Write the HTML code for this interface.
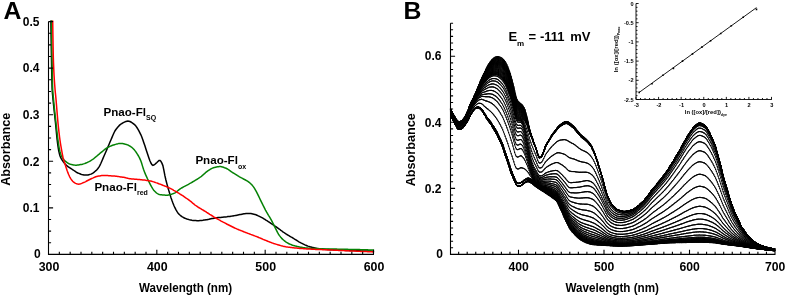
<!DOCTYPE html>
<html><head><meta charset="utf-8"><title>Figure</title>
<style>html,body{margin:0;padding:0;background:#fff}svg{display:block}</style>
</head><body>
<svg width="785" height="296" viewBox="0 0 785 296">
<rect width="785" height="296" fill="#fff"/>
<g fill="none" stroke-linejoin="round" stroke-linecap="round" stroke-width="1.5">
<path d="M50.9 21.0L51.1 35.5L51.3 48.6L51.5 60.0L51.7 70.5L51.9 80.2L52.1 87.6L52.3 91.6L52.5 94.0L52.7 96.0L52.9 98.1L53.1 100.2L53.3 102.2L53.5 104.2L53.7 106.1L53.9 108.0L54.1 109.9L54.3 111.8L54.5 113.6L54.7 115.5L54.9 117.3L55.1 119.2L55.3 121.1L55.5 123.0L55.7 125.0L55.9 127.0L56.1 129.2L56.3 131.3L56.5 133.4L56.7 135.5L56.9 137.5L57.1 139.3L57.3 141.0L57.5 142.6L57.7 144.2L57.9 145.6L58.1 147.0L58.3 148.3L58.5 149.5L58.7 150.5L58.9 151.5L59.1 152.4L59.3 153.3L59.5 154.1L59.7 154.9L59.9 155.5L60.1 156.1L60.3 156.6L60.5 157.1L60.7 157.5L60.9 157.9L61.1 158.3L61.3 158.7L61.5 159.1L61.7 159.4L61.9 159.7L62.1 160.0L62.3 160.3L62.5 160.6L62.7 160.9L62.9 161.2L63.1 161.5L63.3 161.7L63.5 162.0L63.7 162.3L63.9 162.5L64.1 162.8L64.3 163.0L64.5 163.3L64.7 163.5L64.9 163.7L65.1 164.0L65.3 164.2L65.5 164.4L65.7 164.6L65.9 164.8L66.1 165.0L66.3 165.2L66.5 165.4L66.7 165.6L66.9 165.7L67.1 165.9L67.3 166.1L67.5 166.2L67.7 166.4L67.9 166.6L68.1 166.7L68.3 166.9L68.5 167.0L68.7 167.1L68.9 167.3L69.1 167.4L69.3 167.5L69.5 167.7L69.7 167.8L69.9 167.9L70.9 168.5L71.9 169.2L72.9 169.8L73.9 170.5L74.9 171.2L75.9 171.9L76.9 172.5L77.9 173.0L78.9 173.4L79.9 173.8L80.9 174.2L81.9 174.5L82.9 174.7L83.9 174.9L84.9 175.0L85.9 175.1L86.9 175.1L87.9 175.0L88.9 174.7L89.9 174.4L90.9 174.1L91.9 173.7L92.9 173.1L93.9 172.4L94.9 171.5L95.9 170.7L96.9 169.7L97.9 168.5L98.9 167.1L99.9 165.4L100.9 163.3L101.9 161.0L102.9 158.6L103.9 156.3L104.9 154.0L105.9 151.7L106.9 149.4L107.9 147.0L108.9 144.7L109.9 142.3L110.9 140.0L111.9 137.6L112.9 135.2L113.9 133.0L114.9 131.0L115.9 129.5L116.9 128.2L117.9 127.0L118.9 125.9L119.9 124.9L120.9 124.2L121.9 123.5L122.9 122.9L123.9 122.4L124.9 121.9L125.9 121.5L126.9 121.2L127.9 121.1L128.9 121.2L129.9 121.5L130.9 122.0L131.9 122.6L132.9 123.3L133.9 124.1L134.9 124.9L135.9 126.1L136.9 127.5L137.9 129.1L138.9 130.9L139.9 132.8L140.9 134.8L141.9 137.3L142.9 140.1L143.9 143.0L144.9 145.8L145.9 148.9L146.9 151.9L147.9 154.9L148.9 157.9L149.9 160.8L150.9 163.0L151.9 164.7L152.9 165.4L153.9 165.0L154.9 164.3L155.9 163.4L156.9 162.5L157.9 161.5L158.9 160.6L159.9 160.4L160.9 161.3L161.9 163.1L162.9 165.6L163.9 170.3L164.9 175.7L165.9 180.0L166.9 183.9L167.9 187.5L168.9 190.9L169.9 194.2L170.9 197.4L171.9 200.3L172.9 203.0L173.9 205.5L174.9 207.7L175.9 209.6L176.9 211.4L177.9 212.9L178.9 214.1L179.9 215.0L180.9 215.8L181.9 216.6L182.9 217.2L183.9 217.8L184.9 218.2L185.9 218.6L186.9 219.0L187.9 219.3L188.9 219.6L189.9 219.9L190.9 220.1L191.9 220.3L192.9 220.4L193.9 220.5L194.9 220.6L195.9 220.6L196.9 220.7L197.9 220.7L198.9 220.7L199.9 220.6L200.9 220.5L201.9 220.4L202.9 220.3L203.9 220.1L204.9 220.0L205.9 219.8L206.9 219.7L207.9 219.5L208.9 219.3L209.9 219.0L210.9 218.8L211.9 218.6L212.9 218.4L213.9 218.2L214.9 218.0L215.9 217.9L216.9 217.7L217.9 217.6L218.9 217.5L219.9 217.5L220.9 217.4L221.9 217.3L222.9 217.2L223.9 217.1L224.9 217.0L225.9 216.9L226.9 216.8L227.9 216.6L228.9 216.5L229.9 216.4L230.9 216.2L231.9 216.1L232.9 215.9L233.9 215.7L234.9 215.6L235.9 215.4L236.9 215.2L237.9 215.0L238.9 214.8L239.9 214.6L240.9 214.4L241.9 214.2L242.9 214.0L243.9 213.8L244.9 213.7L245.9 213.6L246.9 213.5L247.9 213.4L248.9 213.4L249.9 213.5L250.9 213.6L251.9 213.8L252.9 214.0L253.9 214.2L254.9 214.4L255.9 214.8L256.9 215.2L257.9 215.7L258.9 216.1L259.9 216.6L260.9 217.1L261.9 217.6L262.9 218.2L263.9 218.8L264.9 219.4L265.9 220.1L266.9 220.7L267.9 221.3L268.9 222.0L269.9 222.6L270.9 223.3L271.9 224.0L272.9 224.6L273.9 225.3L274.9 226.0L275.9 226.7L276.9 227.4L277.9 228.1L278.9 228.8L279.9 229.5L280.9 230.3L281.9 231.0L282.9 231.8L283.9 232.5L284.9 233.2L285.9 233.8L286.9 234.5L287.9 235.1L288.9 235.7L289.9 236.3L290.9 236.9L291.9 237.4L292.9 238.0L293.9 238.7L294.9 239.3L295.9 239.9L296.9 240.5L297.9 241.2L298.9 241.8L299.9 242.3L300.9 242.9L301.9 243.4L302.9 243.9L303.9 244.4L304.9 244.9L305.9 245.3L306.9 245.7L307.9 246.1L308.9 246.4L309.9 246.7L310.9 247.1L311.9 247.3L312.9 247.6L313.9 247.8L314.9 248.0L315.9 248.2L316.9 248.4L317.9 248.5L318.9 248.7L319.9 248.8L320.9 248.9L321.9 249.0L322.9 249.1L323.9 249.2L324.9 249.3L325.9 249.4L326.9 249.5L327.9 249.5L328.9 249.6L329.9 249.7L330.9 249.7L331.9 249.8L332.9 249.8L333.9 249.9L334.9 249.9L335.9 250.0L336.9 250.0L337.9 250.1L338.9 250.1L339.9 250.1L340.9 250.2L341.9 250.2L342.9 250.2L343.9 250.3L344.9 250.3L345.9 250.4L346.9 250.4L347.9 250.4L348.9 250.5L349.9 250.5L350.9 250.5L351.9 250.6L352.9 250.6L353.9 250.6L354.9 250.7L355.9 250.7L356.9 250.7L357.9 250.8L358.9 250.8L359.9 250.8L360.9 250.9L361.9 250.9L362.9 250.9L363.9 251.0L364.9 251.0L365.9 251.0L366.9 251.0L367.9 251.1L368.9 251.1L369.9 251.1L370.9 251.1L371.9 251.2L372.9 251.2L373.5 251.2" stroke="#000"/>
<path d="M51.5 21.0L51.7 38.7L51.9 53.8L52.1 65.6L52.3 76.0L52.5 84.5L52.7 90.0L52.9 92.9L53.1 95.0L53.3 97.0L53.5 99.1L53.7 101.2L53.9 103.3L54.1 105.3L54.3 107.3L54.5 109.3L54.7 111.2L54.9 113.1L55.1 115.0L55.3 116.8L55.5 118.7L55.7 120.5L55.9 122.3L56.1 124.1L56.3 125.9L56.5 127.7L56.7 129.5L56.9 131.3L57.1 133.0L57.3 134.7L57.5 136.4L57.7 138.0L57.9 139.5L58.1 140.9L58.3 142.3L58.5 143.7L58.7 145.0L58.9 146.3L59.1 147.5L59.3 148.6L59.5 149.6L59.7 150.4L59.9 151.2L60.1 151.9L60.3 152.6L60.5 153.3L60.7 153.9L60.9 154.5L61.1 155.0L61.3 155.5L61.5 155.9L61.7 156.3L61.9 156.7L62.1 157.0L62.3 157.4L62.5 157.7L62.7 158.1L62.9 158.4L63.1 158.7L63.3 159.0L63.5 159.2L63.7 159.5L63.9 159.7L64.1 160.0L64.3 160.2L64.5 160.4L64.7 160.6L64.9 160.8L65.1 161.0L65.3 161.2L65.5 161.4L65.7 161.5L65.9 161.7L66.1 161.8L66.3 162.0L66.5 162.2L66.7 162.3L66.9 162.5L67.1 162.6L67.3 162.7L67.5 162.9L67.7 163.0L67.9 163.1L68.1 163.2L68.3 163.4L68.5 163.5L68.7 163.6L68.9 163.7L69.1 163.8L69.3 163.9L69.5 163.9L69.7 164.0L69.9 164.1L70.5 164.3L71.5 164.5L72.5 164.7L73.5 164.9L74.5 165.1L75.5 165.2L76.5 165.2L77.5 165.1L78.5 165.0L79.5 164.8L80.5 164.6L81.5 164.4L82.5 164.2L83.5 163.9L84.5 163.6L85.5 163.2L86.5 162.8L87.5 162.3L88.5 161.9L89.5 161.4L90.5 160.8L91.5 160.2L92.5 159.5L93.5 158.8L94.5 158.0L95.5 157.2L96.5 156.3L97.5 155.5L98.5 154.6L99.5 153.8L100.5 152.9L101.5 152.1L102.5 151.3L103.5 150.5L104.5 149.7L105.5 148.9L106.5 148.2L107.5 147.6L108.5 147.1L109.5 146.6L110.5 146.1L111.5 145.7L112.5 145.3L113.5 145.0L114.5 144.7L115.5 144.4L116.5 144.1L117.5 143.9L118.5 143.6L119.5 143.5L120.5 143.4L121.5 143.5L122.5 143.6L123.5 143.8L124.5 144.0L125.5 144.3L126.5 144.5L127.5 144.9L128.5 145.3L129.5 145.9L130.5 146.5L131.5 147.2L132.5 148.0L133.5 149.0L134.5 150.1L135.5 151.4L136.5 152.8L137.5 154.3L138.5 156.0L139.5 157.9L140.5 160.1L141.5 162.8L142.5 166.1L143.5 169.3L144.5 171.9L145.5 174.4L146.5 176.6L147.5 178.8L148.5 180.8L149.5 182.8L150.5 184.8L151.5 186.7L152.5 188.4L153.5 189.9L154.5 191.0L155.5 192.0L156.5 193.0L157.5 193.7L158.5 194.2L159.5 194.5L160.5 194.7L161.5 194.8L162.5 194.9L163.5 195.0L164.5 195.1L165.5 195.2L166.5 195.2L167.5 195.2L168.5 195.0L169.5 194.8L170.5 194.6L171.5 194.3L172.5 193.9L173.5 193.5L174.5 193.1L175.5 192.6L176.5 191.9L177.5 191.0L178.5 190.2L179.5 189.4L180.5 188.7L181.5 188.0L182.5 187.5L183.5 186.9L184.5 186.4L185.5 185.8L186.5 185.3L187.5 184.8L188.5 184.3L189.5 183.7L190.5 183.2L191.5 182.6L192.5 182.0L193.5 181.4L194.5 180.8L195.5 180.2L196.5 179.6L197.5 179.0L198.5 178.3L199.5 177.7L200.5 177.0L201.5 176.3L202.5 175.4L203.5 174.5L204.5 173.6L205.5 172.7L206.5 171.9L207.5 171.1L208.5 170.4L209.5 169.8L210.5 169.2L211.5 168.6L212.5 168.1L213.5 167.7L214.5 167.4L215.5 167.2L216.5 167.0L217.5 166.8L218.5 166.7L219.5 166.6L220.5 166.6L221.5 166.7L222.5 167.0L223.5 167.3L224.5 167.7L225.5 168.0L226.5 168.5L227.5 169.0L228.5 169.7L229.5 170.4L230.5 171.1L231.5 171.8L232.5 172.5L233.5 173.1L234.5 173.7L235.5 174.3L236.5 174.9L237.5 175.6L238.5 176.2L239.5 176.8L240.5 177.3L241.5 177.9L242.5 178.4L243.5 179.0L244.5 179.5L245.5 180.0L246.5 180.6L247.5 181.2L248.5 181.9L249.5 182.7L250.5 183.5L251.5 184.5L252.5 185.6L253.5 186.9L254.5 188.4L255.5 190.1L256.5 191.8L257.5 193.8L258.5 195.9L259.5 198.0L260.5 200.1L261.5 202.1L262.5 204.1L263.5 206.2L264.5 208.1L265.5 210.1L266.5 211.9L267.5 213.6L268.5 215.3L269.5 216.9L270.5 218.6L271.5 220.4L272.5 222.3L273.5 224.4L274.5 226.4L275.5 228.4L276.5 230.4L277.5 232.4L278.5 234.2L279.5 235.6L280.5 236.9L281.5 238.1L282.5 239.1L283.5 240.0L284.5 240.8L285.5 241.6L286.5 242.3L287.5 242.9L288.5 243.5L289.5 244.0L290.5 244.4L291.5 244.8L292.5 245.2L293.5 245.5L294.5 245.8L295.5 246.1L296.5 246.3L297.5 246.6L298.5 246.8L299.5 247.0L300.5 247.2L301.5 247.3L302.5 247.5L303.5 247.7L304.5 247.8L305.5 247.9L306.5 248.0L307.5 248.1L308.5 248.2L309.5 248.3L310.5 248.4L311.5 248.4L312.5 248.5L313.5 248.5L314.5 248.6L315.5 248.6L316.5 248.6L317.5 248.7L318.5 248.7L319.5 248.8L320.5 248.8L321.5 248.8L322.5 248.8L323.5 248.9L324.5 248.9L325.5 248.9L326.5 248.9L327.5 249.0L328.5 249.0L329.5 249.0L330.5 249.0L331.5 249.1L332.5 249.1L333.5 249.1L334.5 249.1L335.5 249.1L336.5 249.1L337.5 249.2L338.5 249.2L339.5 249.2L340.5 249.2L341.5 249.2L342.5 249.2L343.5 249.3L344.5 249.3L345.5 249.3L346.5 249.3L347.5 249.3L348.5 249.4L349.5 249.4L350.5 249.4L351.5 249.4L352.5 249.5L353.5 249.5L354.5 249.5L355.5 249.5L356.5 249.6L357.5 249.6L358.5 249.6L359.5 249.6L360.5 249.7L361.5 249.7L362.5 249.7L363.5 249.7L364.5 249.8L365.5 249.8L366.5 249.8L367.5 249.8L368.5 249.9L369.5 249.9L370.5 249.9L371.5 249.9L372.5 250.0L373.5 250.0" stroke="#058205"/>
<path d="M52.7 21.0L52.9 34.4L53.1 46.7L53.3 56.5L53.5 62.8L53.7 67.8L53.9 72.2L54.1 76.0L54.3 79.3L54.5 82.3L54.7 85.0L54.9 87.5L55.1 90.0L55.3 92.2L55.5 94.1L55.7 96.0L55.9 98.1L56.1 100.3L56.3 102.7L56.5 105.1L56.7 107.5L56.9 110.0L57.1 112.5L57.3 115.0L57.5 117.4L57.7 119.7L57.9 121.9L58.1 124.0L58.3 126.0L58.5 127.9L58.7 129.7L58.9 131.5L59.1 133.2L59.3 134.9L59.5 136.5L59.7 138.0L59.9 139.5L60.1 140.9L60.3 142.3L60.5 143.6L60.7 144.8L60.9 146.0L61.1 147.2L61.3 148.3L61.5 149.4L61.7 150.6L61.9 151.7L62.1 152.8L62.3 153.8L62.5 154.9L62.7 155.9L62.9 156.8L63.1 157.7L63.3 158.5L63.5 159.3L63.7 160.0L63.9 160.7L64.1 161.3L64.3 162.0L64.5 162.6L64.7 163.2L64.9 163.8L65.1 164.4L65.3 165.0L65.5 165.6L65.7 166.2L65.9 166.9L66.1 167.5L66.3 168.1L66.5 168.7L66.7 169.3L66.9 169.9L67.1 170.5L67.3 171.0L67.5 171.6L67.7 172.1L67.9 172.6L68.1 173.1L68.3 173.6L68.5 174.1L68.7 174.5L68.9 175.0L69.1 175.4L69.3 175.9L69.5 176.3L69.7 176.8L69.9 177.2L70.7 178.6L71.7 180.0L72.7 181.2L73.7 182.2L74.7 182.9L75.7 183.4L76.7 183.8L77.7 184.1L78.7 184.2L79.7 184.1L80.7 183.8L81.7 183.4L82.7 182.9L83.7 182.5L84.7 182.1L85.7 181.6L86.7 181.0L87.7 180.5L88.7 180.0L89.7 179.5L90.7 179.0L91.7 178.5L92.7 178.1L93.7 177.6L94.7 177.2L95.7 176.8L96.7 176.5L97.7 176.2L98.7 176.0L99.7 175.9L100.7 175.7L101.7 175.6L102.7 175.5L103.7 175.5L104.7 175.5L105.7 175.5L106.7 175.6L107.7 175.6L108.7 175.7L109.7 175.7L110.7 175.8L111.7 175.9L112.7 175.9L113.7 176.0L114.7 176.1L115.7 176.2L116.7 176.3L117.7 176.4L118.7 176.6L119.7 176.7L120.7 176.9L121.7 177.0L122.7 177.2L123.7 177.3L124.7 177.5L125.7 177.8L126.7 178.0L127.7 178.3L128.7 178.5L129.7 178.7L130.7 178.8L131.7 178.9L132.7 179.0L133.7 179.1L134.7 179.2L135.7 179.2L136.7 179.3L137.7 179.4L138.7 179.5L139.7 179.6L140.7 179.7L141.7 179.8L142.7 179.9L143.7 180.0L144.7 180.1L145.7 180.3L146.7 180.4L147.7 180.5L148.7 180.7L149.7 180.9L150.7 181.1L151.7 181.3L152.7 181.6L153.7 181.9L154.7 182.2L155.7 182.6L156.7 182.9L157.7 183.3L158.7 183.7L159.7 184.0L160.7 184.4L161.7 184.8L162.7 185.2L163.7 185.6L164.7 186.0L165.7 186.4L166.7 186.8L167.7 187.3L168.7 187.7L169.7 188.2L170.7 188.7L171.7 189.2L172.7 189.7L173.7 190.3L174.7 190.8L175.7 191.4L176.7 192.0L177.7 192.6L178.7 193.2L179.7 193.8L180.7 194.5L181.7 195.1L182.7 195.7L183.7 196.4L184.7 197.1L185.7 197.8L186.7 198.5L187.7 199.2L188.7 199.9L189.7 200.7L190.7 201.4L191.7 202.2L192.7 203.1L193.7 203.9L194.7 204.8L195.7 205.5L196.7 206.2L197.7 206.9L198.7 207.5L199.7 208.1L200.7 208.7L201.7 209.3L202.7 209.9L203.7 210.5L204.7 211.1L205.7 211.7L206.7 212.4L207.7 213.0L208.7 213.6L209.7 214.3L210.7 214.9L211.7 215.5L212.7 216.1L213.7 216.8L214.7 217.4L215.7 218.0L216.7 218.5L217.7 219.1L218.7 219.7L219.7 220.2L220.7 220.8L221.7 221.3L222.7 221.9L223.7 222.4L224.7 222.9L225.7 223.4L226.7 224.0L227.7 224.5L228.7 225.0L229.7 225.5L230.7 226.0L231.7 226.5L232.7 227.0L233.7 227.5L234.7 228.0L235.7 228.4L236.7 228.9L237.7 229.3L238.7 229.7L239.7 230.1L240.7 230.5L241.7 230.9L242.7 231.3L243.7 231.7L244.7 232.1L245.7 232.5L246.7 232.9L247.7 233.3L248.7 233.6L249.7 234.0L250.7 234.4L251.7 234.7L252.7 235.1L253.7 235.5L254.7 235.9L255.7 236.2L256.7 236.6L257.7 237.0L258.7 237.5L259.7 237.9L260.7 238.3L261.7 238.7L262.7 239.2L263.7 239.6L264.7 240.0L265.7 240.4L266.7 240.8L267.7 241.2L268.7 241.6L269.7 242.0L270.7 242.4L271.7 242.8L272.7 243.1L273.7 243.5L274.7 243.8L275.7 244.1L276.7 244.4L277.7 244.7L278.7 245.0L279.7 245.3L280.7 245.6L281.7 245.9L282.7 246.1L283.7 246.4L284.7 246.6L285.7 246.8L286.7 246.9L287.7 247.1L288.7 247.2L289.7 247.3L290.7 247.5L291.7 247.6L292.7 247.7L293.7 247.8L294.7 247.9L295.7 248.0L296.7 248.1L297.7 248.2L298.7 248.3L299.7 248.4L300.7 248.5L301.7 248.5L302.7 248.6L303.7 248.7L304.7 248.8L305.7 248.8L306.7 248.9L307.7 249.0L308.7 249.0L309.7 249.1L310.7 249.1L311.7 249.2L312.7 249.2L313.7 249.3L314.7 249.3L315.7 249.4L316.7 249.4L317.7 249.5L318.7 249.5L319.7 249.5L320.7 249.6L321.7 249.6L322.7 249.7L323.7 249.7L324.7 249.7L325.7 249.8L326.7 249.8L327.7 249.9L328.7 249.9L329.7 250.0L330.7 250.0L331.7 250.1L332.7 250.1L333.7 250.2L334.7 250.2L335.7 250.3L336.7 250.3L337.7 250.3L338.7 250.4L339.7 250.4L340.7 250.5L341.7 250.5L342.7 250.6L343.7 250.6L344.7 250.7L345.7 250.7L346.7 250.8L347.7 250.8L348.7 250.8L349.7 250.9L350.7 250.9L351.7 251.0L352.7 251.0L353.7 251.1L354.7 251.1L355.7 251.1L356.7 251.2L357.7 251.2L358.7 251.3L359.7 251.3L360.7 251.4L361.7 251.4L362.7 251.4L363.7 251.5L364.7 251.5L365.7 251.6L366.7 251.6L367.7 251.7L368.7 251.7L369.7 251.7L370.7 251.8L371.7 251.8L372.7 251.9L373.5 251.9" stroke="#f00"/>
</g>
<path d="M48.5 21.6V254.4H374.0M48.5 254.40h4.6M48.5 242.76h2.6M48.5 231.12h2.6M48.5 219.48h2.6M48.5 207.84h4.6M48.5 196.20h2.6M48.5 184.56h2.6M48.5 172.92h2.6M48.5 161.28h4.6M48.5 149.64h2.6M48.5 138.00h2.6M48.5 126.36h2.6M48.5 114.72h4.6M48.5 103.08h2.6M48.5 91.44h2.6M48.5 79.80h2.6M48.5 68.16h4.6M48.5 56.52h2.6M48.5 44.88h2.6M48.5 33.24h2.6M48.5 21.60h4.6M48.50 254.4v-4.6M59.33 254.4v-2.6M70.17 254.4v-2.6M81.00 254.4v-2.6M91.83 254.4v-2.6M102.67 254.4v-2.6M113.50 254.4v-2.6M124.33 254.4v-2.6M135.17 254.4v-2.6M146.00 254.4v-2.6M156.83 254.4v-4.6M167.67 254.4v-2.6M178.50 254.4v-2.6M189.33 254.4v-2.6M200.17 254.4v-2.6M211.00 254.4v-2.6M221.83 254.4v-2.6M232.67 254.4v-2.6M243.50 254.4v-2.6M254.33 254.4v-2.6M265.17 254.4v-4.6M276.00 254.4v-2.6M286.83 254.4v-2.6M297.67 254.4v-2.6M308.50 254.4v-2.6M319.33 254.4v-2.6M330.17 254.4v-2.6M341.00 254.4v-2.6M351.83 254.4v-2.6M362.67 254.4v-2.6M373.50 254.4v-4.6" fill="none" stroke="#000" stroke-width="1.1"/>
<g font-family='"Liberation Sans", sans-serif' font-weight="bold" fill="#000">
<text x="3.5" y="19.0" font-size="24.8">A</text>
<text x="39.5" y="25.8" font-size="12.0" text-anchor="end">0.5</text>
<text x="39.5" y="72.4" font-size="12.0" text-anchor="end">0.4</text>
<text x="39.5" y="118.9" font-size="12.0" text-anchor="end">0.3</text>
<text x="39.5" y="165.5" font-size="12.0" text-anchor="end">0.2</text>
<text x="39.5" y="212.0" font-size="12.0" text-anchor="end">0.1</text>
<text x="40.7" y="258.1" font-size="12.0" text-anchor="end">0</text>
<text x="49.0" y="271" font-size="12.4" text-anchor="middle">300</text>
<text x="157.3" y="271" font-size="12.4" text-anchor="middle">400</text>
<text x="265.7" y="271" font-size="12.4" text-anchor="middle">500</text>
<text x="374.0" y="271" font-size="12.4" text-anchor="middle">600</text>
<text x="139.1" y="292.3" font-size="12" textLength="93" lengthAdjust="spacingAndGlyphs">Wavelength (nm)</text>
<text transform="translate(10.1 185.8) rotate(-90)" font-size="12.4" textLength="73.1" lengthAdjust="spacingAndGlyphs">Absorbance</text>
<text x="103.5" y="116.2" font-size="11.6">Pnao-Fl<tspan font-size="7.0" dy="3.4">SQ</tspan></text>
<text x="195.4" y="164.0" font-size="11.6">Pnao-Fl<tspan font-size="7.0" dy="4.5">ox</tspan></text>
<text x="94.4" y="190.6" font-size="11.6">Pnao-Fl<tspan font-size="7.0" dy="4.0">red</tspan></text>
</g>
<defs><marker id="dot" markerWidth="2" markerHeight="2" refX="1" refY="1" markerUnits="userSpaceOnUse"><circle cx="1" cy="1" r="0.68" fill="#000"/></marker></defs>
<g fill="none" stroke="#000" stroke-width="0.85" stroke-linejoin="round" marker-start="url(#dot)" marker-mid="url(#dot)" marker-end="url(#dot)">
<path d="M450.5 108.8L451.4 110.5L452.2 112.1L453.1 113.7L453.9 115.3L454.8 116.8L455.6 118.4L456.5 119.6L457.3 120.6L458.2 121.3L459.1 121.6L459.9 121.5L460.8 121.2L461.6 120.8L462.5 120.1L463.3 119.2L464.2 117.9L465.0 116.4L465.9 114.6L466.7 112.7L467.6 110.7L468.5 108.8L469.3 106.5L470.2 104.3L471.0 102.3L471.9 100.5L472.7 98.8L473.6 97.2L474.4 95.5L475.3 93.6L476.2 91.6L477.0 89.3L477.9 87.1L478.7 85.0L479.6 83.0L480.4 81.0L481.3 79.1L482.1 77.2L483.0 75.3L483.8 73.5L484.7 71.7L485.6 69.8L486.4 68.1L487.3 66.4L488.1 64.9L489.0 63.5L489.8 62.3L490.7 61.1L491.5 60.0L492.4 59.1L493.3 58.4L494.1 57.8L495.0 57.3L495.8 56.9L496.7 56.7L497.5 56.6L498.4 56.7L499.2 56.9L500.1 57.2L500.9 57.6L501.8 58.0L502.7 58.7L503.5 59.5L504.4 60.4L505.2 61.6L506.1 63.1L506.9 64.8L507.8 66.8L508.6 68.9L509.5 71.2L510.4 73.7L511.2 76.7L512.1 79.9L512.9 83.3L513.8 86.7L514.6 90.5L515.5 94.3L516.3 97.4L517.2 99.8L518.0 101.1L518.9 102.0L519.8 102.8L520.6 103.6L521.5 104.2L522.3 105.0L523.2 106.1L524.0 107.6L524.9 109.5L525.7 112.5L526.6 115.8L527.5 119.4L528.3 123.2L529.2 126.9L530.0 130.4L530.9 133.4L531.7 136.2L532.6 138.7L533.4 141.1L534.3 143.4L535.1 145.7L536.0 148.2L536.9 151.1L537.7 154.0L538.6 156.2L539.4 157.1L540.3 156.9L541.1 156.4L542.0 155.2L542.8 153.3L543.7 150.9L544.6 148.5L545.4 146.3L546.3 144.6L547.1 143.0L548.0 141.4L548.8 139.9L549.7 138.5L550.5 137.1L551.4 135.8L552.2 134.5L553.1 133.3L554.0 132.1L554.8 130.9L555.7 129.8L556.5 128.7L557.4 127.6L558.2 126.6L559.1 125.7L559.9 124.9L560.8 124.3L561.7 123.7L562.5 123.1L563.4 122.5L564.2 122.1L565.1 121.7L565.9 121.5L566.8 121.5L567.6 121.8L568.5 122.2L569.3 122.7L570.2 123.3L571.1 124.0L571.9 124.8L572.8 125.5L573.6 126.2L574.5 127.1L575.3 128.1L576.2 129.1L577.0 130.2L577.9 131.3L578.8 132.4L579.6 133.4L580.5 134.4L581.3 135.2L582.2 135.9L583.0 136.6L583.9 137.3L584.7 138.0L585.6 138.7L586.4 139.5L587.3 140.3L588.2 141.3L589.0 142.3L589.9 143.5L590.7 144.8L591.6 146.2L592.4 147.8L593.3 149.5L594.1 151.5L595.0 153.9L595.9 156.5L596.7 159.1L597.6 161.7L598.4 164.3L599.3 167.0L600.1 169.8L601.0 172.6L601.8 175.6L602.7 178.8L603.5 182.0L604.4 185.1L605.3 188.2L606.1 191.4L607.0 194.4L607.8 196.7L608.7 198.7L609.5 200.4L610.4 202.0L611.2 203.3L612.1 204.5L613.0 205.5L613.8 206.5L614.7 207.3L615.5 208.2L616.4 208.9L617.2 209.4L618.1 209.9L618.9 210.2L619.8 210.5L620.6 210.8L621.5 211.0L622.4 211.2L623.2 211.3L624.1 211.4L624.9 211.4L625.8 211.3L626.6 211.2L627.5 211.1L628.3 210.9L629.2 210.7L630.1 210.4L630.9 210.2L631.8 209.9L632.6 209.6L633.5 209.2L634.3 208.7L635.2 208.1L636.0 207.5L636.9 206.8L637.7 206.1L638.6 205.4L639.5 204.6L640.3 203.9L641.2 203.1L642.0 202.3L642.9 201.5L643.7 200.6L644.6 199.6L645.4 198.7L646.3 197.7L647.2 196.5L648.0 195.4L648.9 194.1L649.7 192.9L650.6 191.7L651.4 190.6L652.3 189.5L653.1 188.4L654.0 187.4L654.8 186.4L655.7 185.4L656.6 184.3L657.4 183.3L658.3 182.2L659.1 181.2L660.0 180.1L660.8 179.1L661.7 178.0L662.5 176.9L663.4 175.8L664.3 174.6L665.1 173.5L666.0 172.3L666.8 171.0L667.7 169.7L668.5 168.4L669.4 167.1L670.2 165.8L671.1 164.4L671.9 163.0L672.8 161.6L673.7 160.2L674.5 158.8L675.4 157.3L676.2 155.9L677.1 154.5L677.9 153.0L678.8 151.6L679.6 150.0L680.5 148.5L681.4 146.9L682.2 145.3L683.1 143.8L683.9 142.2L684.8 140.6L685.6 139.1L686.5 137.7L687.3 136.2L688.2 134.9L689.0 133.6L689.9 132.2L690.8 130.9L691.6 129.6L692.5 128.4L693.3 127.4L694.2 126.5L695.0 125.7L695.9 125.0L696.7 124.3L697.6 123.6L698.5 123.2L699.3 123.0L700.2 123.0L701.0 123.2L701.9 123.5L702.7 123.9L703.6 124.4L704.4 124.9L705.3 125.6L706.1 126.6L707.0 127.9L707.9 129.4L708.7 131.0L709.6 132.6L710.4 134.3L711.3 136.1L712.1 138.0L713.0 140.0L713.8 142.2L714.7 144.5L715.6 146.9L716.4 149.7L717.3 152.6L718.1 155.7L719.0 158.9L719.8 162.1L720.7 165.5L721.5 169.1L722.4 172.6L723.2 175.9L724.1 179.0L725.0 182.0L725.8 185.0L726.7 187.9L727.5 190.8L728.4 193.6L729.2 196.4L730.1 199.2L730.9 202.0L731.8 204.6L732.7 207.1L733.5 209.3L734.4 211.3L735.2 213.3L736.1 215.1L736.9 216.9L737.8 218.7L738.6 220.6L739.5 222.5L740.3 224.3L741.2 226.0L742.1 227.5L742.9 228.8L743.8 230.2L744.6 231.4L745.5 232.6L746.3 233.7L747.2 234.8L748.0 235.8L748.9 236.7L749.8 237.7L750.6 238.6L751.5 239.5L752.3 240.3L753.2 241.0L754.0 241.7L754.9 242.3L755.7 242.9L756.6 243.4L757.4 243.8L758.3 244.3L759.2 244.7L760.0 245.1L760.9 245.4L761.7 245.8L762.6 246.1L763.4 246.3L764.3 246.6L765.1 246.9L766.0 247.1L766.9 247.3L767.7 247.6L768.6 247.8L769.4 248.0L770.3 248.2L771.1 248.4L772.0 248.5L772.8 248.7L773.7 248.8L774.5 248.9"/>
<path d="M450.5 108.9L451.4 110.6L452.2 112.2L453.1 113.8L453.9 115.4L454.8 116.9L455.6 118.4L456.5 119.7L457.3 120.6L458.2 121.4L459.1 121.7L459.9 121.5L460.8 121.3L461.6 120.9L462.5 120.2L463.3 119.2L464.2 118.0L465.0 116.5L465.9 114.7L466.7 112.8L467.6 110.9L468.5 108.9L469.3 106.7L470.2 104.5L471.0 102.4L471.9 100.6L472.7 99.0L473.6 97.3L474.4 95.6L475.3 93.8L476.2 91.7L477.0 89.5L477.9 87.3L478.7 85.3L479.6 83.3L480.4 81.3L481.3 79.4L482.1 77.5L483.0 75.7L483.8 73.9L484.7 72.1L485.6 70.4L486.4 68.6L487.3 67.0L488.1 65.5L489.0 64.1L489.8 62.9L490.7 61.8L491.5 60.7L492.4 59.8L493.3 59.1L494.1 58.6L495.0 58.1L495.8 57.8L496.7 57.5L497.5 57.5L498.4 57.6L499.2 57.8L500.1 58.2L500.9 58.5L501.8 59.0L502.7 59.7L503.5 60.5L504.4 61.5L505.2 62.6L506.1 64.1L506.9 65.9L507.8 67.8L508.6 70.0L509.5 72.3L510.4 74.8L511.2 77.7L512.1 80.9L512.9 84.3L513.8 87.8L514.6 91.6L515.5 95.4L516.3 98.4L517.2 100.8L518.0 102.0L518.9 102.9L519.8 103.7L520.6 104.4L521.5 105.0L522.3 105.8L523.2 106.9L524.0 108.3L524.9 110.2L525.7 113.1L526.6 116.3L527.5 119.9L528.3 123.6L529.2 127.2L530.0 130.7L530.9 133.6L531.7 136.3L532.6 138.8L533.4 141.2L534.3 143.5L535.1 145.8L536.0 148.3L536.9 151.2L537.7 154.1L538.6 156.3L539.4 157.1L540.3 156.9L541.1 156.5L542.0 155.3L542.8 153.3L543.7 151.0L544.6 148.5L545.4 146.4L546.3 144.7L547.1 143.1L548.0 141.5L548.8 140.0L549.7 138.6L550.5 137.2L551.4 135.8L552.2 134.6L553.1 133.4L554.0 132.2L554.8 131.0L555.7 129.9L556.5 128.8L557.4 127.7L558.2 126.7L559.1 125.8L559.9 125.1L560.8 124.4L561.7 123.8L562.5 123.2L563.4 122.7L564.2 122.2L565.1 121.8L565.9 121.7L566.8 121.7L567.6 121.9L568.5 122.3L569.3 122.8L570.2 123.5L571.1 124.2L571.9 124.9L572.8 125.6L573.6 126.4L574.5 127.2L575.3 128.2L576.2 129.3L577.0 130.4L577.9 131.5L578.8 132.5L579.6 133.6L580.5 134.5L581.3 135.3L582.2 136.1L583.0 136.8L583.9 137.4L584.7 138.1L585.6 138.8L586.4 139.6L587.3 140.4L588.2 141.4L589.0 142.4L589.9 143.6L590.7 144.9L591.6 146.3L592.4 147.9L593.3 149.6L594.1 151.6L595.0 154.0L595.9 156.6L596.7 159.2L597.6 161.8L598.4 164.4L599.3 167.1L600.1 169.8L601.0 172.7L601.8 175.7L602.7 178.9L603.5 182.0L604.4 185.1L605.3 188.3L606.1 191.5L607.0 194.5L607.8 196.8L608.7 198.7L609.5 200.5L610.4 202.0L611.2 203.4L612.1 204.5L613.0 205.5L613.8 206.5L614.7 207.4L615.5 208.2L616.4 208.9L617.2 209.5L618.1 209.9L618.9 210.2L619.8 210.5L620.6 210.8L621.5 211.0L622.4 211.2L623.2 211.4L624.1 211.4L624.9 211.4L625.8 211.4L626.6 211.2L627.5 211.1L628.3 210.9L629.2 210.7L630.1 210.5L630.9 210.2L631.8 210.0L632.6 209.7L633.5 209.3L634.3 208.7L635.2 208.2L636.0 207.5L636.9 206.8L637.7 206.1L638.6 205.4L639.5 204.7L640.3 203.9L641.2 203.2L642.0 202.4L642.9 201.5L643.7 200.6L644.6 199.7L645.4 198.7L646.3 197.7L647.2 196.6L648.0 195.4L648.9 194.2L649.7 193.0L650.6 191.8L651.4 190.6L652.3 189.5L653.1 188.5L654.0 187.5L654.8 186.4L655.7 185.4L656.6 184.4L657.4 183.3L658.3 182.3L659.1 181.2L660.0 180.2L660.8 179.1L661.7 178.1L662.5 177.0L663.4 175.8L664.3 174.7L665.1 173.5L666.0 172.3L666.8 171.1L667.7 169.8L668.5 168.5L669.4 167.2L670.2 165.8L671.1 164.5L671.9 163.1L672.8 161.7L673.7 160.3L674.5 158.8L675.4 157.4L676.2 156.0L677.1 154.5L677.9 153.1L678.8 151.6L679.6 150.1L680.5 148.6L681.4 147.0L682.2 145.4L683.1 143.8L683.9 142.3L684.8 140.7L685.6 139.2L686.5 137.7L687.3 136.3L688.2 135.0L689.0 133.6L689.9 132.3L690.8 131.0L691.6 129.7L692.5 128.5L693.3 127.5L694.2 126.6L695.0 125.8L695.9 125.1L696.7 124.4L697.6 123.7L698.5 123.3L699.3 123.1L700.2 123.1L701.0 123.3L701.9 123.6L702.7 124.0L703.6 124.5L704.4 125.0L705.3 125.7L706.1 126.7L707.0 128.0L707.9 129.5L708.7 131.1L709.6 132.7L710.4 134.4L711.3 136.1L712.1 138.0L713.0 140.1L713.8 142.2L714.7 144.5L715.6 147.0L716.4 149.7L717.3 152.7L718.1 155.8L719.0 159.0L719.8 162.2L720.7 165.6L721.5 169.1L722.4 172.6L723.2 175.9L724.1 179.0L725.0 182.1L725.8 185.1L726.7 188.0L727.5 190.8L728.4 193.6L729.2 196.4L730.1 199.3L730.9 202.0L731.8 204.6L732.7 207.1L733.5 209.3L734.4 211.4L735.2 213.3L736.1 215.2L736.9 217.0L737.8 218.8L738.6 220.6L739.5 222.5L740.3 224.3L741.2 226.0L742.1 227.5L742.9 228.9L743.8 230.2L744.6 231.4L745.5 232.6L746.3 233.7L747.2 234.8L748.0 235.8L748.9 236.7L749.8 237.7L750.6 238.6L751.5 239.5L752.3 240.3L753.2 241.0L754.0 241.7L754.9 242.3L755.7 242.9L756.6 243.4L757.4 243.8L758.3 244.3L759.2 244.7L760.0 245.1L760.9 245.4L761.7 245.8L762.6 246.1L763.4 246.3L764.3 246.6L765.1 246.9L766.0 247.1L766.9 247.4L767.7 247.6L768.6 247.8L769.4 248.0L770.3 248.2L771.1 248.4L772.0 248.5L772.8 248.7L773.7 248.8L774.5 248.9"/>
<path d="M450.5 108.9L451.4 110.6L452.2 112.3L453.1 113.9L453.9 115.4L454.8 117.0L455.6 118.5L456.5 119.7L457.3 120.7L458.2 121.5L459.1 121.8L459.9 121.6L460.8 121.3L461.6 121.0L462.5 120.3L463.3 119.3L464.2 118.1L465.0 116.6L465.9 114.8L466.7 112.9L467.6 111.0L468.5 109.0L469.3 106.8L470.2 104.6L471.0 102.6L471.9 100.8L472.7 99.1L473.6 97.5L474.4 95.8L475.3 94.0L476.2 91.9L477.0 89.7L477.9 87.6L478.7 85.5L479.6 83.6L480.4 81.6L481.3 79.7L482.1 77.9L483.0 76.1L483.8 74.4L484.7 72.6L485.6 70.9L486.4 69.2L487.3 67.6L488.1 66.1L489.0 64.8L489.8 63.6L490.7 62.5L491.5 61.5L492.4 60.6L493.3 59.9L494.1 59.4L495.0 59.0L495.8 58.6L496.7 58.4L497.5 58.4L498.4 58.5L499.2 58.7L500.1 59.1L500.9 59.5L501.8 59.9L502.7 60.6L503.5 61.5L504.4 62.5L505.2 63.6L506.1 65.1L506.9 66.9L507.8 68.9L508.6 71.1L509.5 73.3L510.4 75.9L511.2 78.8L512.1 82.0L512.9 85.4L513.8 88.8L514.6 92.7L515.5 96.4L516.3 99.5L517.2 101.7L518.0 102.9L518.9 103.8L519.8 104.5L520.6 105.2L521.5 105.8L522.3 106.6L523.2 107.7L524.0 109.1L524.9 110.9L525.7 113.7L526.6 116.8L527.5 120.3L528.3 123.9L529.2 127.5L530.0 130.9L530.9 133.8L531.7 136.4L532.6 138.9L533.4 141.2L534.3 143.5L535.1 145.9L536.0 148.3L536.9 151.2L537.7 154.1L538.6 156.3L539.4 157.2L540.3 157.0L541.1 156.5L542.0 155.3L542.8 153.4L543.7 151.0L544.6 148.6L545.4 146.4L546.3 144.7L547.1 143.1L548.0 141.6L548.8 140.1L549.7 138.6L550.5 137.3L551.4 135.9L552.2 134.7L553.1 133.4L554.0 132.3L554.8 131.1L555.7 130.0L556.5 128.9L557.4 127.8L558.2 126.8L559.1 125.9L559.9 125.2L560.8 124.5L561.7 123.9L562.5 123.3L563.4 122.8L564.2 122.3L565.1 122.0L565.9 121.8L566.8 121.8L567.6 122.0L568.5 122.4L569.3 123.0L570.2 123.6L571.1 124.3L571.9 125.1L572.8 125.8L573.6 126.5L574.5 127.4L575.3 128.4L576.2 129.4L577.0 130.5L577.9 131.6L578.8 132.7L579.6 133.7L580.5 134.6L581.3 135.4L582.2 136.2L583.0 136.9L583.9 137.6L584.7 138.2L585.6 138.9L586.4 139.7L587.3 140.6L588.2 141.5L589.0 142.5L589.9 143.7L590.7 145.0L591.6 146.4L592.4 148.0L593.3 149.7L594.1 151.7L595.0 154.1L595.9 156.7L596.7 159.3L597.6 161.9L598.4 164.5L599.3 167.1L600.1 169.9L601.0 172.8L601.8 175.8L602.7 178.9L603.5 182.1L604.4 185.2L605.3 188.3L606.1 191.6L607.0 194.5L607.8 196.8L608.7 198.8L609.5 200.5L610.4 202.1L611.2 203.4L612.1 204.6L613.0 205.6L613.8 206.5L614.7 207.4L615.5 208.2L616.4 208.9L617.2 209.5L618.1 209.9L618.9 210.2L619.8 210.6L620.6 210.8L621.5 211.1L622.4 211.3L623.2 211.4L624.1 211.5L624.9 211.4L625.8 211.4L626.6 211.3L627.5 211.1L628.3 210.9L629.2 210.7L630.1 210.5L630.9 210.3L631.8 210.0L632.6 209.7L633.5 209.3L634.3 208.8L635.2 208.2L636.0 207.5L636.9 206.9L637.7 206.1L638.6 205.4L639.5 204.7L640.3 204.0L641.2 203.2L642.0 202.4L642.9 201.5L643.7 200.6L644.6 199.7L645.4 198.8L646.3 197.7L647.2 196.6L648.0 195.4L648.9 194.2L649.7 193.0L650.6 191.8L651.4 190.6L652.3 189.6L653.1 188.5L654.0 187.5L654.8 186.5L655.7 185.4L656.6 184.4L657.4 183.4L658.3 182.3L659.1 181.3L660.0 180.2L660.8 179.2L661.7 178.1L662.5 177.0L663.4 175.9L664.3 174.8L665.1 173.6L666.0 172.4L666.8 171.1L667.7 169.9L668.5 168.6L669.4 167.2L670.2 165.9L671.1 164.5L671.9 163.1L672.8 161.7L673.7 160.3L674.5 158.9L675.4 157.5L676.2 156.0L677.1 154.6L677.9 153.2L678.8 151.7L679.6 150.2L680.5 148.7L681.4 147.1L682.2 145.5L683.1 143.9L683.9 142.4L684.8 140.8L685.6 139.3L686.5 137.8L687.3 136.4L688.2 135.1L689.0 133.7L689.9 132.4L690.8 131.1L691.6 129.8L692.5 128.6L693.3 127.6L694.2 126.7L695.0 125.9L695.9 125.2L696.7 124.4L697.6 123.8L698.5 123.4L699.3 123.2L700.2 123.2L701.0 123.4L701.9 123.7L702.7 124.1L703.6 124.6L704.4 125.1L705.3 125.8L706.1 126.8L707.0 128.1L707.9 129.6L708.7 131.2L709.6 132.8L710.4 134.5L711.3 136.2L712.1 138.1L713.0 140.2L713.8 142.3L714.7 144.6L715.6 147.1L716.4 149.8L717.3 152.8L718.1 155.9L719.0 159.0L719.8 162.2L720.7 165.7L721.5 169.2L722.4 172.7L723.2 176.0L724.1 179.1L725.0 182.1L725.8 185.1L726.7 188.0L727.5 190.8L728.4 193.7L729.2 196.5L730.1 199.3L730.9 202.1L731.8 204.7L732.7 207.1L733.5 209.3L734.4 211.4L735.2 213.3L736.1 215.2L736.9 217.0L737.8 218.8L738.6 220.6L739.5 222.5L740.3 224.3L741.2 226.0L742.1 227.5L742.9 228.9L743.8 230.2L744.6 231.4L745.5 232.6L746.3 233.7L747.2 234.8L748.0 235.8L748.9 236.8L749.8 237.7L750.6 238.6L751.5 239.5L752.3 240.3L753.2 241.0L754.0 241.7L754.9 242.3L755.7 242.9L756.6 243.4L757.4 243.8L758.3 244.3L759.2 244.7L760.0 245.1L760.9 245.4L761.7 245.8L762.6 246.1L763.4 246.3L764.3 246.6L765.1 246.9L766.0 247.1L766.9 247.4L767.7 247.6L768.6 247.8L769.4 248.0L770.3 248.2L771.1 248.4L772.0 248.5L772.8 248.7L773.7 248.8L774.5 248.9"/>
<path d="M450.5 109.0L451.4 110.7L452.2 112.3L453.1 113.9L453.9 115.5L454.8 117.1L455.6 118.6L456.5 119.8L457.3 120.8L458.2 121.6L459.1 121.9L459.9 121.7L460.8 121.4L461.6 121.0L462.5 120.3L463.3 119.4L464.2 118.2L465.0 116.7L465.9 114.9L466.7 113.0L467.6 111.1L468.5 109.1L469.3 106.9L470.2 104.7L471.0 102.7L471.9 100.9L472.7 99.2L473.6 97.6L474.4 95.9L475.3 94.1L476.2 92.1L477.0 89.9L477.9 87.8L478.7 85.8L479.6 83.8L480.4 81.9L481.3 80.1L482.1 78.3L483.0 76.5L483.8 74.8L484.7 73.1L485.6 71.4L486.4 69.7L487.3 68.1L488.1 66.7L489.0 65.4L489.8 64.3L490.7 63.2L491.5 62.2L492.4 61.3L493.3 60.7L494.1 60.2L495.0 59.8L495.8 59.4L496.7 59.2L497.5 59.2L498.4 59.4L499.2 59.7L500.1 60.0L500.9 60.4L501.8 60.9L502.7 61.6L503.5 62.5L504.4 63.5L505.2 64.7L506.1 66.2L506.9 68.0L507.8 70.0L508.6 72.1L509.5 74.4L510.4 76.9L511.2 79.8L512.1 83.1L512.9 86.4L513.8 89.9L514.6 93.8L515.5 97.5L516.3 100.5L517.2 102.7L518.0 103.8L518.9 104.6L519.8 105.4L520.6 106.0L521.5 106.6L522.3 107.4L523.2 108.5L524.0 109.8L524.9 111.6L525.7 114.3L526.6 117.3L527.5 120.7L528.3 124.3L529.2 127.8L530.0 131.1L530.9 134.0L531.7 136.6L532.6 139.0L533.4 141.3L534.3 143.6L535.1 145.9L536.0 148.4L536.9 151.3L537.7 154.2L538.6 156.4L539.4 157.2L540.3 157.0L541.1 156.5L542.0 155.4L542.8 153.4L543.7 151.1L544.6 148.7L545.4 146.5L546.3 144.8L547.1 143.2L548.0 141.7L548.8 140.2L549.7 138.7L550.5 137.3L551.4 136.0L552.2 134.7L553.1 133.5L554.0 132.4L554.8 131.2L555.7 130.1L556.5 129.0L557.4 127.9L558.2 126.9L559.1 126.1L559.9 125.3L560.8 124.6L561.7 124.0L562.5 123.4L563.4 122.9L564.2 122.4L565.1 122.1L565.9 121.9L566.8 121.9L567.6 122.2L568.5 122.6L569.3 123.1L570.2 123.8L571.1 124.5L571.9 125.2L572.8 125.9L573.6 126.6L574.5 127.5L575.3 128.5L576.2 129.5L577.0 130.6L577.9 131.7L578.8 132.8L579.6 133.8L580.5 134.7L581.3 135.6L582.2 136.3L583.0 137.0L583.9 137.7L584.7 138.4L585.6 139.1L586.4 139.8L587.3 140.7L588.2 141.6L589.0 142.7L589.9 143.8L590.7 145.1L591.6 146.5L592.4 148.1L593.3 149.8L594.1 151.8L595.0 154.2L595.9 156.8L596.7 159.4L597.6 161.9L598.4 164.5L599.3 167.2L600.1 170.0L601.0 172.8L601.8 175.9L602.7 179.0L603.5 182.2L604.4 185.3L605.3 188.4L606.1 191.6L607.0 194.6L607.8 196.9L608.7 198.8L609.5 200.6L610.4 202.1L611.2 203.4L612.1 204.6L613.0 205.6L613.8 206.6L614.7 207.5L615.5 208.3L616.4 209.0L617.2 209.5L618.1 210.0L618.9 210.3L619.8 210.6L620.6 210.9L621.5 211.1L622.4 211.3L623.2 211.4L624.1 211.5L624.9 211.5L625.8 211.4L626.6 211.3L627.5 211.2L628.3 211.0L629.2 210.8L630.1 210.5L630.9 210.3L631.8 210.0L632.6 209.7L633.5 209.3L634.3 208.8L635.2 208.2L636.0 207.6L636.9 206.9L637.7 206.2L638.6 205.5L639.5 204.7L640.3 204.0L641.2 203.2L642.0 202.4L642.9 201.6L643.7 200.7L644.6 199.8L645.4 198.8L646.3 197.8L647.2 196.7L648.0 195.5L648.9 194.3L649.7 193.0L650.6 191.8L651.4 190.7L652.3 189.6L653.1 188.6L654.0 187.6L654.8 186.5L655.7 185.5L656.6 184.4L657.4 183.4L658.3 182.4L659.1 181.3L660.0 180.3L660.8 179.2L661.7 178.2L662.5 177.1L663.4 176.0L664.3 174.8L665.1 173.6L666.0 172.4L666.8 171.2L667.7 169.9L668.5 168.6L669.4 167.3L670.2 166.0L671.1 164.6L671.9 163.2L672.8 161.8L673.7 160.4L674.5 159.0L675.4 157.5L676.2 156.1L677.1 154.7L677.9 153.2L678.8 151.8L679.6 150.3L680.5 148.7L681.4 147.2L682.2 145.6L683.1 144.0L683.9 142.4L684.8 140.9L685.6 139.4L686.5 137.9L687.3 136.5L688.2 135.2L689.0 133.8L689.9 132.5L690.8 131.1L691.6 129.9L692.5 128.7L693.3 127.7L694.2 126.8L695.0 126.0L695.9 125.3L696.7 124.5L697.6 123.9L698.5 123.5L699.3 123.3L700.2 123.3L701.0 123.5L701.9 123.8L702.7 124.2L703.6 124.7L704.4 125.2L705.3 125.8L706.1 126.9L707.0 128.2L707.9 129.7L708.7 131.3L709.6 132.9L710.4 134.5L711.3 136.3L712.1 138.2L713.0 140.2L713.8 142.4L714.7 144.7L715.6 147.1L716.4 149.9L717.3 152.8L718.1 155.9L719.0 159.1L719.8 162.3L720.7 165.7L721.5 169.2L722.4 172.7L723.2 176.0L724.1 179.2L725.0 182.2L725.8 185.1L726.7 188.0L727.5 190.9L728.4 193.7L729.2 196.5L730.1 199.3L730.9 202.1L731.8 204.7L732.7 207.2L733.5 209.4L734.4 211.4L735.2 213.4L736.1 215.2L736.9 217.0L737.8 218.8L738.6 220.7L739.5 222.5L740.3 224.3L741.2 226.0L742.1 227.5L742.9 228.9L743.8 230.2L744.6 231.4L745.5 232.6L746.3 233.7L747.2 234.8L748.0 235.8L748.9 236.8L749.8 237.7L750.6 238.6L751.5 239.5L752.3 240.3L753.2 241.0L754.0 241.7L754.9 242.3L755.7 242.9L756.6 243.4L757.4 243.8L758.3 244.3L759.2 244.7L760.0 245.1L760.9 245.4L761.7 245.8L762.6 246.1L763.4 246.3L764.3 246.6L765.1 246.9L766.0 247.1L766.9 247.4L767.7 247.6L768.6 247.8L769.4 248.0L770.3 248.2L771.1 248.4L772.0 248.5L772.8 248.7L773.7 248.8L774.5 248.9"/>
<path d="M450.5 109.0L451.4 110.8L452.2 112.4L453.1 114.0L453.9 115.6L454.8 117.1L455.6 118.7L456.5 119.9L457.3 120.9L458.2 121.7L459.1 121.9L459.9 121.8L460.8 121.5L461.6 121.1L462.5 120.4L463.3 119.5L464.2 118.3L465.0 116.7L465.9 115.0L466.7 113.1L467.6 111.2L468.5 109.2L469.3 107.0L470.2 104.8L471.0 102.8L471.9 101.1L472.7 99.4L473.6 97.8L474.4 96.1L475.3 94.3L476.2 92.3L477.0 90.1L477.9 88.0L478.7 86.0L479.6 84.1L480.4 82.2L481.3 80.4L482.1 78.6L483.0 76.9L483.8 75.3L484.7 73.6L485.6 71.9L486.4 70.3L487.3 68.7L488.1 67.3L489.0 66.0L489.8 64.9L490.7 63.9L491.5 62.9L492.4 62.1L493.3 61.4L494.1 61.0L495.0 60.6L495.8 60.3L496.7 60.1L497.5 60.1L498.4 60.3L499.2 60.6L500.1 60.9L500.9 61.3L501.8 61.9L502.7 62.6L503.5 63.5L504.4 64.5L505.2 65.7L506.1 67.2L506.9 69.0L507.8 71.0L508.6 73.2L509.5 75.5L510.4 78.0L511.2 80.9L512.1 84.1L512.9 87.5L513.8 91.0L514.6 94.9L515.5 98.6L516.3 101.5L517.2 103.7L518.0 104.8L518.9 105.5L519.8 106.2L520.6 106.8L521.5 107.5L522.3 108.3L523.2 109.3L524.0 110.6L524.9 112.3L525.7 114.9L526.6 117.9L527.5 121.2L528.3 124.7L529.2 128.0L530.0 131.3L530.9 134.1L531.7 136.7L532.6 139.1L533.4 141.4L534.3 143.7L535.1 146.0L536.0 148.4L536.9 151.3L537.7 154.2L538.6 156.4L539.4 157.3L540.3 157.1L541.1 156.6L542.0 155.4L542.8 153.5L543.7 151.1L544.6 148.7L545.4 146.6L546.3 144.9L547.1 143.3L548.0 141.7L548.8 140.2L549.7 138.8L550.5 137.4L551.4 136.1L552.2 134.8L553.1 133.6L554.0 132.5L554.8 131.3L555.7 130.2L556.5 129.1L557.4 128.0L558.2 127.0L559.1 126.2L559.9 125.4L560.8 124.7L561.7 124.1L562.5 123.6L563.4 123.0L564.2 122.6L565.1 122.2L565.9 122.1L566.8 122.1L567.6 122.3L568.5 122.7L569.3 123.3L570.2 123.9L571.1 124.6L571.9 125.3L572.8 126.0L573.6 126.8L574.5 127.7L575.3 128.6L576.2 129.7L577.0 130.8L577.9 131.9L578.8 132.9L579.6 133.9L580.5 134.9L581.3 135.7L582.2 136.4L583.0 137.1L583.9 137.8L584.7 138.5L585.6 139.2L586.4 139.9L587.3 140.8L588.2 141.7L589.0 142.8L589.9 143.9L590.7 145.2L591.6 146.6L592.4 148.2L593.3 149.9L594.1 151.9L595.0 154.3L595.9 156.9L596.7 159.5L597.6 162.0L598.4 164.6L599.3 167.3L600.1 170.1L601.0 172.9L601.8 175.9L602.7 179.1L603.5 182.2L604.4 185.3L605.3 188.4L606.1 191.7L607.0 194.6L607.8 196.9L608.7 198.9L609.5 200.6L610.4 202.1L611.2 203.5L612.1 204.6L613.0 205.6L613.8 206.6L614.7 207.5L615.5 208.3L616.4 209.0L617.2 209.6L618.1 210.0L618.9 210.3L619.8 210.6L620.6 210.9L621.5 211.1L622.4 211.3L623.2 211.5L624.1 211.5L624.9 211.5L625.8 211.4L626.6 211.3L627.5 211.2L628.3 211.0L629.2 210.8L630.1 210.6L630.9 210.3L631.8 210.1L632.6 209.8L633.5 209.3L634.3 208.8L635.2 208.3L636.0 207.6L636.9 206.9L637.7 206.2L638.6 205.5L639.5 204.8L640.3 204.0L641.2 203.3L642.0 202.5L642.9 201.6L643.7 200.7L644.6 199.8L645.4 198.8L646.3 197.8L647.2 196.7L648.0 195.5L648.9 194.3L649.7 193.1L650.6 191.9L651.4 190.7L652.3 189.6L653.1 188.6L654.0 187.6L654.8 186.6L655.7 185.5L656.6 184.5L657.4 183.5L658.3 182.4L659.1 181.4L660.0 180.3L660.8 179.3L661.7 178.2L662.5 177.1L663.4 176.0L664.3 174.9L665.1 173.7L666.0 172.5L666.8 171.2L667.7 170.0L668.5 168.7L669.4 167.4L670.2 166.0L671.1 164.6L671.9 163.3L672.8 161.9L673.7 160.5L674.5 159.0L675.4 157.6L676.2 156.2L677.1 154.7L677.9 153.3L678.8 151.8L679.6 150.3L680.5 148.8L681.4 147.2L682.2 145.7L683.1 144.1L683.9 142.5L684.8 141.0L685.6 139.5L686.5 138.0L687.3 136.6L688.2 135.2L689.0 133.9L689.9 132.6L690.8 131.2L691.6 130.0L692.5 128.8L693.3 127.8L694.2 126.9L695.0 126.1L695.9 125.3L696.7 124.6L697.6 124.0L698.5 123.6L699.3 123.4L700.2 123.4L701.0 123.6L701.9 123.9L702.7 124.3L703.6 124.8L704.4 125.3L705.3 125.9L706.1 127.0L707.0 128.3L707.9 129.8L708.7 131.4L709.6 133.0L710.4 134.6L711.3 136.4L712.1 138.3L713.0 140.3L713.8 142.5L714.7 144.8L715.6 147.2L716.4 149.9L717.3 152.9L718.1 156.0L719.0 159.2L719.8 162.4L720.7 165.8L721.5 169.3L722.4 172.8L723.2 176.1L724.1 179.2L725.0 182.2L725.8 185.2L726.7 188.1L727.5 190.9L728.4 193.7L729.2 196.6L730.1 199.4L730.9 202.1L731.8 204.7L732.7 207.2L733.5 209.4L734.4 211.5L735.2 213.4L736.1 215.2L736.9 217.0L737.8 218.8L738.6 220.7L739.5 222.5L740.3 224.3L741.2 226.0L742.1 227.5L742.9 228.9L743.8 230.2L744.6 231.5L745.5 232.6L746.3 233.7L747.2 234.8L748.0 235.8L748.9 236.8L749.8 237.7L750.6 238.6L751.5 239.5L752.3 240.3L753.2 241.1L754.0 241.7L754.9 242.3L755.7 242.9L756.6 243.4L757.4 243.9L758.3 244.3L759.2 244.7L760.0 245.1L760.9 245.5L761.7 245.8L762.6 246.1L763.4 246.3L764.3 246.6L765.1 246.9L766.0 247.1L766.9 247.4L767.7 247.6L768.6 247.8L769.4 248.0L770.3 248.2L771.1 248.4L772.0 248.5L772.8 248.7L773.7 248.8L774.5 248.9"/>
<path d="M450.5 109.1L451.4 110.8L452.2 112.5L453.1 114.1L453.9 115.6L454.8 117.2L455.6 118.8L456.5 120.0L457.3 121.0L458.2 121.8L459.1 122.0L459.9 121.9L460.8 121.6L461.6 121.2L462.5 120.5L463.3 119.6L464.2 118.4L465.0 116.8L465.9 115.1L466.7 113.2L467.6 111.3L468.5 109.3L469.3 107.1L470.2 105.0L471.0 103.0L471.9 101.2L472.7 99.5L473.6 97.9L474.4 96.2L475.3 94.5L476.2 92.5L477.0 90.3L477.9 88.2L478.7 86.3L479.6 84.4L480.4 82.5L481.3 80.7L482.1 79.0L483.0 77.3L483.8 75.7L484.7 74.1L485.6 72.4L486.4 70.8L487.3 69.3L488.1 67.9L489.0 66.7L489.8 65.6L490.7 64.6L491.5 63.6L492.4 62.8L493.3 62.2L494.1 61.8L495.0 61.4L495.8 61.1L496.7 60.9L497.5 61.0L498.4 61.2L499.2 61.5L500.1 61.9L500.9 62.3L501.8 62.8L502.7 63.6L503.5 64.5L504.4 65.5L505.2 66.7L506.1 68.3L506.9 70.1L507.8 72.1L508.6 74.2L509.5 76.5L510.4 79.1L511.2 82.0L512.1 85.2L512.9 88.6L513.8 92.1L514.6 95.9L515.5 99.6L516.3 102.5L517.2 104.6L518.0 105.7L518.9 106.4L519.8 107.0L520.6 107.6L521.5 108.3L522.3 109.1L523.2 110.1L524.0 111.4L524.9 113.0L525.7 115.5L526.6 118.4L527.5 121.6L528.3 125.0L529.2 128.3L530.0 131.6L530.9 134.3L531.7 136.8L532.6 139.2L533.4 141.5L534.3 143.7L535.1 146.0L536.0 148.5L536.9 151.4L537.7 154.3L538.6 156.5L539.4 157.3L540.3 157.1L541.1 156.6L542.0 155.5L542.8 153.5L543.7 151.2L544.6 148.8L545.4 146.6L546.3 144.9L547.1 143.3L548.0 141.8L548.8 140.3L549.7 138.9L550.5 137.5L551.4 136.2L552.2 134.9L553.1 133.7L554.0 132.5L554.8 131.4L555.7 130.3L556.5 129.2L557.4 128.1L558.2 127.1L559.1 126.3L559.9 125.5L560.8 124.8L561.7 124.3L562.5 123.7L563.4 123.2L564.2 122.7L565.1 122.4L565.9 122.2L566.8 122.2L567.6 122.4L568.5 122.9L569.3 123.4L570.2 124.0L571.1 124.7L571.9 125.5L572.8 126.2L573.6 126.9L574.5 127.8L575.3 128.8L576.2 129.8L577.0 130.9L577.9 132.0L578.8 133.1L579.6 134.1L580.5 135.0L581.3 135.8L582.2 136.5L583.0 137.2L583.9 137.9L584.7 138.6L585.6 139.3L586.4 140.1L587.3 140.9L588.2 141.8L589.0 142.9L589.9 144.1L590.7 145.3L591.6 146.8L592.4 148.3L593.3 150.0L594.1 152.0L595.0 154.4L595.9 157.0L596.7 159.6L597.6 162.1L598.4 164.7L599.3 167.4L600.1 170.1L601.0 173.0L601.8 176.0L602.7 179.1L603.5 182.3L604.4 185.4L605.3 188.5L606.1 191.7L607.0 194.7L607.8 197.0L608.7 198.9L609.5 200.6L610.4 202.2L611.2 203.5L612.1 204.7L613.0 205.7L613.8 206.6L614.7 207.5L615.5 208.3L616.4 209.0L617.2 209.6L618.1 210.0L618.9 210.3L619.8 210.7L620.6 210.9L621.5 211.2L622.4 211.4L623.2 211.5L624.1 211.6L624.9 211.5L625.8 211.5L626.6 211.4L627.5 211.2L628.3 211.0L629.2 210.8L630.1 210.6L630.9 210.4L631.8 210.1L632.6 209.8L633.5 209.4L634.3 208.9L635.2 208.3L636.0 207.6L636.9 207.0L637.7 206.2L638.6 205.5L639.5 204.8L640.3 204.1L641.2 203.3L642.0 202.5L642.9 201.6L643.7 200.8L644.6 199.8L645.4 198.9L646.3 197.9L647.2 196.7L648.0 195.6L648.9 194.3L649.7 193.1L650.6 191.9L651.4 190.8L652.3 189.7L653.1 188.7L654.0 187.6L654.8 186.6L655.7 185.6L656.6 184.5L657.4 183.5L658.3 182.5L659.1 181.4L660.0 180.4L660.8 179.3L661.7 178.3L662.5 177.2L663.4 176.1L664.3 174.9L665.1 173.8L666.0 172.5L666.8 171.3L667.7 170.0L668.5 168.7L669.4 167.4L670.2 166.1L671.1 164.7L671.9 163.3L672.8 161.9L673.7 160.5L674.5 159.1L675.4 157.7L676.2 156.2L677.1 154.8L677.9 153.4L678.8 151.9L679.6 150.4L680.5 148.9L681.4 147.3L682.2 145.7L683.1 144.2L683.9 142.6L684.8 141.1L685.6 139.5L686.5 138.1L687.3 136.7L688.2 135.3L689.0 134.0L689.9 132.6L690.8 131.3L691.6 130.1L692.5 128.9L693.3 127.9L694.2 127.0L695.0 126.2L695.9 125.4L696.7 124.7L697.6 124.1L698.5 123.7L699.3 123.5L700.2 123.5L701.0 123.7L701.9 124.0L702.7 124.4L703.6 124.9L704.4 125.4L705.3 126.0L706.1 127.1L707.0 128.4L707.9 129.9L708.7 131.5L709.6 133.1L710.4 134.7L711.3 136.5L712.1 138.4L713.0 140.4L713.8 142.6L714.7 144.8L715.6 147.3L716.4 150.0L717.3 153.0L718.1 156.1L719.0 159.2L719.8 162.4L720.7 165.9L721.5 169.4L722.4 172.8L723.2 176.1L724.1 179.3L725.0 182.3L725.8 185.2L726.7 188.1L727.5 191.0L728.4 193.8L729.2 196.6L730.1 199.4L730.9 202.2L731.8 204.8L732.7 207.2L733.5 209.4L734.4 211.5L735.2 213.4L736.1 215.2L736.9 217.0L737.8 218.9L738.6 220.7L739.5 222.5L740.3 224.4L741.2 226.0L742.1 227.5L742.9 228.9L743.8 230.2L744.6 231.5L745.5 232.6L746.3 233.8L747.2 234.8L748.0 235.8L748.9 236.8L749.8 237.7L750.6 238.6L751.5 239.5L752.3 240.3L753.2 241.1L754.0 241.7L754.9 242.3L755.7 242.9L756.6 243.4L757.4 243.9L758.3 244.3L759.2 244.7L760.0 245.1L760.9 245.5L761.7 245.8L762.6 246.1L763.4 246.3L764.3 246.6L765.1 246.9L766.0 247.1L766.9 247.4L767.7 247.6L768.6 247.8L769.4 248.0L770.3 248.2L771.1 248.4L772.0 248.5L772.8 248.7L773.7 248.8L774.5 248.9"/>
<path d="M450.5 109.2L451.4 110.9L452.2 112.5L453.1 114.2L453.9 115.7L454.8 117.3L455.6 118.8L456.5 120.1L457.3 121.0L458.2 121.8L459.1 122.1L459.9 122.0L460.8 121.7L461.6 121.3L462.5 120.6L463.3 119.7L464.2 118.5L465.0 116.9L465.9 115.2L466.7 113.3L467.6 111.4L468.5 109.4L469.3 107.3L470.2 105.1L471.0 103.1L471.9 101.3L472.7 99.7L473.6 98.0L474.4 96.4L475.3 94.6L476.2 92.7L477.0 90.5L477.9 88.5L478.7 86.5L479.6 84.7L480.4 82.9L481.3 81.1L482.1 79.4L483.0 77.8L483.8 76.1L484.7 74.5L485.6 72.9L486.4 71.4L487.3 69.9L488.1 68.5L489.0 67.3L489.8 66.3L490.7 65.2L491.5 64.3L492.4 63.6L493.3 63.0L494.1 62.6L495.0 62.2L495.8 61.9L496.7 61.8L497.5 61.8L498.4 62.1L499.2 62.4L500.1 62.8L500.9 63.2L501.8 63.8L502.7 64.5L503.5 65.5L504.4 66.5L505.2 67.8L506.1 69.3L506.9 71.1L507.8 73.1L508.6 75.3L509.5 77.6L510.4 80.1L511.2 83.0L512.1 86.2L512.9 89.6L513.8 93.1L514.6 97.0L515.5 100.7L516.3 103.6L517.2 105.6L518.0 106.6L518.9 107.3L519.8 107.9L520.6 108.4L521.5 109.1L522.3 109.9L523.2 110.9L524.0 112.1L524.9 113.7L525.7 116.1L526.6 118.9L527.5 122.0L528.3 125.4L529.2 128.6L530.0 131.8L530.9 134.5L531.7 136.9L532.6 139.3L533.4 141.5L534.3 143.8L535.1 146.1L536.0 148.5L536.9 151.4L537.7 154.3L538.6 156.5L539.4 157.4L540.3 157.1L541.1 156.7L542.0 155.5L542.8 153.6L543.7 151.3L544.6 148.8L545.4 146.7L546.3 145.0L547.1 143.4L548.0 141.9L548.8 140.4L549.7 138.9L550.5 137.6L551.4 136.3L552.2 135.0L553.1 133.8L554.0 132.6L554.8 131.5L555.7 130.3L556.5 129.3L557.4 128.2L558.2 127.3L559.1 126.4L559.9 125.6L560.8 125.0L561.7 124.4L562.5 123.8L563.4 123.3L564.2 122.8L565.1 122.5L565.9 122.3L566.8 122.3L567.6 122.6L568.5 123.0L569.3 123.5L570.2 124.2L571.1 124.9L571.9 125.6L572.8 126.3L573.6 127.1L574.5 127.9L575.3 128.9L576.2 129.9L577.0 131.0L577.9 132.1L578.8 133.2L579.6 134.2L580.5 135.1L581.3 135.9L582.2 136.7L583.0 137.4L583.9 138.0L584.7 138.7L585.6 139.4L586.4 140.2L587.3 141.0L588.2 142.0L589.0 143.0L589.9 144.2L590.7 145.4L591.6 146.9L592.4 148.4L593.3 150.1L594.1 152.1L595.0 154.5L595.9 157.1L596.7 159.7L597.6 162.2L598.4 164.8L599.3 167.5L600.1 170.2L601.0 173.1L601.8 176.1L602.7 179.2L603.5 182.4L604.4 185.5L605.3 188.6L606.1 191.8L607.0 194.7L607.8 197.0L608.7 199.0L609.5 200.7L610.4 202.2L611.2 203.6L612.1 204.7L613.0 205.7L613.8 206.7L614.7 207.6L615.5 208.4L616.4 209.1L617.2 209.6L618.1 210.1L618.9 210.4L619.8 210.7L620.6 211.0L621.5 211.2L622.4 211.4L623.2 211.5L624.1 211.6L624.9 211.6L625.8 211.5L626.6 211.4L627.5 211.3L628.3 211.1L629.2 210.9L630.1 210.6L630.9 210.4L631.8 210.1L632.6 209.8L633.5 209.4L634.3 208.9L635.2 208.3L636.0 207.7L636.9 207.0L637.7 206.3L638.6 205.6L639.5 204.8L640.3 204.1L641.2 203.3L642.0 202.5L642.9 201.7L643.7 200.8L644.6 199.9L645.4 198.9L646.3 197.9L647.2 196.8L648.0 195.6L648.9 194.4L649.7 193.2L650.6 192.0L651.4 190.8L652.3 189.7L653.1 188.7L654.0 187.7L654.8 186.7L655.7 185.6L656.6 184.6L657.4 183.6L658.3 182.5L659.1 181.5L660.0 180.4L660.8 179.4L661.7 178.3L662.5 177.2L663.4 176.1L664.3 175.0L665.1 173.8L666.0 172.6L666.8 171.4L667.7 170.1L668.5 168.8L669.4 167.5L670.2 166.1L671.1 164.8L671.9 163.4L672.8 162.0L673.7 160.6L674.5 159.2L675.4 157.7L676.2 156.3L677.1 154.9L677.9 153.4L678.8 152.0L679.6 150.5L680.5 149.0L681.4 147.4L682.2 145.8L683.1 144.2L683.9 142.7L684.8 141.1L685.6 139.6L686.5 138.2L687.3 136.8L688.2 135.4L689.0 134.1L689.9 132.7L690.8 131.4L691.6 130.2L692.5 129.0L693.3 127.9L694.2 127.1L695.0 126.3L695.9 125.5L696.7 124.8L697.6 124.2L698.5 123.8L699.3 123.6L700.2 123.6L701.0 123.8L701.9 124.1L702.7 124.5L703.6 124.9L704.4 125.5L705.3 126.1L706.1 127.2L707.0 128.5L707.9 130.0L708.7 131.6L709.6 133.2L710.4 134.8L711.3 136.6L712.1 138.5L713.0 140.5L713.8 142.6L714.7 144.9L715.6 147.4L716.4 150.1L717.3 153.0L718.1 156.1L719.0 159.3L719.8 162.5L720.7 165.9L721.5 169.4L722.4 172.9L723.2 176.2L724.1 179.3L725.0 182.3L725.8 185.3L726.7 188.2L727.5 191.0L728.4 193.8L729.2 196.6L730.1 199.4L730.9 202.2L731.8 204.8L732.7 207.2L733.5 209.5L734.4 211.5L735.2 213.4L736.1 215.3L736.9 217.1L737.8 218.9L738.6 220.7L739.5 222.6L740.3 224.4L741.2 226.1L742.1 227.5L742.9 228.9L743.8 230.2L744.6 231.5L745.5 232.7L746.3 233.8L747.2 234.8L748.0 235.8L748.9 236.8L749.8 237.7L750.6 238.6L751.5 239.5L752.3 240.3L753.2 241.1L754.0 241.8L754.9 242.4L755.7 242.9L756.6 243.4L757.4 243.9L758.3 244.3L759.2 244.7L760.0 245.1L760.9 245.5L761.7 245.8L762.6 246.1L763.4 246.3L764.3 246.6L765.1 246.9L766.0 247.1L766.9 247.4L767.7 247.6L768.6 247.8L769.4 248.0L770.3 248.2L771.1 248.4L772.0 248.5L772.8 248.7L773.7 248.8L774.5 248.9"/>
<path d="M450.5 109.2L451.4 110.9L452.2 112.6L453.1 114.2L453.9 115.8L454.8 117.4L455.6 118.9L456.5 120.1L457.3 121.1L458.2 121.9L459.1 122.2L459.9 122.1L460.8 121.8L461.6 121.4L462.5 120.7L463.3 119.8L464.2 118.5L465.0 117.0L465.9 115.3L466.7 113.4L467.6 111.5L468.5 109.5L469.3 107.4L470.2 105.2L471.0 103.2L471.9 101.5L472.7 99.8L473.6 98.2L474.4 96.5L475.3 94.8L476.2 92.8L477.0 90.7L477.9 88.7L478.7 86.8L479.6 84.9L480.4 83.2L481.3 81.4L482.1 79.8L483.0 78.2L483.8 76.6L484.7 75.0L485.6 73.4L486.4 71.9L487.3 70.5L488.1 69.1L489.0 68.0L489.8 66.9L490.7 65.9L491.5 65.1L492.4 64.3L493.3 63.7L494.1 63.4L495.0 63.0L495.8 62.8L496.7 62.6L497.5 62.7L498.4 62.9L499.2 63.3L500.1 63.7L500.9 64.2L501.8 64.7L502.7 65.5L503.5 66.5L504.4 67.5L505.2 68.8L506.1 70.3L506.9 72.1L507.8 74.2L508.6 76.4L509.5 78.7L510.4 81.2L511.2 84.1L512.1 87.3L512.9 90.7L513.8 94.2L514.6 98.1L515.5 101.8L516.3 104.6L517.2 106.6L518.0 107.5L518.9 108.2L519.8 108.7L520.6 109.3L521.5 109.9L522.3 110.7L523.2 111.7L524.0 112.9L524.9 114.4L525.7 116.7L526.6 119.4L527.5 122.5L528.3 125.7L529.2 128.9L530.0 132.0L530.9 134.7L531.7 137.1L532.6 139.4L533.4 141.6L534.3 143.8L535.1 146.1L536.0 148.6L536.9 151.5L537.7 154.4L538.6 156.6L539.4 157.4L540.3 157.2L541.1 156.7L542.0 155.6L542.8 153.7L543.7 151.3L544.6 148.9L545.4 146.8L546.3 145.1L547.1 143.5L548.0 141.9L548.8 140.5L549.7 139.0L550.5 137.7L551.4 136.3L552.2 135.1L553.1 133.9L554.0 132.7L554.8 131.6L555.7 130.4L556.5 129.4L557.4 128.3L558.2 127.4L559.1 126.5L559.9 125.7L560.8 125.1L561.7 124.5L562.5 123.9L563.4 123.4L564.2 123.0L565.1 122.6L565.9 122.5L566.8 122.5L567.6 122.7L568.5 123.1L569.3 123.7L570.2 124.3L571.1 125.0L571.9 125.7L572.8 126.5L573.6 127.2L574.5 128.1L575.3 129.0L576.2 130.1L577.0 131.2L577.9 132.3L578.8 133.3L579.6 134.3L580.5 135.2L581.3 136.1L582.2 136.8L583.0 137.5L583.9 138.2L584.7 138.8L585.6 139.5L586.4 140.3L587.3 141.1L588.2 142.1L589.0 143.1L589.9 144.3L590.7 145.6L591.6 147.0L592.4 148.5L593.3 150.2L594.1 152.2L595.0 154.6L595.9 157.1L596.7 159.8L597.6 162.3L598.4 164.9L599.3 167.6L600.1 170.3L601.0 173.1L601.8 176.1L602.7 179.3L603.5 182.4L604.4 185.5L605.3 188.6L606.1 191.8L607.0 194.8L607.8 197.1L608.7 199.0L609.5 200.7L610.4 202.3L611.2 203.6L612.1 204.8L613.0 205.8L613.8 206.7L614.7 207.6L615.5 208.4L616.4 209.1L617.2 209.7L618.1 210.1L618.9 210.4L619.8 210.7L620.6 211.0L621.5 211.2L622.4 211.4L623.2 211.6L624.1 211.6L624.9 211.6L625.8 211.5L626.6 211.4L627.5 211.3L628.3 211.1L629.2 210.9L630.1 210.7L630.9 210.4L631.8 210.2L632.6 209.9L633.5 209.4L634.3 208.9L635.2 208.3L636.0 207.7L636.9 207.0L637.7 206.3L638.6 205.6L639.5 204.9L640.3 204.1L641.2 203.4L642.0 202.6L642.9 201.7L643.7 200.8L644.6 199.9L645.4 198.9L646.3 197.9L647.2 196.8L648.0 195.6L648.9 194.4L649.7 193.2L650.6 192.0L651.4 190.9L652.3 189.8L653.1 188.7L654.0 187.7L654.8 186.7L655.7 185.7L656.6 184.6L657.4 183.6L658.3 182.6L659.1 181.5L660.0 180.5L660.8 179.4L661.7 178.4L662.5 177.3L663.4 176.2L664.3 175.0L665.1 173.9L666.0 172.7L666.8 171.4L667.7 170.2L668.5 168.9L669.4 167.5L670.2 166.2L671.1 164.8L671.9 163.5L672.8 162.1L673.7 160.7L674.5 159.2L675.4 157.8L676.2 156.4L677.1 155.0L677.9 153.5L678.8 152.1L679.6 150.6L680.5 149.0L681.4 147.5L682.2 145.9L683.1 144.3L683.9 142.8L684.8 141.2L685.6 139.7L686.5 138.2L687.3 136.8L688.2 135.5L689.0 134.2L689.9 132.8L690.8 131.5L691.6 130.2L692.5 129.1L693.3 128.0L694.2 127.2L695.0 126.4L695.9 125.6L696.7 124.9L697.6 124.3L698.5 123.9L699.3 123.7L700.2 123.7L701.0 123.9L701.9 124.2L702.7 124.6L703.6 125.0L704.4 125.6L705.3 126.2L706.1 127.3L707.0 128.6L707.9 130.1L708.7 131.6L709.6 133.3L710.4 134.9L711.3 136.7L712.1 138.5L713.0 140.6L713.8 142.7L714.7 145.0L715.6 147.4L716.4 150.2L717.3 153.1L718.1 156.2L719.0 159.4L719.8 162.6L720.7 166.0L721.5 169.5L722.4 173.0L723.2 176.2L724.1 179.4L725.0 182.4L725.8 185.3L726.7 188.2L727.5 191.1L728.4 193.9L729.2 196.7L730.1 199.5L730.9 202.2L731.8 204.8L732.7 207.3L733.5 209.5L734.4 211.5L735.2 213.5L736.1 215.3L736.9 217.1L737.8 218.9L738.6 220.7L739.5 222.6L740.3 224.4L741.2 226.1L742.1 227.6L742.9 228.9L743.8 230.2L744.6 231.5L745.5 232.7L746.3 233.8L747.2 234.8L748.0 235.8L748.9 236.8L749.8 237.7L750.6 238.6L751.5 239.5L752.3 240.3L753.2 241.1L754.0 241.8L754.9 242.4L755.7 242.9L756.6 243.4L757.4 243.9L758.3 244.3L759.2 244.7L760.0 245.1L760.9 245.5L761.7 245.8L762.6 246.1L763.4 246.4L764.3 246.6L765.1 246.9L766.0 247.1L766.9 247.4L767.7 247.6L768.6 247.8L769.4 248.0L770.3 248.2L771.1 248.4L772.0 248.5L772.8 248.7L773.7 248.8L774.5 248.9"/>
<path d="M450.5 109.3L451.4 111.0L452.2 112.7L453.1 114.3L453.9 115.9L454.8 117.4L455.6 119.0L456.5 120.2L457.3 121.2L458.2 122.0L459.1 122.3L459.9 122.1L460.8 121.9L461.6 121.5L462.5 120.8L463.3 119.8L464.2 118.6L465.0 117.1L465.9 115.4L466.7 113.5L467.6 111.6L468.5 109.7L469.3 107.5L470.2 105.4L471.0 103.4L471.9 101.6L472.7 99.9L473.6 98.3L474.4 96.7L475.3 95.0L476.2 93.0L477.0 90.9L477.9 88.9L478.7 87.0L479.6 85.2L480.4 83.5L481.3 81.8L482.1 80.1L483.0 78.6L483.8 77.0L484.7 75.5L485.6 74.0L486.4 72.5L487.3 71.1L488.1 69.8L489.0 68.6L489.8 67.6L490.7 66.6L491.5 65.8L492.4 65.0L493.3 64.5L494.1 64.2L495.0 63.8L495.8 63.6L496.7 63.5L497.5 63.6L498.4 63.8L499.2 64.2L500.1 64.6L500.9 65.1L501.8 65.7L502.7 66.5L503.5 67.5L504.4 68.5L505.2 69.8L506.1 71.4L506.9 73.2L507.8 75.2L508.6 77.4L509.5 79.7L510.4 82.3L511.2 85.2L512.1 88.3L512.9 91.7L513.8 95.3L514.6 99.1L515.5 102.8L516.3 105.6L517.2 107.5L518.0 108.5L518.9 109.1L519.8 109.6L520.6 110.1L521.5 110.7L522.3 111.5L523.2 112.5L524.0 113.6L524.9 115.1L525.7 117.3L526.6 120.0L527.5 122.9L528.3 126.1L529.2 129.2L530.0 132.2L530.9 134.8L531.7 137.2L532.6 139.5L533.4 141.7L534.3 143.9L535.1 146.2L536.0 148.6L536.9 151.5L537.7 154.4L538.6 156.6L539.4 157.4L540.3 157.2L541.1 156.8L542.0 155.6L542.8 153.7L543.7 151.4L544.6 149.0L545.4 146.8L546.3 145.1L547.1 143.5L548.0 142.0L548.8 140.5L549.7 139.1L550.5 137.7L551.4 136.4L552.2 135.2L553.1 134.0L554.0 132.8L554.8 131.7L555.7 130.5L556.5 129.4L557.4 128.4L558.2 127.5L559.1 126.6L559.9 125.8L560.8 125.2L561.7 124.6L562.5 124.1L563.4 123.5L564.2 123.1L565.1 122.8L565.9 122.6L566.8 122.6L567.6 122.9L568.5 123.3L569.3 123.8L570.2 124.5L571.1 125.2L571.9 125.9L572.8 126.6L573.6 127.3L574.5 128.2L575.3 129.2L576.2 130.2L577.0 131.3L577.9 132.4L578.8 133.4L579.6 134.4L580.5 135.4L581.3 136.2L582.2 136.9L583.0 137.6L583.9 138.3L584.7 139.0L585.6 139.7L586.4 140.4L587.3 141.2L588.2 142.2L589.0 143.2L589.9 144.4L590.7 145.7L591.6 147.1L592.4 148.6L593.3 150.3L594.1 152.3L595.0 154.7L595.9 157.2L596.7 159.8L597.6 162.4L598.4 165.0L599.3 167.6L600.1 170.4L601.0 173.2L601.8 176.2L602.7 179.3L603.5 182.5L604.4 185.6L605.3 188.7L606.1 191.9L607.0 194.8L607.8 197.1L608.7 199.0L609.5 200.8L610.4 202.3L611.2 203.7L612.1 204.8L613.0 205.8L613.8 206.8L614.7 207.6L615.5 208.4L616.4 209.1L617.2 209.7L618.1 210.1L618.9 210.4L619.8 210.8L620.6 211.0L621.5 211.3L622.4 211.5L623.2 211.6L624.1 211.6L624.9 211.6L625.8 211.6L626.6 211.5L627.5 211.3L628.3 211.1L629.2 210.9L630.1 210.7L630.9 210.4L631.8 210.2L632.6 209.9L633.5 209.5L634.3 209.0L635.2 208.4L636.0 207.7L636.9 207.1L637.7 206.3L638.6 205.6L639.5 204.9L640.3 204.2L641.2 203.4L642.0 202.6L642.9 201.8L643.7 200.9L644.6 199.9L645.4 199.0L646.3 198.0L647.2 196.9L648.0 195.7L648.9 194.5L649.7 193.2L650.6 192.0L651.4 190.9L652.3 189.8L653.1 188.8L654.0 187.8L654.8 186.8L655.7 185.7L656.6 184.7L657.4 183.7L658.3 182.6L659.1 181.6L660.0 180.5L660.8 179.5L661.7 178.4L662.5 177.3L663.4 176.2L664.3 175.1L665.1 173.9L666.0 172.7L666.8 171.5L667.7 170.2L668.5 168.9L669.4 167.6L670.2 166.3L671.1 164.9L671.9 163.5L672.8 162.1L673.7 160.7L674.5 159.3L675.4 157.9L676.2 156.5L677.1 155.0L677.9 153.6L678.8 152.1L679.6 150.6L680.5 149.1L681.4 147.5L682.2 146.0L683.1 144.4L683.9 142.8L684.8 141.3L685.6 139.8L686.5 138.3L687.3 136.9L688.2 135.6L689.0 134.3L689.9 132.9L690.8 131.6L691.6 130.3L692.5 129.2L693.3 128.1L694.2 127.2L695.0 126.5L695.9 125.7L696.7 125.0L697.6 124.4L698.5 124.0L699.3 123.8L700.2 123.8L701.0 124.0L701.9 124.3L702.7 124.7L703.6 125.1L704.4 125.6L705.3 126.3L706.1 127.3L707.0 128.6L707.9 130.1L708.7 131.7L709.6 133.3L710.4 135.0L711.3 136.7L712.1 138.6L713.0 140.7L713.8 142.8L714.7 145.1L715.6 147.5L716.4 150.2L717.3 153.2L718.1 156.3L719.0 159.4L719.8 162.6L720.7 166.0L721.5 169.5L722.4 173.0L723.2 176.3L724.1 179.4L725.0 182.4L725.8 185.4L726.7 188.3L727.5 191.1L728.4 193.9L729.2 196.7L730.1 199.5L730.9 202.3L731.8 204.9L732.7 207.3L733.5 209.5L734.4 211.6L735.2 213.5L736.1 215.3L736.9 217.1L737.8 218.9L738.6 220.8L739.5 222.6L740.3 224.4L741.2 226.1L742.1 227.6L742.9 229.0L743.8 230.3L744.6 231.5L745.5 232.7L746.3 233.8L747.2 234.9L748.0 235.9L748.9 236.8L749.8 237.7L750.6 238.6L751.5 239.5L752.3 240.3L753.2 241.1L754.0 241.8L754.9 242.4L755.7 242.9L756.6 243.4L757.4 243.9L758.3 244.3L759.2 244.7L760.0 245.1L760.9 245.5L761.7 245.8L762.6 246.1L763.4 246.4L764.3 246.6L765.1 246.9L766.0 247.1L766.9 247.4L767.7 247.6L768.6 247.8L769.4 248.0L770.3 248.2L771.1 248.4L772.0 248.5L772.8 248.7L773.7 248.8L774.5 248.9"/>
<path d="M450.5 109.3L451.4 111.1L452.2 112.8L453.1 114.4L453.9 115.9L454.8 117.5L455.6 119.1L456.5 120.3L457.3 121.3L458.2 122.1L459.1 122.4L459.9 122.2L460.8 121.9L461.6 121.6L462.5 120.9L463.3 119.9L464.2 118.7L465.0 117.2L465.9 115.5L466.7 113.6L467.6 111.7L468.5 109.8L469.3 107.6L470.2 105.5L471.0 103.5L471.9 101.7L472.7 100.1L473.6 98.5L474.4 96.9L475.3 95.1L476.2 93.2L477.0 91.2L477.9 89.2L478.7 87.3L479.6 85.5L480.4 83.8L481.3 82.1L482.1 80.5L483.0 79.0L483.8 77.5L484.7 76.0L485.6 74.5L486.4 73.1L487.3 71.7L488.1 70.4L489.0 69.3L489.8 68.3L490.7 67.4L491.5 66.6L492.4 65.9L493.3 65.4L494.1 65.0L495.0 64.7L495.8 64.5L496.7 64.4L497.5 64.5L498.4 64.8L499.2 65.2L500.1 65.6L500.9 66.1L501.8 66.8L502.7 67.6L503.5 68.5L504.4 69.6L505.2 70.9L506.1 72.5L506.9 74.3L507.8 76.4L508.6 78.6L509.5 80.9L510.4 83.4L511.2 86.3L512.1 89.5L512.9 92.9L513.8 96.4L514.6 100.3L515.5 104.0L516.3 106.7L517.2 108.6L518.0 109.5L518.9 110.0L519.8 110.5L520.6 111.0L521.5 111.6L522.3 112.4L523.2 113.4L524.0 114.4L524.9 115.8L525.7 118.0L526.6 120.5L527.5 123.4L528.3 126.5L529.2 129.5L530.0 132.5L530.9 135.0L531.7 137.3L532.6 139.6L533.4 141.8L534.3 144.0L535.1 146.2L536.0 148.7L536.9 151.6L537.7 154.5L538.6 156.6L539.4 157.5L540.3 157.3L541.1 156.8L542.0 155.7L542.8 153.8L543.7 151.4L544.6 149.0L545.4 146.9L546.3 145.2L547.1 143.6L548.0 142.1L548.8 140.6L549.7 139.2L550.5 137.8L551.4 136.5L552.2 135.2L553.1 134.1L554.0 132.9L554.8 131.8L555.7 130.6L556.5 129.5L557.4 128.5L558.2 127.6L559.1 126.7L559.9 125.9L560.8 125.3L561.7 124.7L562.5 124.2L563.4 123.6L564.2 123.2L565.1 122.9L565.9 122.7L566.8 122.8L567.6 123.0L568.5 123.4L569.3 124.0L570.2 124.6L571.1 125.3L571.9 126.0L572.8 126.7L573.6 127.5L574.5 128.3L575.3 129.3L576.2 130.3L577.0 131.4L577.9 132.5L578.8 133.6L579.6 134.6L580.5 135.5L581.3 136.3L582.2 137.0L583.0 137.7L583.9 138.4L584.7 139.1L585.6 139.8L586.4 140.5L587.3 141.4L588.2 142.3L589.0 143.3L589.9 144.5L590.7 145.8L591.6 147.2L592.4 148.7L593.3 150.4L594.1 152.4L595.0 154.8L595.9 157.3L596.7 159.9L597.6 162.5L598.4 165.1L599.3 167.7L600.1 170.5L601.0 173.3L601.8 176.3L602.7 179.4L603.5 182.5L604.4 185.6L605.3 188.7L606.1 191.9L607.0 194.9L607.8 197.2L608.7 199.1L609.5 200.8L610.4 202.4L611.2 203.7L612.1 204.8L613.0 205.8L613.8 206.8L614.7 207.7L615.5 208.5L616.4 209.2L617.2 209.7L618.1 210.2L618.9 210.5L619.8 210.8L620.6 211.1L621.5 211.3L622.4 211.5L623.2 211.6L624.1 211.7L624.9 211.7L625.8 211.6L626.6 211.5L627.5 211.3L628.3 211.2L629.2 211.0L630.1 210.7L630.9 210.5L631.8 210.2L632.6 209.9L633.5 209.5L634.3 209.0L635.2 208.4L636.0 207.8L636.9 207.1L637.7 206.4L638.6 205.6L639.5 204.9L640.3 204.2L641.2 203.4L642.0 202.6L642.9 201.8L643.7 200.9L644.6 200.0L645.4 199.0L646.3 198.0L647.2 196.9L648.0 195.7L648.9 194.5L649.7 193.3L650.6 192.1L651.4 190.9L652.3 189.9L653.1 188.8L654.0 187.8L654.8 186.8L655.7 185.8L656.6 184.7L657.4 183.7L658.3 182.7L659.1 181.6L660.0 180.6L660.8 179.5L661.7 178.5L662.5 177.4L663.4 176.3L664.3 175.1L665.1 174.0L666.0 172.8L666.8 171.5L667.7 170.3L668.5 169.0L669.4 167.7L670.2 166.3L671.1 165.0L671.9 163.6L672.8 162.2L673.7 160.8L674.5 159.4L675.4 158.0L676.2 156.5L677.1 155.1L677.9 153.7L678.8 152.2L679.6 150.7L680.5 149.2L681.4 147.6L682.2 146.0L683.1 144.5L683.9 142.9L684.8 141.4L685.6 139.9L686.5 138.4L687.3 137.0L688.2 135.7L689.0 134.3L689.9 133.0L690.8 131.7L691.6 130.4L692.5 129.3L693.3 128.2L694.2 127.3L695.0 126.6L695.9 125.8L696.7 125.1L697.6 124.5L698.5 124.1L699.3 123.9L700.2 123.9L701.0 124.1L701.9 124.4L702.7 124.8L703.6 125.2L704.4 125.7L705.3 126.4L706.1 127.4L707.0 128.7L707.9 130.2L708.7 131.8L709.6 133.4L710.4 135.1L711.3 136.8L712.1 138.7L713.0 140.7L713.8 142.9L714.7 145.2L715.6 147.6L716.4 150.3L717.3 153.3L718.1 156.4L719.0 159.5L719.8 162.7L720.7 166.1L721.5 169.6L722.4 173.1L723.2 176.4L724.1 179.5L725.0 182.5L725.8 185.4L726.7 188.3L727.5 191.1L728.4 193.9L729.2 196.8L730.1 199.6L730.9 202.3L731.8 204.9L732.7 207.3L733.5 209.5L734.4 211.6L735.2 213.5L736.1 215.3L736.9 217.1L737.8 218.9L738.6 220.8L739.5 222.6L740.3 224.4L741.2 226.1L742.1 227.6L742.9 229.0L743.8 230.3L744.6 231.5L745.5 232.7L746.3 233.8L747.2 234.9L748.0 235.9L748.9 236.8L749.8 237.7L750.6 238.7L751.5 239.5L752.3 240.3L753.2 241.1L754.0 241.8L754.9 242.4L755.7 242.9L756.6 243.4L757.4 243.9L758.3 244.3L759.2 244.7L760.0 245.1L760.9 245.5L761.7 245.8L762.6 246.1L763.4 246.4L764.3 246.6L765.1 246.9L766.0 247.1L766.9 247.4L767.7 247.6L768.6 247.8L769.4 248.0L770.3 248.2L771.1 248.4L772.0 248.5L772.8 248.7L773.7 248.8L774.5 248.9"/>
<path d="M450.5 109.4L451.4 111.2L452.2 112.8L453.1 114.5L453.9 116.0L454.8 117.6L455.6 119.2L456.5 120.4L457.3 121.4L458.2 122.2L459.1 122.5L459.9 122.3L460.8 122.0L461.6 121.7L462.5 121.0L463.3 120.0L464.2 118.8L465.0 117.3L465.9 115.6L466.7 113.8L467.6 111.9L468.5 109.9L469.3 107.8L470.2 105.6L471.0 103.7L471.9 101.9L472.7 100.3L473.6 98.7L474.4 97.0L475.3 95.3L476.2 93.4L477.0 91.4L477.9 89.4L478.7 87.6L479.6 85.9L480.4 84.2L481.3 82.5L482.1 81.0L483.0 79.5L483.8 78.0L484.7 76.6L485.6 75.1L486.4 73.7L487.3 72.4L488.1 71.1L489.0 70.1L489.8 69.1L490.7 68.2L491.5 67.4L492.4 66.7L493.3 66.3L494.1 66.0L495.0 65.7L495.8 65.5L496.7 65.4L497.5 65.6L498.4 65.9L499.2 66.3L500.1 66.7L500.9 67.2L501.8 67.9L502.7 68.7L503.5 69.7L504.4 70.8L505.2 72.1L506.1 73.7L506.9 75.6L507.8 77.6L508.6 79.8L509.5 82.2L510.4 84.7L511.2 87.6L512.1 90.7L512.9 94.1L513.8 97.7L514.6 101.6L515.5 105.2L516.3 107.9L517.2 109.7L518.0 110.6L518.9 111.1L519.8 111.5L520.6 112.0L521.5 112.6L522.3 113.4L523.2 114.3L524.0 115.3L524.9 116.6L525.7 118.7L526.6 121.1L527.5 123.9L528.3 126.9L529.2 129.8L530.0 132.7L530.9 135.2L531.7 137.5L532.6 139.7L533.4 141.8L534.3 144.0L535.1 146.3L536.0 148.7L536.9 151.6L537.7 154.5L538.6 156.7L539.4 157.5L540.3 157.3L541.1 156.9L542.0 155.7L542.8 153.8L543.7 151.5L544.6 149.1L545.4 146.9L546.3 145.3L547.1 143.7L548.0 142.2L548.8 140.7L549.7 139.3L550.5 137.9L551.4 136.6L552.2 135.3L553.1 134.1L554.0 133.0L554.8 131.8L555.7 130.7L556.5 129.6L557.4 128.6L558.2 127.7L559.1 126.8L559.9 126.0L560.8 125.4L561.7 124.9L562.5 124.3L563.4 123.8L564.2 123.3L565.1 123.0L565.9 122.9L566.8 122.9L567.6 123.1L568.5 123.6L569.3 124.1L570.2 124.7L571.1 125.4L571.9 126.2L572.8 126.9L573.6 127.6L574.5 128.5L575.3 129.4L576.2 130.5L577.0 131.6L577.9 132.6L578.8 133.7L579.6 134.7L580.5 135.6L581.3 136.4L582.2 137.2L583.0 137.9L583.9 138.5L584.7 139.2L585.6 139.9L586.4 140.6L587.3 141.5L588.2 142.4L589.0 143.5L589.9 144.6L590.7 145.9L591.6 147.3L592.4 148.8L593.3 150.5L594.1 152.5L595.0 154.9L595.9 157.4L596.7 160.0L597.6 162.6L598.4 165.1L599.3 167.8L600.1 170.5L601.0 173.4L601.8 176.4L602.7 179.5L603.5 182.6L604.4 185.7L605.3 188.8L606.1 192.0L607.0 194.9L607.8 197.2L608.7 199.1L609.5 200.9L610.4 202.4L611.2 203.7L612.1 204.9L613.0 205.9L613.8 206.8L614.7 207.7L615.5 208.5L616.4 209.2L617.2 209.8L618.1 210.2L618.9 210.5L619.8 210.8L620.6 211.1L621.5 211.3L622.4 211.5L623.2 211.6L624.1 211.7L624.9 211.7L625.8 211.6L626.6 211.5L627.5 211.4L628.3 211.2L629.2 211.0L630.1 210.8L630.9 210.5L631.8 210.2L632.6 209.9L633.5 209.5L634.3 209.0L635.2 208.4L636.0 207.8L636.9 207.1L637.7 206.4L638.6 205.7L639.5 205.0L640.3 204.2L641.2 203.5L642.0 202.7L642.9 201.8L643.7 200.9L644.6 200.0L645.4 199.1L646.3 198.0L647.2 196.9L648.0 195.8L648.9 194.5L649.7 193.3L650.6 192.1L651.4 191.0L652.3 189.9L653.1 188.9L654.0 187.9L654.8 186.9L655.7 185.8L656.6 184.8L657.4 183.7L658.3 182.7L659.1 181.7L660.0 180.6L660.8 179.6L661.7 178.5L662.5 177.4L663.4 176.3L664.3 175.2L665.1 174.0L666.0 172.8L666.8 171.6L667.7 170.3L668.5 169.0L669.4 167.7L670.2 166.4L671.1 165.0L671.9 163.6L672.8 162.3L673.7 160.9L674.5 159.4L675.4 158.0L676.2 156.6L677.1 155.2L677.9 153.7L678.8 152.3L679.6 150.8L680.5 149.3L681.4 147.7L682.2 146.1L683.1 144.6L683.9 143.0L684.8 141.5L685.6 140.0L686.5 138.5L687.3 137.1L688.2 135.8L689.0 134.4L689.9 133.1L690.8 131.8L691.6 130.5L692.5 129.4L693.3 128.3L694.2 127.4L695.0 126.7L695.9 125.9L696.7 125.2L697.6 124.6L698.5 124.2L699.3 124.0L700.2 124.0L701.0 124.2L701.9 124.5L702.7 124.9L703.6 125.3L704.4 125.8L705.3 126.5L706.1 127.5L707.0 128.8L707.9 130.3L708.7 131.9L709.6 133.5L710.4 135.1L711.3 136.9L712.1 138.8L713.0 140.8L713.8 143.0L714.7 145.2L715.6 147.7L716.4 150.4L717.3 153.3L718.1 156.4L719.0 159.6L719.8 162.8L720.7 166.2L721.5 169.7L722.4 173.1L723.2 176.4L724.1 179.5L725.0 182.5L725.8 185.5L726.7 188.4L727.5 191.2L728.4 194.0L729.2 196.8L730.1 199.6L730.9 202.3L731.8 204.9L732.7 207.4L733.5 209.6L734.4 211.6L735.2 213.5L736.1 215.4L736.9 217.2L737.8 219.0L738.6 220.8L739.5 222.6L740.3 224.4L741.2 226.1L742.1 227.6L742.9 229.0L743.8 230.3L744.6 231.5L745.5 232.7L746.3 233.8L747.2 234.9L748.0 235.9L748.9 236.8L749.8 237.8L750.6 238.7L751.5 239.5L752.3 240.3L753.2 241.1L754.0 241.8L754.9 242.4L755.7 242.9L756.6 243.4L757.4 243.9L758.3 244.3L759.2 244.7L760.0 245.1L760.9 245.5L761.7 245.8L762.6 246.1L763.4 246.4L764.3 246.6L765.1 246.9L766.0 247.1L766.9 247.4L767.7 247.6L768.6 247.8L769.4 248.0L770.3 248.2L771.1 248.4L772.0 248.5L772.8 248.7L773.7 248.8L774.5 248.9"/>
<path d="M450.5 109.5L451.4 111.2L452.2 112.9L453.1 114.5L453.9 116.1L454.8 117.7L455.6 119.3L456.5 120.5L457.3 121.5L458.2 122.3L459.1 122.6L459.9 122.4L460.8 122.2L461.6 121.8L462.5 121.1L463.3 120.2L464.2 119.0L465.0 117.5L465.9 115.7L466.7 113.9L467.6 112.0L468.5 110.1L469.3 107.9L470.2 105.8L471.0 103.8L471.9 102.1L472.7 100.4L473.6 98.8L474.4 97.2L475.3 95.5L476.2 93.7L477.0 91.7L477.9 89.7L478.7 87.9L479.6 86.2L480.4 84.6L481.3 83.0L482.1 81.4L483.0 80.0L483.8 78.6L484.7 77.2L485.6 75.8L486.4 74.4L487.3 73.1L488.1 71.9L489.0 70.9L489.8 70.0L490.7 69.1L491.5 68.3L492.4 67.7L493.3 67.2L494.1 67.0L495.0 66.7L495.8 66.6L496.7 66.5L497.5 66.7L498.4 67.0L499.2 67.4L500.1 67.9L500.9 68.4L501.8 69.1L502.7 70.0L503.5 71.0L504.4 72.1L505.2 73.4L506.1 75.1L506.9 76.9L507.8 79.0L508.6 81.2L509.5 83.5L510.4 86.0L511.2 88.9L512.1 92.1L512.9 95.5L513.8 99.0L514.6 102.9L515.5 106.5L516.3 109.2L517.2 111.0L518.0 111.8L518.9 112.2L519.8 112.6L520.6 113.0L521.5 113.7L522.3 114.5L523.2 115.3L524.0 116.3L524.9 117.5L525.7 119.5L526.6 121.8L527.5 124.5L528.3 127.3L529.2 130.2L530.0 133.0L530.9 135.4L531.7 137.6L532.6 139.8L533.4 141.9L534.3 144.1L535.1 146.3L536.0 148.8L536.9 151.7L537.7 154.5L538.6 156.7L539.4 157.6L540.3 157.4L541.1 156.9L542.0 155.8L542.8 153.9L543.7 151.5L544.6 149.1L545.4 147.0L546.3 145.3L547.1 143.7L548.0 142.2L548.8 140.7L549.7 139.3L550.5 138.0L551.4 136.7L552.2 135.4L553.1 134.2L554.0 133.1L554.8 131.9L555.7 130.8L556.5 129.7L557.4 128.7L558.2 127.8L559.1 126.9L559.9 126.2L560.8 125.5L561.7 125.0L562.5 124.4L563.4 123.9L564.2 123.5L565.1 123.1L565.9 123.0L566.8 123.0L567.6 123.3L568.5 123.7L569.3 124.2L570.2 124.9L571.1 125.6L571.9 126.3L572.8 127.0L573.6 127.7L574.5 128.6L575.3 129.6L576.2 130.6L577.0 131.7L577.9 132.8L578.8 133.8L579.6 134.8L580.5 135.7L581.3 136.5L582.2 137.3L583.0 138.0L583.9 138.6L584.7 139.3L585.6 140.0L586.4 140.8L587.3 141.6L588.2 142.5L589.0 143.6L589.9 144.7L590.7 146.0L591.6 147.4L592.4 148.9L593.3 150.6L594.1 152.6L595.0 155.0L595.9 157.5L596.7 160.1L597.6 162.6L598.4 165.2L599.3 167.9L600.1 170.6L601.0 173.4L601.8 176.4L602.7 179.5L603.5 182.7L604.4 185.8L605.3 188.9L606.1 192.1L607.0 195.0L607.8 197.3L608.7 199.2L609.5 200.9L610.4 202.4L611.2 203.8L612.1 204.9L613.0 205.9L613.8 206.9L614.7 207.8L615.5 208.6L616.4 209.2L617.2 209.8L618.1 210.2L618.9 210.5L619.8 210.9L620.6 211.1L621.5 211.4L622.4 211.6L623.2 211.7L624.1 211.7L624.9 211.7L625.8 211.7L626.6 211.6L627.5 211.4L628.3 211.2L629.2 211.0L630.1 210.8L630.9 210.5L631.8 210.3L632.6 210.0L633.5 209.6L634.3 209.1L635.2 208.5L636.0 207.8L636.9 207.1L637.7 206.4L638.6 205.7L639.5 205.0L640.3 204.3L641.2 203.5L642.0 202.7L642.9 201.9L643.7 201.0L644.6 200.0L645.4 199.1L646.3 198.1L647.2 197.0L648.0 195.8L648.9 194.6L649.7 193.4L650.6 192.2L651.4 191.0L652.3 190.0L653.1 188.9L654.0 187.9L654.8 186.9L655.7 185.9L656.6 184.8L657.4 183.8L658.3 182.8L659.1 181.7L660.0 180.7L660.8 179.6L661.7 178.6L662.5 177.5L663.4 176.4L664.3 175.3L665.1 174.1L666.0 172.9L666.8 171.7L667.7 170.4L668.5 169.1L669.4 167.8L670.2 166.4L671.1 165.1L671.9 163.7L672.8 162.3L673.7 160.9L674.5 159.5L675.4 158.1L676.2 156.7L677.1 155.2L677.9 153.8L678.8 152.4L679.6 150.9L680.5 149.3L681.4 147.8L682.2 146.2L683.1 144.6L683.9 143.1L684.8 141.5L685.6 140.0L686.5 138.6L687.3 137.2L688.2 135.9L689.0 134.5L689.9 133.2L690.8 131.9L691.6 130.6L692.5 129.4L693.3 128.4L694.2 127.5L695.0 126.8L695.9 126.0L696.7 125.3L697.6 124.7L698.5 124.3L699.3 124.1L700.2 124.1L701.0 124.3L701.9 124.6L702.7 125.0L703.6 125.4L704.4 125.9L705.3 126.6L706.1 127.6L707.0 128.9L707.9 130.4L708.7 132.0L709.6 133.6L710.4 135.2L711.3 137.0L712.1 138.9L713.0 140.9L713.8 143.0L714.7 145.3L715.6 147.8L716.4 150.5L717.3 153.4L718.1 156.5L719.0 159.6L719.8 162.8L720.7 166.2L721.5 169.7L722.4 173.2L723.2 176.5L724.1 179.6L725.0 182.6L725.8 185.5L726.7 188.4L727.5 191.2L728.4 194.0L729.2 196.8L730.1 199.6L730.9 202.4L731.8 205.0L732.7 207.4L733.5 209.6L734.4 211.6L735.2 213.6L736.1 215.4L736.9 217.2L737.8 219.0L738.6 220.8L739.5 222.7L740.3 224.5L741.2 226.1L742.1 227.6L742.9 229.0L743.8 230.3L744.6 231.5L745.5 232.7L746.3 233.8L747.2 234.9L748.0 235.9L748.9 236.8L749.8 237.8L750.6 238.7L751.5 239.5L752.3 240.3L753.2 241.1L754.0 241.8L754.9 242.4L755.7 242.9L756.6 243.4L757.4 243.9L758.3 244.3L759.2 244.7L760.0 245.1L760.9 245.5L761.7 245.8L762.6 246.1L763.4 246.4L764.3 246.6L765.1 246.9L766.0 247.1L766.9 247.4L767.7 247.6L768.6 247.8L769.4 248.0L770.3 248.2L771.1 248.4L772.0 248.5L772.8 248.7L773.7 248.8L774.5 248.9"/>
<path d="M450.5 109.6L451.4 111.3L452.2 113.0L453.1 114.6L453.9 116.2L454.8 117.8L455.6 119.4L456.5 120.6L457.3 121.6L458.2 122.4L459.1 122.7L459.9 122.5L460.8 122.3L461.6 121.9L462.5 121.2L463.3 120.3L464.2 119.1L465.0 117.6L465.9 115.9L466.7 114.0L467.6 112.1L468.5 110.2L469.3 108.1L470.2 106.0L471.0 104.0L471.9 102.2L472.7 100.6L473.6 99.0L474.4 97.4L475.3 95.7L476.2 93.9L477.0 91.9L477.9 90.0L478.7 88.3L479.6 86.6L480.4 85.0L481.3 83.4L482.1 81.9L483.0 80.5L483.8 79.2L484.7 77.8L485.6 76.4L486.4 75.1L487.3 73.9L488.1 72.7L489.0 71.7L489.8 70.8L490.7 70.0L491.5 69.2L492.4 68.6L493.3 68.2L494.1 68.0L495.0 67.7L495.8 67.6L496.7 67.6L497.5 67.8L498.4 68.1L499.2 68.6L500.1 69.1L500.9 69.6L501.8 70.3L502.7 71.2L503.5 72.2L504.4 73.4L505.2 74.8L506.1 76.4L506.9 78.2L507.8 80.3L508.6 82.5L509.5 84.9L510.4 87.4L511.2 90.3L512.1 93.4L512.9 96.8L513.8 100.4L514.6 104.3L515.5 107.9L516.3 110.5L517.2 112.2L518.0 112.9L518.9 113.3L519.8 113.7L520.6 114.1L521.5 114.7L522.3 115.5L523.2 116.4L524.0 117.3L524.9 118.4L525.7 120.3L526.6 122.4L527.5 125.0L528.3 127.8L529.2 130.5L530.0 133.3L530.9 135.6L531.7 137.8L532.6 139.9L533.4 142.0L534.3 144.1L535.1 146.4L536.0 148.8L536.9 151.7L537.7 154.6L538.6 156.8L539.4 157.6L540.3 157.4L541.1 157.0L542.0 155.8L542.8 153.9L543.7 151.6L544.6 149.2L545.4 147.1L546.3 145.4L547.1 143.8L548.0 142.3L548.8 140.8L549.7 139.4L550.5 138.0L551.4 136.7L552.2 135.5L553.1 134.3L554.0 133.2L554.8 132.0L555.7 130.9L556.5 129.8L557.4 128.8L558.2 127.9L559.1 127.0L559.9 126.3L560.8 125.6L561.7 125.1L562.5 124.5L563.4 124.0L564.2 123.6L565.1 123.3L565.9 123.1L566.8 123.2L567.6 123.4L568.5 123.8L569.3 124.4L570.2 125.0L571.1 125.7L571.9 126.4L572.8 127.1L573.6 127.9L574.5 128.7L575.3 129.7L576.2 130.7L577.0 131.8L577.9 132.9L578.8 134.0L579.6 135.0L580.5 135.9L581.3 136.7L582.2 137.4L583.0 138.1L583.9 138.8L584.7 139.4L585.6 140.1L586.4 140.9L587.3 141.7L588.2 142.6L589.0 143.7L589.9 144.8L590.7 146.1L591.6 147.5L592.4 149.0L593.3 150.7L594.1 152.7L595.0 155.1L595.9 157.6L596.7 160.2L597.6 162.7L598.4 165.3L599.3 168.0L600.1 170.7L601.0 173.5L601.8 176.5L602.7 179.6L603.5 182.7L604.4 185.8L605.3 188.9L606.1 192.1L607.0 195.0L607.8 197.3L608.7 199.2L609.5 201.0L610.4 202.5L611.2 203.8L612.1 205.0L613.0 206.0L613.8 206.9L614.7 207.8L615.5 208.6L616.4 209.3L617.2 209.8L618.1 210.3L618.9 210.6L619.8 210.9L620.6 211.2L621.5 211.4L622.4 211.6L623.2 211.7L624.1 211.8L624.9 211.8L625.8 211.7L626.6 211.6L627.5 211.4L628.3 211.3L629.2 211.0L630.1 210.8L630.9 210.6L631.8 210.3L632.6 210.0L633.5 209.6L634.3 209.1L635.2 208.5L636.0 207.9L636.9 207.2L637.7 206.5L638.6 205.7L639.5 205.0L640.3 204.3L641.2 203.5L642.0 202.7L642.9 201.9L643.7 201.0L644.6 200.1L645.4 199.1L646.3 198.1L647.2 197.0L648.0 195.8L648.9 194.6L649.7 193.4L650.6 192.2L651.4 191.1L652.3 190.0L653.1 189.0L654.0 188.0L654.8 187.0L655.7 185.9L656.6 184.9L657.4 183.8L658.3 182.8L659.1 181.8L660.0 180.7L660.8 179.7L661.7 178.6L662.5 177.5L663.4 176.4L664.3 175.3L665.1 174.1L666.0 172.9L666.8 171.7L667.7 170.4L668.5 169.2L669.4 167.8L670.2 166.5L671.1 165.2L671.9 163.8L672.8 162.4L673.7 161.0L674.5 159.6L675.4 158.2L676.2 156.7L677.1 155.3L677.9 153.9L678.8 152.4L679.6 150.9L680.5 149.4L681.4 147.8L682.2 146.3L683.1 144.7L683.9 143.2L684.8 141.6L685.6 140.1L686.5 138.7L687.3 137.3L688.2 135.9L689.0 134.6L689.9 133.3L690.8 132.0L691.6 130.7L692.5 129.5L693.3 128.5L694.2 127.6L695.0 126.9L695.9 126.1L696.7 125.4L697.6 124.8L698.5 124.4L699.3 124.2L700.2 124.2L701.0 124.4L701.9 124.7L702.7 125.1L703.6 125.5L704.4 126.0L705.3 126.7L706.1 127.7L707.0 129.0L707.9 130.5L708.7 132.1L709.6 133.7L710.4 135.3L711.3 137.1L712.1 139.0L713.0 141.0L713.8 143.1L714.7 145.4L715.6 147.8L716.4 150.5L717.3 153.5L718.1 156.6L719.0 159.7L719.8 162.9L720.7 166.3L721.5 169.8L722.4 173.2L723.2 176.5L724.1 179.6L725.0 182.6L725.8 185.6L726.7 188.4L727.5 191.3L728.4 194.1L729.2 196.9L730.1 199.7L730.9 202.4L731.8 205.0L732.7 207.4L733.5 209.6L734.4 211.7L735.2 213.6L736.1 215.4L736.9 217.2L737.8 219.0L738.6 220.8L739.5 222.7L740.3 224.5L741.2 226.1L742.1 227.6L742.9 229.0L743.8 230.3L744.6 231.6L745.5 232.7L746.3 233.8L747.2 234.9L748.0 235.9L748.9 236.8L749.8 237.8L750.6 238.7L751.5 239.5L752.3 240.3L753.2 241.1L754.0 241.8L754.9 242.4L755.7 242.9L756.6 243.4L757.4 243.9L758.3 244.3L759.2 244.7L760.0 245.1L760.9 245.5L761.7 245.8L762.6 246.1L763.4 246.4L764.3 246.6L765.1 246.9L766.0 247.1L766.9 247.4L767.7 247.6L768.6 247.8L769.4 248.0L770.3 248.2L771.1 248.4L772.0 248.5L772.8 248.7L773.7 248.8L774.5 248.9"/>
<path d="M450.5 109.7L451.4 111.4L452.2 113.1L453.1 114.7L453.9 116.3L454.8 117.9L455.6 119.4L456.5 120.7L457.3 121.7L458.2 122.5L459.1 122.8L459.9 122.7L460.8 122.4L461.6 122.0L462.5 121.3L463.3 120.4L464.2 119.2L465.0 117.7L465.9 116.0L466.7 114.2L467.6 112.3L468.5 110.4L469.3 108.3L470.2 106.1L471.0 104.2L471.9 102.4L472.7 100.8L473.6 99.2L474.4 97.6L475.3 96.0L476.2 94.1L477.0 92.2L477.9 90.3L478.7 88.6L479.6 86.9L480.4 85.3L481.3 83.8L482.1 82.4L483.0 81.0L483.8 79.7L484.7 78.4L485.6 77.1L486.4 75.8L487.3 74.6L488.1 73.5L489.0 72.5L489.8 71.7L490.7 70.9L491.5 70.2L492.4 69.6L493.3 69.2L494.1 69.0L495.0 68.8L495.8 68.7L496.7 68.7L497.5 68.9L498.4 69.3L499.2 69.7L500.1 70.3L500.9 70.8L501.8 71.6L502.7 72.5L503.5 73.5L504.4 74.7L505.2 76.1L506.1 77.7L506.9 79.6L507.8 81.7L508.6 83.9L509.5 86.2L510.4 88.8L511.2 91.6L512.1 94.8L512.9 98.1L513.8 101.7L514.6 105.6L515.5 109.2L516.3 111.8L517.2 113.4L518.0 114.1L518.9 114.5L519.8 114.8L520.6 115.1L521.5 115.8L522.3 116.6L523.2 117.4L524.0 118.2L524.9 119.3L525.7 121.0L526.6 123.1L527.5 125.5L528.3 128.2L529.2 130.9L530.0 133.6L530.9 135.8L531.7 137.9L532.6 140.0L533.4 142.1L534.3 144.2L535.1 146.4L536.0 148.9L536.9 151.8L537.7 154.6L538.6 156.8L539.4 157.7L540.3 157.5L541.1 157.0L542.0 155.9L542.8 154.0L543.7 151.6L544.6 149.2L545.4 147.1L546.3 145.5L547.1 143.9L548.0 142.4L548.8 140.9L549.7 139.5L550.5 138.1L551.4 136.8L552.2 135.6L553.1 134.4L554.0 133.3L554.8 132.1L555.7 131.0L556.5 129.9L557.4 128.9L558.2 128.0L559.1 127.1L559.9 126.4L560.8 125.8L561.7 125.2L562.5 124.7L563.4 124.1L564.2 123.7L565.1 123.4L565.9 123.2L566.8 123.3L567.6 123.5L568.5 124.0L569.3 124.5L570.2 125.2L571.1 125.9L571.9 126.6L572.8 127.3L573.6 128.0L574.5 128.9L575.3 129.8L576.2 130.9L577.0 132.0L577.9 133.0L578.8 134.1L579.6 135.1L580.5 136.0L581.3 136.8L582.2 137.5L583.0 138.2L583.9 138.9L584.7 139.6L585.6 140.3L586.4 141.0L587.3 141.8L588.2 142.8L589.0 143.8L589.9 144.9L590.7 146.2L591.6 147.6L592.4 149.1L593.3 150.8L594.1 152.8L595.0 155.2L595.9 157.7L596.7 160.3L597.6 162.8L598.4 165.4L599.3 168.0L600.1 170.8L601.0 173.6L601.8 176.6L602.7 179.7L603.5 182.8L604.4 185.9L605.3 189.0L606.1 192.2L607.0 195.1L607.8 197.4L608.7 199.3L609.5 201.0L610.4 202.5L611.2 203.9L612.1 205.0L613.0 206.0L613.8 207.0L614.7 207.8L615.5 208.6L616.4 209.3L617.2 209.9L618.1 210.3L618.9 210.6L619.8 210.9L620.6 211.2L621.5 211.4L622.4 211.6L623.2 211.7L624.1 211.8L624.9 211.8L625.8 211.7L626.6 211.6L627.5 211.5L628.3 211.3L629.2 211.1L630.1 210.8L630.9 210.6L631.8 210.3L632.6 210.0L633.5 209.6L634.3 209.1L635.2 208.5L636.0 207.9L636.9 207.2L637.7 206.5L638.6 205.8L639.5 205.1L640.3 204.3L641.2 203.6L642.0 202.8L642.9 201.9L643.7 201.0L644.6 200.1L645.4 199.2L646.3 198.2L647.2 197.0L648.0 195.9L648.9 194.7L649.7 193.5L650.6 192.3L651.4 191.1L652.3 190.0L653.1 189.0L654.0 188.0L654.8 187.0L655.7 186.0L656.6 184.9L657.4 183.9L658.3 182.9L659.1 181.8L660.0 180.8L660.8 179.7L661.7 178.7L662.5 177.6L663.4 176.5L664.3 175.4L665.1 174.2L666.0 173.0L666.8 171.8L667.7 170.5L668.5 169.2L669.4 167.9L670.2 166.6L671.1 165.2L671.9 163.8L672.8 162.5L673.7 161.1L674.5 159.6L675.4 158.2L676.2 156.8L677.1 155.4L677.9 153.9L678.8 152.5L679.6 151.0L680.5 149.5L681.4 147.9L682.2 146.4L683.1 144.8L683.9 143.2L684.8 141.7L685.6 140.2L686.5 138.8L687.3 137.4L688.2 136.0L689.0 134.7L689.9 133.4L690.8 132.0L691.6 130.8L692.5 129.6L693.3 128.6L694.2 127.7L695.0 127.0L695.9 126.2L696.7 125.5L697.6 124.9L698.5 124.4L699.3 124.2L700.2 124.3L701.0 124.5L701.9 124.8L702.7 125.1L703.6 125.6L704.4 126.1L705.3 126.8L706.1 127.8L707.0 129.1L707.9 130.6L708.7 132.2L709.6 133.8L710.4 135.4L711.3 137.2L712.1 139.1L713.0 141.1L713.8 143.2L714.7 145.5L715.6 147.9L716.4 150.6L717.3 153.6L718.1 156.6L719.0 159.8L719.8 163.0L720.7 166.4L721.5 169.8L722.4 173.3L723.2 176.6L724.1 179.7L725.0 182.7L725.8 185.6L726.7 188.5L727.5 191.3L728.4 194.1L729.2 196.9L730.1 199.7L730.9 202.4L731.8 205.0L732.7 207.5L733.5 209.7L734.4 211.7L735.2 213.6L736.1 215.4L736.9 217.2L737.8 219.0L738.6 220.9L739.5 222.7L740.3 224.5L741.2 226.2L742.1 227.7L742.9 229.0L743.8 230.3L744.6 231.6L745.5 232.7L746.3 233.8L747.2 234.9L748.0 235.9L748.9 236.9L749.8 237.8L750.6 238.7L751.5 239.5L752.3 240.4L753.2 241.1L754.0 241.8L754.9 242.4L755.7 242.9L756.6 243.4L757.4 243.9L758.3 244.3L759.2 244.7L760.0 245.1L760.9 245.5L761.7 245.8L762.6 246.1L763.4 246.4L764.3 246.6L765.1 246.9L766.0 247.1L766.9 247.4L767.7 247.6L768.6 247.8L769.4 248.0L770.3 248.2L771.1 248.4L772.0 248.5L772.8 248.7L773.7 248.8L774.5 248.9"/>
<path d="M450.5 109.7L451.4 111.5L452.2 113.2L453.1 114.8L453.9 116.4L454.8 118.0L455.6 119.5L456.5 120.8L457.3 121.8L458.2 122.6L459.1 122.9L459.9 122.8L460.8 122.5L461.6 122.1L462.5 121.4L463.3 120.5L464.2 119.3L465.0 117.8L465.9 116.1L466.7 114.3L467.6 112.4L468.5 110.5L469.3 108.4L470.2 106.3L471.0 104.3L471.9 102.6L472.7 101.0L473.6 99.4L474.4 97.8L475.3 96.2L476.2 94.4L477.0 92.4L477.9 90.6L478.7 88.9L479.6 87.3L480.4 85.7L481.3 84.2L482.1 82.8L483.0 81.6L483.8 80.3L484.7 79.0L485.6 77.8L486.4 76.5L487.3 75.3L488.1 74.3L489.0 73.3L489.8 72.5L490.7 71.7L491.5 71.1L492.4 70.5L493.3 70.2L494.1 70.0L495.0 69.8L495.8 69.7L496.7 69.8L497.5 70.0L498.4 70.4L499.2 70.9L500.1 71.4L500.9 72.0L501.8 72.8L502.7 73.7L503.5 74.8L504.4 76.0L505.2 77.4L506.1 79.0L506.9 80.9L507.8 83.0L508.6 85.2L509.5 87.6L510.4 90.1L511.2 93.0L512.1 96.1L512.9 99.5L513.8 103.1L514.6 107.0L515.5 110.5L516.3 113.1L517.2 114.7L518.0 115.3L518.9 115.6L519.8 115.9L520.6 116.2L521.5 116.8L522.3 117.7L523.2 118.4L524.0 119.2L524.9 120.1L525.7 121.8L526.6 123.8L527.5 126.1L528.3 128.7L529.2 131.2L530.0 133.8L530.9 136.0L531.7 138.1L532.6 140.1L533.4 142.2L534.3 144.3L535.1 146.5L536.0 148.9L536.9 151.8L537.7 154.7L538.6 156.9L539.4 157.7L540.3 157.5L541.1 157.0L542.0 155.9L542.8 154.0L543.7 151.7L544.6 149.3L545.4 147.2L546.3 145.5L547.1 144.0L548.0 142.4L548.8 141.0L549.7 139.6L550.5 138.2L551.4 136.9L552.2 135.7L553.1 134.5L554.0 133.3L554.8 132.2L555.7 131.1L556.5 130.0L557.4 129.0L558.2 128.1L559.1 127.2L559.9 126.5L560.8 125.9L561.7 125.3L562.5 124.8L563.4 124.3L564.2 123.8L565.1 123.5L565.9 123.4L566.8 123.4L567.6 123.7L568.5 124.1L569.3 124.7L570.2 125.3L571.1 126.0L571.9 126.7L572.8 127.4L573.6 128.1L574.5 129.0L575.3 130.0L576.2 131.0L577.0 132.1L577.9 133.2L578.8 134.2L579.6 135.2L580.5 136.1L581.3 136.9L582.2 137.7L583.0 138.3L583.9 139.0L584.7 139.7L585.6 140.4L586.4 141.1L587.3 141.9L588.2 142.9L589.0 143.9L589.9 145.1L590.7 146.3L591.6 147.7L592.4 149.2L593.3 150.9L594.1 152.9L595.0 155.3L595.9 157.8L596.7 160.4L597.6 162.9L598.4 165.5L599.3 168.1L600.1 170.9L601.0 173.7L601.8 176.6L602.7 179.7L603.5 182.9L604.4 185.9L605.3 189.0L606.1 192.2L607.0 195.1L607.8 197.4L608.7 199.3L609.5 201.0L610.4 202.6L611.2 203.9L612.1 205.0L613.0 206.0L613.8 207.0L614.7 207.9L615.5 208.7L616.4 209.3L617.2 209.9L618.1 210.3L618.9 210.6L619.8 211.0L620.6 211.2L621.5 211.5L622.4 211.6L623.2 211.8L624.1 211.8L624.9 211.8L625.8 211.8L626.6 211.6L627.5 211.5L628.3 211.3L629.2 211.1L630.1 210.9L630.9 210.6L631.8 210.4L632.6 210.1L633.5 209.7L634.3 209.1L635.2 208.6L636.0 207.9L636.9 207.2L637.7 206.5L638.6 205.8L639.5 205.1L640.3 204.4L641.2 203.6L642.0 202.8L642.9 202.0L643.7 201.1L644.6 200.2L645.4 199.2L646.3 198.2L647.2 197.1L648.0 195.9L648.9 194.7L649.7 193.5L650.6 192.3L651.4 191.2L652.3 190.1L653.1 189.1L654.0 188.1L654.8 187.0L655.7 186.0L656.6 185.0L657.4 183.9L658.3 182.9L659.1 181.9L660.0 180.8L660.8 179.8L661.7 178.7L662.5 177.7L663.4 176.5L664.3 175.4L665.1 174.3L666.0 173.1L666.8 171.8L667.7 170.6L668.5 169.3L669.4 168.0L670.2 166.6L671.1 165.3L671.9 163.9L672.8 162.5L673.7 161.1L674.5 159.7L675.4 158.3L676.2 156.9L677.1 155.4L677.9 154.0L678.8 152.6L679.6 151.1L680.5 149.6L681.4 148.0L682.2 146.4L683.1 144.9L683.9 143.3L684.8 141.8L685.6 140.3L686.5 138.8L687.3 137.4L688.2 136.1L689.0 134.8L689.9 133.4L690.8 132.1L691.6 130.9L692.5 129.7L693.3 128.7L694.2 127.8L695.0 127.0L695.9 126.3L696.7 125.6L697.6 125.0L698.5 124.5L699.3 124.3L700.2 124.4L701.0 124.6L701.9 124.9L702.7 125.2L703.6 125.7L704.4 126.2L705.3 126.9L706.1 127.9L707.0 129.2L707.9 130.7L708.7 132.3L709.6 133.9L710.4 135.5L711.3 137.2L712.1 139.1L713.0 141.1L713.8 143.3L714.7 145.6L715.6 148.0L716.4 150.7L717.3 153.6L718.1 156.7L719.0 159.8L719.8 163.0L720.7 166.4L721.5 169.9L722.4 173.4L723.2 176.6L724.1 179.7L725.0 182.7L725.8 185.7L726.7 188.5L727.5 191.4L728.4 194.1L729.2 197.0L730.1 199.7L730.9 202.5L731.8 205.1L732.7 207.5L733.5 209.7L734.4 211.7L735.2 213.6L736.1 215.5L736.9 217.3L737.8 219.0L738.6 220.9L739.5 222.7L740.3 224.5L741.2 226.2L742.1 227.7L742.9 229.0L743.8 230.3L744.6 231.6L745.5 232.7L746.3 233.9L747.2 234.9L748.0 235.9L748.9 236.9L749.8 237.8L750.6 238.7L751.5 239.5L752.3 240.4L753.2 241.1L754.0 241.8L754.9 242.4L755.7 242.9L756.6 243.4L757.4 243.9L758.3 244.3L759.2 244.7L760.0 245.1L760.9 245.5L761.7 245.8L762.6 246.1L763.4 246.4L764.3 246.6L765.1 246.9L766.0 247.1L766.9 247.4L767.7 247.6L768.6 247.8L769.4 248.0L770.3 248.2L771.1 248.4L772.0 248.5L772.8 248.7L773.7 248.8L774.5 248.9"/>
<path d="M450.5 109.8L451.4 111.6L452.2 113.3L453.1 114.9L453.9 116.5L454.8 118.1L455.6 119.6L456.5 120.9L457.3 121.9L458.2 122.7L459.1 123.0L459.9 122.9L460.8 122.6L461.6 122.2L462.5 121.5L463.3 120.6L464.2 119.4L465.0 117.9L465.9 116.2L466.7 114.4L467.6 112.6L468.5 110.6L469.3 108.6L470.2 106.5L471.0 104.5L471.9 102.8L472.7 101.1L473.6 99.6L474.4 98.0L475.3 96.4L476.2 94.6L477.0 92.7L477.9 90.9L478.7 89.2L479.6 87.6L480.4 86.1L481.3 84.7L482.1 83.3L483.0 82.1L483.8 80.9L484.7 79.6L485.6 78.4L486.4 77.2L487.3 76.1L488.1 75.0L489.0 74.1L489.8 73.4L490.7 72.6L491.5 72.0L492.4 71.5L493.3 71.2L494.1 71.0L495.0 70.9L495.8 70.8L496.7 70.9L497.5 71.1L498.4 71.5L499.2 72.0L500.1 72.6L500.9 73.2L501.8 74.0L502.7 74.9L503.5 76.0L504.4 77.3L505.2 78.7L506.1 80.4L506.9 82.2L507.8 84.3L508.6 86.6L509.5 88.9L510.4 91.5L511.2 94.3L512.1 97.4L512.9 100.8L513.8 104.4L514.6 108.3L515.5 111.9L516.3 114.3L517.2 115.9L518.0 116.5L518.9 116.8L519.8 117.0L520.6 117.3L521.5 117.9L522.3 118.7L523.2 119.4L524.0 120.2L524.9 121.0L525.7 122.6L526.6 124.4L527.5 126.6L528.3 129.1L529.2 131.6L530.0 134.1L530.9 136.2L531.7 138.2L532.6 140.2L533.4 142.2L534.3 144.3L535.1 146.6L536.0 149.0L536.9 151.9L537.7 154.7L538.6 156.9L539.4 157.7L540.3 157.5L541.1 157.1L542.0 156.0L542.8 154.1L543.7 151.7L544.6 149.4L545.4 147.3L546.3 145.6L547.1 144.0L548.0 142.5L548.8 141.0L549.7 139.6L550.5 138.3L551.4 137.0L552.2 135.8L553.1 134.6L554.0 133.4L554.8 132.3L555.7 131.2L556.5 130.1L557.4 129.1L558.2 128.2L559.1 127.3L559.9 126.6L560.8 126.0L561.7 125.4L562.5 124.9L563.4 124.4L564.2 124.0L565.1 123.7L565.9 123.5L566.8 123.6L567.6 123.8L568.5 124.2L569.3 124.8L570.2 125.4L571.1 126.1L571.9 126.9L572.8 127.6L573.6 128.3L574.5 129.1L575.3 130.1L576.2 131.1L577.0 132.2L577.9 133.3L578.8 134.3L579.6 135.3L580.5 136.2L581.3 137.0L582.2 137.8L583.0 138.5L583.9 139.1L584.7 139.8L585.6 140.5L586.4 141.2L587.3 142.1L588.2 143.0L589.0 144.0L589.9 145.2L590.7 146.4L591.6 147.8L592.4 149.4L593.3 151.0L594.1 153.0L595.0 155.4L595.9 157.9L596.7 160.5L597.6 163.0L598.4 165.6L599.3 168.2L600.1 170.9L601.0 173.7L601.8 176.7L602.7 179.8L603.5 182.9L604.4 186.0L605.3 189.1L606.1 192.3L607.0 195.2L607.8 197.5L608.7 199.4L609.5 201.1L610.4 202.6L611.2 203.9L612.1 205.1L613.0 206.1L613.8 207.0L614.7 207.9L615.5 208.7L616.4 209.4L617.2 209.9L618.1 210.4L618.9 210.7L619.8 211.0L620.6 211.3L621.5 211.5L622.4 211.7L623.2 211.8L624.1 211.9L624.9 211.8L625.8 211.8L626.6 211.7L627.5 211.5L628.3 211.3L629.2 211.1L630.1 210.9L630.9 210.7L631.8 210.4L632.6 210.1L633.5 209.7L634.3 209.2L635.2 208.6L636.0 208.0L636.9 207.3L637.7 206.6L638.6 205.8L639.5 205.1L640.3 204.4L641.2 203.6L642.0 202.8L642.9 202.0L643.7 201.1L644.6 200.2L645.4 199.2L646.3 198.2L647.2 197.1L648.0 196.0L648.9 194.7L649.7 193.5L650.6 192.3L651.4 191.2L652.3 190.1L653.1 189.1L654.0 188.1L654.8 187.1L655.7 186.1L656.6 185.0L657.4 184.0L658.3 183.0L659.1 181.9L660.0 180.9L660.8 179.8L661.7 178.8L662.5 177.7L663.4 176.6L664.3 175.5L665.1 174.3L666.0 173.1L666.8 171.9L667.7 170.6L668.5 169.3L669.4 168.0L670.2 166.7L671.1 165.3L671.9 164.0L672.8 162.6L673.7 161.2L674.5 159.8L675.4 158.4L676.2 156.9L677.1 155.5L677.9 154.1L678.8 152.6L679.6 151.2L680.5 149.6L681.4 148.1L682.2 146.5L683.1 145.0L683.9 143.4L684.8 141.9L685.6 140.4L686.5 138.9L687.3 137.5L688.2 136.2L689.0 134.9L689.9 133.5L690.8 132.2L691.6 131.0L692.5 129.8L693.3 128.8L694.2 127.9L695.0 127.1L695.9 126.4L696.7 125.7L697.6 125.1L698.5 124.6L699.3 124.4L700.2 124.5L701.0 124.7L701.9 124.9L702.7 125.3L703.6 125.8L704.4 126.3L705.3 127.0L706.1 128.0L707.0 129.3L707.9 130.8L708.7 132.4L709.6 134.0L710.4 135.6L711.3 137.3L712.1 139.2L713.0 141.2L713.8 143.4L714.7 145.6L715.6 148.1L716.4 150.8L717.3 153.7L718.1 156.8L719.0 159.9L719.8 163.1L720.7 166.5L721.5 170.0L722.4 173.4L723.2 176.7L724.1 179.8L725.0 182.8L725.8 185.7L726.7 188.6L727.5 191.4L728.4 194.2L729.2 197.0L730.1 199.8L730.9 202.5L731.8 205.1L732.7 207.5L733.5 209.7L734.4 211.8L735.2 213.7L736.1 215.5L736.9 217.3L737.8 219.1L738.6 220.9L739.5 222.7L740.3 224.5L741.2 226.2L742.1 227.7L742.9 229.1L743.8 230.4L744.6 231.6L745.5 232.8L746.3 233.9L747.2 234.9L748.0 235.9L748.9 236.9L749.8 237.8L750.6 238.7L751.5 239.6L752.3 240.4L753.2 241.1L754.0 241.8L754.9 242.4L755.7 242.9L756.6 243.4L757.4 243.9L758.3 244.3L759.2 244.7L760.0 245.1L760.9 245.5L761.7 245.8L762.6 246.1L763.4 246.4L764.3 246.6L765.1 246.9L766.0 247.1L766.9 247.4L767.7 247.6L768.6 247.8L769.4 248.0L770.3 248.2L771.1 248.4L772.0 248.5L772.8 248.7L773.7 248.8L774.5 248.9"/>
<path d="M450.5 109.9L451.4 111.6L452.2 113.3L453.1 115.0L453.9 116.6L454.8 118.2L455.6 119.7L456.5 121.0L457.3 122.0L458.2 122.8L459.1 123.1L459.9 123.0L460.8 122.7L461.6 122.3L462.5 121.6L463.3 120.7L464.2 119.5L465.0 118.0L465.9 116.4L466.7 114.5L467.6 112.7L468.5 110.8L469.3 108.7L470.2 106.6L471.0 104.7L471.9 102.9L472.7 101.3L473.6 99.8L474.4 98.2L475.3 96.6L476.2 94.8L477.0 92.9L477.9 91.1L478.7 89.5L479.6 88.0L480.4 86.5L481.3 85.1L482.1 83.8L483.0 82.5L483.8 81.4L484.7 80.2L485.6 79.0L486.4 77.9L487.3 76.8L488.1 75.8L489.0 74.9L489.8 74.1L490.7 73.5L491.5 72.8L492.4 72.4L493.3 72.1L494.1 71.9L495.0 71.8L495.8 71.8L496.7 71.9L497.5 72.2L498.4 72.6L499.2 73.1L500.1 73.7L500.9 74.4L501.8 75.1L502.7 76.1L503.5 77.2L504.4 78.5L505.2 79.9L506.1 81.6L506.9 83.5L507.8 85.6L508.6 87.8L509.5 90.2L510.4 92.7L511.2 95.6L512.1 98.7L512.9 102.1L513.8 105.7L514.6 109.6L515.5 113.1L516.3 115.5L517.2 117.0L518.0 117.6L518.9 117.8L519.8 118.0L520.6 118.3L521.5 118.9L522.3 119.8L523.2 120.9L524.0 122.2L524.9 123.7L525.7 125.9L526.6 128.5L527.5 131.3L528.3 134.3L529.2 137.3L530.0 140.2L530.9 142.7L531.7 144.9L532.6 147.1L533.4 149.1L534.3 151.2L535.1 153.2L536.0 155.3L536.9 157.8L537.7 160.3L538.6 162.2L539.4 163.0L540.3 162.9L541.1 162.6L542.0 161.8L542.8 160.3L543.7 158.5L544.6 156.6L545.4 154.9L546.3 153.6L547.1 152.4L548.0 151.2L548.8 150.1L549.7 149.0L550.5 148.0L551.4 147.0L552.2 146.1L553.1 145.2L554.0 144.4L554.8 143.6L555.7 142.8L556.5 142.0L557.4 141.4L558.2 140.9L559.1 140.5L559.9 140.2L560.8 140.0L561.7 139.9L562.5 139.8L563.4 139.7L564.2 139.6L565.1 139.7L565.9 139.9L566.8 140.2L567.6 140.7L568.5 141.2L569.3 141.7L570.2 142.2L571.1 142.7L571.9 143.2L572.8 143.6L573.6 144.0L574.5 144.6L575.3 145.2L576.2 145.9L577.0 146.6L577.9 147.3L578.8 148.0L579.6 148.6L580.5 149.2L581.3 149.7L582.2 150.1L583.0 150.5L583.9 150.9L584.7 151.3L585.6 151.7L586.4 152.2L587.3 152.7L588.2 153.4L589.0 154.2L589.9 155.0L590.7 156.0L591.6 157.1L592.4 158.4L593.3 159.7L594.1 161.4L595.0 163.4L595.9 165.6L596.7 167.8L597.6 170.0L598.4 172.3L599.3 174.6L600.1 177.0L601.0 179.5L601.8 182.1L602.7 184.9L603.5 187.7L604.4 190.5L605.3 193.3L606.1 196.1L607.0 198.8L607.8 200.8L608.7 202.6L609.5 204.1L610.4 205.5L611.2 206.7L612.1 207.7L613.0 208.5L613.8 209.4L614.7 210.1L615.5 210.8L616.4 211.4L617.2 211.9L618.1 212.2L618.9 212.5L619.8 212.7L620.6 212.9L621.5 213.0L622.4 213.2L623.2 213.2L624.1 213.2L624.9 213.1L625.8 213.0L626.6 212.8L627.5 212.6L628.3 212.4L629.2 212.2L630.1 211.9L630.9 211.6L631.8 211.3L632.6 210.9L633.5 210.5L634.3 210.0L635.2 209.3L636.0 208.7L636.9 208.0L637.7 207.3L638.6 206.5L639.5 205.8L640.3 205.1L641.2 204.3L642.0 203.5L642.9 202.6L643.7 201.7L644.6 200.8L645.4 199.8L646.3 198.8L647.2 197.7L648.0 196.6L648.9 195.3L649.7 194.1L650.6 192.9L651.4 191.8L652.3 190.7L653.1 189.7L654.0 188.7L654.8 187.7L655.7 186.7L656.6 185.6L657.4 184.6L658.3 183.6L659.1 182.6L660.0 181.5L660.8 180.5L661.7 179.4L662.5 178.4L663.4 177.3L664.3 176.2L665.1 175.0L666.0 173.8L666.8 172.6L667.7 171.4L668.5 170.1L669.4 168.8L670.2 167.5L671.1 166.1L671.9 164.8L672.8 163.4L673.7 162.0L674.5 160.6L675.4 159.2L676.2 157.8L677.1 156.4L677.9 155.0L678.8 153.6L679.6 152.1L680.5 150.6L681.4 149.0L682.2 147.5L683.1 145.9L683.9 144.4L684.8 142.9L685.6 141.4L686.5 140.0L687.3 138.6L688.2 137.3L689.0 136.0L689.9 134.6L690.8 133.3L691.6 132.1L692.5 130.9L693.3 129.9L694.2 129.0L695.0 128.3L695.9 127.6L696.7 126.9L697.6 126.3L698.5 125.8L699.3 125.6L700.2 125.7L701.0 125.8L701.9 126.1L702.7 126.5L703.6 127.0L704.4 127.5L705.3 128.1L706.1 129.1L707.0 130.4L707.9 131.9L708.7 133.5L709.6 135.1L710.4 136.7L711.3 138.4L712.1 140.3L713.0 142.3L713.8 144.4L714.7 146.6L715.6 149.0L716.4 151.7L717.3 154.6L718.1 157.6L719.0 160.8L719.8 163.9L720.7 167.3L721.5 170.7L722.4 174.1L723.2 177.4L724.1 180.4L725.0 183.4L725.8 186.3L726.7 189.2L727.5 191.9L728.4 194.7L729.2 197.5L730.1 200.2L730.9 202.9L731.8 205.5L732.7 207.9L733.5 210.1L734.4 212.1L735.2 214.0L736.1 215.8L736.9 217.6L737.8 219.3L738.6 221.2L739.5 223.0L740.3 224.7L741.2 226.4L742.1 227.9L742.9 229.2L743.8 230.5L744.6 231.7L745.5 232.9L746.3 234.0L747.2 235.0L748.0 236.0L748.9 237.0L749.8 237.9L750.6 238.8L751.5 239.6L752.3 240.4L753.2 241.2L754.0 241.9L754.9 242.5L755.7 243.0L756.6 243.5L757.4 243.9L758.3 244.4L759.2 244.8L760.0 245.2L760.9 245.5L761.7 245.8L762.6 246.1L763.4 246.4L764.3 246.7L765.1 246.9L766.0 247.2L766.9 247.4L767.7 247.6L768.6 247.8L769.4 248.1L770.3 248.2L771.1 248.4L772.0 248.6L772.8 248.7L773.7 248.8L774.5 248.9"/>
<path d="M450.5 109.9L451.4 111.7L452.2 113.4L453.1 115.1L453.9 116.6L454.8 118.2L455.6 119.8L456.5 121.1L457.3 122.1L458.2 122.9L459.1 123.2L459.9 123.1L460.8 122.8L461.6 122.4L462.5 121.7L463.3 120.8L464.2 119.6L465.0 118.1L465.9 116.5L466.7 114.7L467.6 112.8L468.5 110.9L469.3 108.8L470.2 106.8L471.0 104.8L471.9 103.1L472.7 101.4L473.6 99.9L474.4 98.4L475.3 96.7L476.2 95.0L477.0 93.2L477.9 91.4L478.7 89.8L479.6 88.3L480.4 86.8L481.3 85.4L482.1 84.2L483.0 83.0L483.8 81.9L484.7 80.7L485.6 79.6L486.4 78.5L487.3 77.4L488.1 76.4L489.0 75.6L489.8 74.9L490.7 74.2L491.5 73.6L492.4 73.2L493.3 72.9L494.1 72.8L495.0 72.7L495.8 72.7L496.7 72.8L497.5 73.1L498.4 73.5L499.2 74.1L500.1 74.7L500.9 75.4L501.8 76.2L502.7 77.2L503.5 78.3L504.4 79.6L505.2 81.0L506.1 82.7L506.9 84.6L507.8 86.7L508.6 89.0L509.5 91.4L510.4 93.9L511.2 96.7L512.1 99.8L512.9 103.2L513.8 106.8L514.6 110.7L515.5 114.2L516.3 116.6L517.2 118.1L518.0 118.6L518.9 118.8L519.8 118.9L520.6 119.2L521.5 119.8L522.3 120.9L523.2 122.3L524.0 124.1L524.9 126.2L525.7 129.1L526.6 132.3L527.5 135.7L528.3 139.2L529.2 142.6L530.0 145.9L530.9 148.7L531.7 151.2L532.6 153.5L533.4 155.6L534.3 157.5L535.1 159.4L536.0 161.2L536.9 163.4L537.7 165.5L538.6 167.1L539.4 167.9L540.3 167.9L541.1 167.8L542.0 167.2L542.8 166.1L543.7 164.7L544.6 163.3L545.4 162.0L546.3 161.1L547.1 160.2L548.0 159.4L548.8 158.6L549.7 157.8L550.5 157.1L551.4 156.4L552.2 155.8L553.1 155.2L554.0 154.6L554.8 154.1L555.7 153.5L556.5 153.1L557.4 152.8L558.2 152.7L559.1 152.8L559.9 152.9L560.8 153.1L561.7 153.4L562.5 153.6L563.4 153.9L564.2 154.2L565.1 154.6L565.9 155.1L566.8 155.8L567.6 156.5L568.5 157.1L569.3 157.6L570.2 158.0L571.1 158.2L571.9 158.5L572.8 158.7L573.6 158.9L574.5 159.2L575.3 159.6L576.2 159.9L577.0 160.3L577.9 160.7L578.8 161.0L579.6 161.3L580.5 161.5L581.3 161.8L582.2 162.0L583.0 162.1L583.9 162.3L584.7 162.4L585.6 162.6L586.4 162.9L587.3 163.2L588.2 163.6L589.0 164.1L589.9 164.8L590.7 165.5L591.6 166.4L592.4 167.3L593.3 168.4L594.1 169.8L595.0 171.5L595.9 173.3L596.7 175.2L597.6 177.1L598.4 179.0L599.3 181.0L600.1 183.1L601.0 185.3L601.8 187.7L602.7 190.1L603.5 192.6L604.4 195.1L605.3 197.5L606.1 200.1L607.0 202.5L607.8 204.3L608.7 205.9L609.5 207.2L610.4 208.4L611.2 209.5L612.1 210.4L613.0 211.2L613.8 211.9L614.7 212.5L615.5 213.1L616.4 213.6L617.2 214.0L618.1 214.3L618.9 214.4L619.8 214.6L620.6 214.7L621.5 214.8L622.4 214.9L623.2 214.9L624.1 214.8L624.9 214.7L625.8 214.5L626.6 214.3L627.5 214.0L628.3 213.8L629.2 213.5L630.1 213.2L630.9 212.8L631.8 212.5L632.6 212.1L633.5 211.6L634.3 211.1L635.2 210.5L636.0 209.8L636.9 209.1L637.7 208.3L638.6 207.6L639.5 206.9L640.3 206.1L641.2 205.3L642.0 204.5L642.9 203.7L643.7 202.8L644.6 201.9L645.4 200.9L646.3 199.9L647.2 198.8L648.0 197.7L648.9 196.5L649.7 195.3L650.6 194.1L651.4 193.0L652.3 191.9L653.1 190.9L654.0 189.9L654.8 188.9L655.7 187.9L656.6 186.9L657.4 185.9L658.3 184.9L659.1 183.9L660.0 182.9L660.8 181.8L661.7 180.8L662.5 179.8L663.4 178.7L664.3 177.6L665.1 176.5L666.0 175.3L666.8 174.1L667.7 172.9L668.5 171.6L669.4 170.4L670.2 169.1L671.1 167.8L671.9 166.4L672.8 165.1L673.7 163.7L674.5 162.4L675.4 161.0L676.2 159.6L677.1 158.2L677.9 156.9L678.8 155.5L679.6 154.0L680.5 152.5L681.4 151.0L682.2 149.5L683.1 148.0L683.9 146.5L684.8 145.0L685.6 143.6L686.5 142.2L687.3 140.8L688.2 139.5L689.0 138.2L689.9 136.9L690.8 135.7L691.6 134.5L692.5 133.3L693.3 132.3L694.2 131.5L695.0 130.7L695.9 130.0L696.7 129.3L697.6 128.7L698.5 128.3L699.3 128.1L700.2 128.2L701.0 128.3L701.9 128.6L702.7 129.0L703.6 129.5L704.4 129.9L705.3 130.6L706.1 131.6L707.0 132.8L707.9 134.3L708.7 135.8L709.6 137.4L710.4 138.9L711.3 140.6L712.1 142.5L713.0 144.4L713.8 146.5L714.7 148.7L715.6 151.0L716.4 153.7L717.3 156.5L718.1 159.5L719.0 162.5L719.8 165.6L720.7 168.9L721.5 172.3L722.4 175.6L723.2 178.8L724.1 181.8L725.0 184.7L725.8 187.6L726.7 190.3L727.5 193.1L728.4 195.8L729.2 198.5L730.1 201.2L730.9 203.8L731.8 206.4L732.7 208.7L733.5 210.8L734.4 212.8L735.2 214.7L736.1 216.4L736.9 218.2L737.8 219.9L738.6 221.7L739.5 223.5L740.3 225.2L741.2 226.8L742.1 228.3L742.9 229.6L743.8 230.9L744.6 232.1L745.5 233.2L746.3 234.3L747.2 235.3L748.0 236.3L748.9 237.2L749.8 238.1L750.6 239.0L751.5 239.8L752.3 240.6L753.2 241.3L754.0 242.0L754.9 242.6L755.7 243.1L756.6 243.6L757.4 244.0L758.3 244.5L759.2 244.9L760.0 245.3L760.9 245.6L761.7 245.9L762.6 246.2L763.4 246.5L764.3 246.7L765.1 247.0L766.0 247.2L766.9 247.5L767.7 247.7L768.6 247.9L769.4 248.1L770.3 248.3L771.1 248.5L772.0 248.6L772.8 248.7L773.7 248.8L774.5 248.9"/>
<path d="M450.5 110.0L451.4 111.8L452.2 113.5L453.1 115.1L453.9 116.7L454.8 118.3L455.6 119.9L456.5 121.2L457.3 122.2L458.2 123.0L459.1 123.3L459.9 123.2L460.8 122.9L461.6 122.5L462.5 121.8L463.3 120.9L464.2 119.7L465.0 118.2L465.9 116.6L466.7 114.8L467.6 112.9L468.5 111.0L469.3 109.0L470.2 106.9L471.0 105.0L471.9 103.2L472.7 101.6L473.6 100.1L474.4 98.5L475.3 96.9L476.2 95.2L477.0 93.4L477.9 91.6L478.7 90.1L479.6 88.6L480.4 87.2L481.3 85.8L482.1 84.6L483.0 83.4L483.8 82.3L484.7 81.2L485.6 80.1L486.4 79.1L487.3 78.0L488.1 77.1L489.0 76.3L489.8 75.6L490.7 75.0L491.5 74.4L492.4 74.0L493.3 73.7L494.1 73.6L495.0 73.6L495.8 73.6L496.7 73.7L497.5 74.1L498.4 74.5L499.2 75.1L500.1 75.7L500.9 76.4L501.8 77.2L502.7 78.2L503.5 79.4L504.4 80.7L505.2 82.1L506.1 83.8L506.9 85.8L507.8 87.9L508.6 90.2L509.5 92.5L510.4 95.1L511.2 97.9L512.1 101.0L512.9 104.4L513.8 108.0L514.6 111.9L515.5 115.3L516.3 117.7L517.2 119.1L518.0 119.6L518.9 119.8L519.8 119.9L520.6 120.1L521.5 120.7L522.3 121.9L523.2 123.6L524.0 125.8L524.9 128.4L525.7 131.8L526.6 135.5L527.5 139.4L528.3 143.4L529.2 147.2L530.0 150.7L530.9 153.8L531.7 156.5L532.6 158.9L533.4 161.0L534.3 162.9L535.1 164.6L536.0 166.2L536.9 168.0L537.7 169.9L538.6 171.3L539.4 172.0L540.3 172.1L541.1 172.1L542.0 171.8L542.8 171.0L543.7 170.0L544.6 169.0L545.4 168.1L546.3 167.4L547.1 166.8L548.0 166.2L548.8 165.7L549.7 165.2L550.5 164.7L551.4 164.3L552.2 163.9L553.1 163.6L554.0 163.2L554.8 162.9L555.7 162.6L556.5 162.5L557.4 162.5L558.2 162.7L559.1 163.2L559.9 163.7L560.8 164.2L561.7 164.7L562.5 165.3L563.4 165.9L564.2 166.6L565.1 167.2L565.9 168.0L566.8 168.9L567.6 169.8L568.5 170.5L569.3 171.0L570.2 171.2L571.1 171.4L571.9 171.5L572.8 171.5L573.6 171.5L574.5 171.6L575.3 171.8L576.2 171.9L577.0 172.0L577.9 172.1L578.8 172.2L579.6 172.3L580.5 172.3L581.3 172.3L582.2 172.3L583.0 172.2L583.9 172.2L584.7 172.2L585.6 172.2L586.4 172.3L587.3 172.4L588.2 172.6L589.0 173.0L589.9 173.4L590.7 173.9L591.6 174.6L592.4 175.3L593.3 176.2L594.1 177.3L595.0 178.7L595.9 180.3L596.7 181.9L597.6 183.5L598.4 185.2L599.3 186.9L600.1 188.7L601.0 190.6L601.8 192.7L602.7 194.9L603.5 197.1L604.4 199.3L605.3 201.5L606.1 203.8L607.0 205.9L607.8 207.6L608.7 209.0L609.5 210.2L610.4 211.3L611.2 212.2L612.1 213.0L613.0 213.6L613.8 214.3L614.7 214.8L615.5 215.3L616.4 215.8L617.2 216.1L618.1 216.3L618.9 216.4L619.8 216.5L620.6 216.5L621.5 216.6L622.4 216.6L623.2 216.5L624.1 216.4L624.9 216.2L625.8 216.0L626.6 215.8L627.5 215.5L628.3 215.2L629.2 214.9L630.1 214.6L630.9 214.2L631.8 213.8L632.6 213.4L633.5 212.9L634.3 212.4L635.2 211.7L636.0 211.1L636.9 210.4L637.7 209.6L638.6 208.9L639.5 208.2L640.3 207.4L641.2 206.6L642.0 205.8L642.9 205.0L643.7 204.1L644.6 203.2L645.4 202.3L646.3 201.3L647.2 200.2L648.0 199.1L648.9 197.9L649.7 196.8L650.6 195.6L651.4 194.5L652.3 193.5L653.1 192.5L654.0 191.5L654.8 190.5L655.7 189.6L656.6 188.6L657.4 187.6L658.3 186.6L659.1 185.6L660.0 184.6L660.8 183.6L661.7 182.6L662.5 181.6L663.4 180.6L664.3 179.5L665.1 178.4L666.0 177.3L666.8 176.1L667.7 174.9L668.5 173.7L669.4 172.5L670.2 171.2L671.1 170.0L671.9 168.7L672.8 167.4L673.7 166.1L674.5 164.7L675.4 163.4L676.2 162.1L677.1 160.7L677.9 159.4L678.8 158.0L679.6 156.6L680.5 155.2L681.4 153.7L682.2 152.2L683.1 150.8L683.9 149.3L684.8 147.9L685.6 146.5L686.5 145.1L687.3 143.8L688.2 142.5L689.0 141.3L689.9 140.0L690.8 138.8L691.6 137.6L692.5 136.5L693.3 135.5L694.2 134.7L695.0 134.0L695.9 133.3L696.7 132.6L697.6 132.1L698.5 131.7L699.3 131.5L700.2 131.5L701.0 131.7L701.9 132.0L702.7 132.3L703.6 132.8L704.4 133.2L705.3 133.9L706.1 134.8L707.0 136.0L707.9 137.4L708.7 138.9L709.6 140.4L710.4 142.0L711.3 143.6L712.1 145.4L713.0 147.3L713.8 149.3L714.7 151.4L715.6 153.7L716.4 156.3L717.3 159.0L718.1 161.9L719.0 164.9L719.8 167.9L720.7 171.1L721.5 174.4L722.4 177.6L723.2 180.7L724.1 183.6L725.0 186.5L725.8 189.2L726.7 191.9L727.5 194.6L728.4 197.2L729.2 199.9L730.1 202.5L730.9 205.0L731.8 207.5L732.7 209.8L733.5 211.9L734.4 213.8L735.2 215.6L736.1 217.3L736.9 219.0L737.8 220.7L738.6 222.4L739.5 224.1L740.3 225.8L741.2 227.4L742.1 228.8L742.9 230.1L743.8 231.3L744.6 232.5L745.5 233.6L746.3 234.7L747.2 235.7L748.0 236.6L748.9 237.5L749.8 238.4L750.6 239.2L751.5 240.1L752.3 240.8L753.2 241.5L754.0 242.2L754.9 242.8L755.7 243.3L756.6 243.7L757.4 244.2L758.3 244.6L759.2 245.0L760.0 245.4L760.9 245.7L761.7 246.0L762.6 246.3L763.4 246.6L764.3 246.8L765.1 247.1L766.0 247.3L766.9 247.5L767.7 247.7L768.6 248.0L769.4 248.2L770.3 248.3L771.1 248.5L772.0 248.7L772.8 248.8L773.7 248.9L774.5 249.0"/>
<path d="M450.5 110.1L451.4 111.8L452.2 113.6L453.1 115.2L453.9 116.8L454.8 118.4L455.6 120.0L456.5 121.3L457.3 122.3L458.2 123.1L459.1 123.4L459.9 123.2L460.8 123.0L461.6 122.6L462.5 121.9L463.3 121.0L464.2 119.8L465.0 118.3L465.9 116.7L466.7 114.9L467.6 113.0L468.5 111.2L469.3 109.1L470.2 107.0L471.0 105.1L471.9 103.4L472.7 101.7L473.6 100.2L474.4 98.7L475.3 97.1L476.2 95.4L477.0 93.6L477.9 91.9L478.7 90.3L479.6 88.9L480.4 87.5L481.3 86.2L482.1 85.0L483.0 83.9L483.8 82.8L484.7 81.8L485.6 80.7L486.4 79.6L487.3 78.7L488.1 77.8L489.0 77.0L489.8 76.3L490.7 75.7L491.5 75.2L492.4 74.8L493.3 74.6L494.1 74.5L495.0 74.5L495.8 74.5L496.7 74.7L497.5 75.0L498.4 75.5L499.2 76.1L500.1 76.7L500.9 77.4L501.8 78.3L502.7 79.3L503.5 80.5L504.4 81.8L505.2 83.3L506.1 85.0L506.9 86.9L507.8 89.0L508.6 91.3L509.5 93.7L510.4 96.2L511.2 99.0L512.1 102.1L512.9 105.5L513.8 109.1L514.6 113.0L515.5 116.5L516.3 118.8L517.2 120.2L518.0 120.6L518.9 120.8L519.8 120.8L520.6 121.0L521.5 121.7L522.3 122.9L523.2 124.9L524.0 127.4L524.9 130.4L525.7 134.3L526.6 138.4L527.5 142.7L528.3 147.0L529.2 151.1L530.0 154.9L530.9 158.1L531.7 161.0L532.6 163.5L533.4 165.7L534.3 167.5L535.1 169.0L536.0 170.4L536.9 172.0L537.7 173.6L538.6 174.8L539.4 175.5L540.3 175.8L541.1 175.9L542.0 175.7L542.8 175.2L543.7 174.5L544.6 173.8L545.4 173.2L546.3 172.8L547.1 172.4L548.0 172.1L548.8 171.8L549.7 171.5L550.5 171.3L551.4 171.1L552.2 170.9L553.1 170.7L554.0 170.6L554.8 170.5L555.7 170.4L556.5 170.5L557.4 170.7L558.2 171.3L559.1 172.0L559.9 172.8L560.8 173.6L561.7 174.4L562.5 175.3L563.4 176.2L564.2 177.1L565.1 178.0L565.9 179.0L566.8 180.1L567.6 181.1L568.5 181.9L569.3 182.4L570.2 182.6L571.1 182.7L571.9 182.6L572.8 182.5L573.6 182.4L574.5 182.4L575.3 182.4L576.2 182.3L577.0 182.2L577.9 182.1L578.8 182.0L579.6 181.8L580.5 181.7L581.3 181.5L582.2 181.4L583.0 181.2L583.9 181.0L584.7 180.9L585.6 180.7L586.4 180.6L587.3 180.6L588.2 180.7L589.0 180.9L589.9 181.2L590.7 181.5L591.6 182.0L592.4 182.5L593.3 183.2L594.1 184.1L595.0 185.3L595.9 186.6L596.7 188.0L597.6 189.3L598.4 190.8L599.3 192.3L600.1 193.9L601.0 195.6L601.8 197.4L602.7 199.3L603.5 201.2L604.4 203.2L605.3 205.2L606.1 207.2L607.0 209.2L607.8 210.6L608.7 211.9L609.5 212.9L610.4 213.9L611.2 214.7L612.1 215.4L613.0 216.0L613.8 216.5L614.7 217.0L615.5 217.5L616.4 217.8L617.2 218.1L618.1 218.2L618.9 218.3L619.8 218.3L620.6 218.3L621.5 218.3L622.4 218.3L623.2 218.2L624.1 218.1L624.9 217.9L625.8 217.6L626.6 217.3L627.5 217.1L628.3 216.7L629.2 216.4L630.1 216.0L630.9 215.7L631.8 215.3L632.6 214.9L633.5 214.4L634.3 213.8L635.2 213.2L636.0 212.5L636.9 211.8L637.7 211.1L638.6 210.3L639.5 209.6L640.3 208.9L641.2 208.1L642.0 207.3L642.9 206.5L643.7 205.7L644.6 204.8L645.4 203.9L646.3 202.9L647.2 201.9L648.0 200.8L648.9 199.7L649.7 198.5L650.6 197.4L651.4 196.3L652.3 195.3L653.1 194.4L654.0 193.4L654.8 192.5L655.7 191.5L656.6 190.5L657.4 189.6L658.3 188.6L659.1 187.7L660.0 186.7L660.8 185.8L661.7 184.8L662.5 183.8L663.4 182.8L664.3 181.8L665.1 180.7L666.0 179.6L666.8 178.5L667.7 177.4L668.5 176.2L669.4 175.0L670.2 173.8L671.1 172.5L671.9 171.3L672.8 170.0L673.7 168.8L674.5 167.5L675.4 166.2L676.2 164.9L677.1 163.6L677.9 162.3L678.8 161.0L679.6 159.7L680.5 158.3L681.4 156.9L682.2 155.5L683.1 154.0L683.9 152.6L684.8 151.2L685.6 149.9L686.5 148.6L687.3 147.3L688.2 146.1L689.0 144.9L689.9 143.7L690.8 142.5L691.6 141.3L692.5 140.3L693.3 139.3L694.2 138.5L695.0 137.9L695.9 137.2L696.7 136.5L697.6 136.0L698.5 135.6L699.3 135.4L700.2 135.4L701.0 135.6L701.9 135.9L702.7 136.2L703.6 136.6L704.4 137.1L705.3 137.7L706.1 138.6L707.0 139.8L707.9 141.2L708.7 142.6L709.6 144.1L710.4 145.5L711.3 147.1L712.1 148.8L713.0 150.7L713.8 152.6L714.7 154.7L715.6 156.9L716.4 159.4L717.3 162.0L718.1 164.8L719.0 167.7L719.8 170.6L720.7 173.7L721.5 176.8L722.4 180.0L723.2 183.0L724.1 185.8L725.0 188.5L725.8 191.2L726.7 193.8L727.5 196.4L728.4 198.9L729.2 201.5L730.1 204.0L730.9 206.5L731.8 208.8L732.7 211.0L733.5 213.0L734.4 214.9L735.2 216.6L736.1 218.3L736.9 219.9L737.8 221.6L738.6 223.2L739.5 224.9L740.3 226.5L741.2 228.1L742.1 229.4L742.9 230.7L743.8 231.9L744.6 233.0L745.5 234.1L746.3 235.1L747.2 236.1L748.0 237.0L748.9 237.9L749.8 238.7L750.6 239.5L751.5 240.3L752.3 241.1L753.2 241.8L754.0 242.4L754.9 243.0L755.7 243.4L756.6 243.9L757.4 244.3L758.3 244.8L759.2 245.1L760.0 245.5L760.9 245.8L761.7 246.1L762.6 246.4L763.4 246.7L764.3 246.9L765.1 247.1L766.0 247.4L766.9 247.6L767.7 247.8L768.6 248.0L769.4 248.2L770.3 248.4L771.1 248.6L772.0 248.7L772.8 248.8L773.7 249.0L774.5 249.0"/>
<path d="M450.5 110.2L451.4 111.9L452.2 113.7L453.1 115.3L453.9 116.9L454.8 118.5L455.6 120.1L456.5 121.4L457.3 122.4L458.2 123.3L459.1 123.5L459.9 123.4L460.8 123.1L461.6 122.7L462.5 122.0L463.3 121.1L464.2 119.9L465.0 118.5L465.9 116.9L466.7 115.1L467.6 113.2L468.5 111.3L469.3 109.3L470.2 107.2L471.0 105.3L471.9 103.6L472.7 102.0L473.6 100.5L474.4 98.9L475.3 97.4L476.2 95.7L477.0 93.9L477.9 92.2L478.7 90.7L479.6 89.3L480.4 88.0L481.3 86.7L482.1 85.6L483.0 84.5L483.8 83.6L484.7 82.6L485.6 81.5L486.4 80.5L487.3 79.6L488.1 78.8L489.0 78.0L489.8 77.4L490.7 76.9L491.5 76.4L492.4 76.0L493.3 75.8L494.1 75.8L495.0 75.8L495.8 75.9L496.7 76.1L497.5 76.4L498.4 76.9L499.2 77.5L500.1 78.2L500.9 79.0L501.8 79.8L502.7 80.9L503.5 82.1L504.4 83.4L505.2 84.9L506.1 86.7L506.9 88.6L507.8 90.8L508.6 93.0L509.5 95.4L510.4 98.0L511.2 100.8L512.1 103.9L512.9 107.2L513.8 110.8L514.6 114.7L515.5 118.2L516.3 120.4L517.2 121.7L518.0 122.2L518.9 122.2L519.8 122.2L520.6 122.4L521.5 123.0L522.3 124.3L523.2 126.4L524.0 128.9L524.9 132.1L525.7 136.0L526.6 140.2L527.5 144.6L528.3 148.9L529.2 153.0L530.0 156.9L530.9 160.2L531.7 163.0L532.6 165.6L533.4 167.7L534.3 169.5L535.1 171.0L536.0 172.3L536.9 173.8L537.7 175.2L538.6 176.4L539.4 177.1L540.3 177.3L541.1 177.5L542.0 177.4L542.8 177.0L543.7 176.5L544.6 175.9L545.4 175.4L546.3 175.1L547.1 174.9L548.0 174.7L548.8 174.4L549.7 174.3L550.5 174.1L551.4 174.0L552.2 173.9L553.1 173.8L554.0 173.8L554.8 173.7L555.7 173.8L556.5 173.9L557.4 174.3L558.2 175.0L559.1 175.8L559.9 176.8L560.8 177.7L561.7 178.7L562.5 179.6L563.4 180.6L564.2 181.6L565.1 182.7L565.9 183.8L566.8 184.9L567.6 186.1L568.5 186.9L569.3 187.5L570.2 187.7L571.1 187.8L571.9 187.8L572.8 187.7L573.6 187.6L574.5 187.6L575.3 187.6L576.2 187.5L577.0 187.4L577.9 187.3L578.8 187.2L579.6 187.1L580.5 186.9L581.3 186.7L582.2 186.6L583.0 186.4L583.9 186.2L584.7 186.0L585.6 185.9L586.4 185.8L587.3 185.8L588.2 185.8L589.0 186.0L589.9 186.2L590.7 186.5L591.6 186.9L592.4 187.4L593.3 188.0L594.1 188.8L595.0 189.9L595.9 191.0L596.7 192.3L597.6 193.5L598.4 194.9L599.3 196.2L600.1 197.7L601.0 199.2L601.8 200.9L602.7 202.7L603.5 204.5L604.4 206.3L605.3 208.1L606.1 210.0L607.0 211.8L607.8 213.1L608.7 214.3L609.5 215.3L610.4 216.1L611.2 216.9L612.1 217.5L613.0 218.1L613.8 218.6L614.7 219.0L615.5 219.4L616.4 219.7L617.2 219.9L618.1 220.1L618.9 220.1L619.8 220.1L620.6 220.2L621.5 220.2L622.4 220.1L623.2 220.0L624.1 219.9L624.9 219.7L625.8 219.4L626.6 219.2L627.5 218.9L628.3 218.6L629.2 218.2L630.1 217.9L630.9 217.5L631.8 217.2L632.6 216.8L633.5 216.3L634.3 215.7L635.2 215.1L636.0 214.5L636.9 213.8L637.7 213.1L638.6 212.4L639.5 211.7L640.3 211.1L641.2 210.3L642.0 209.6L642.9 208.8L643.7 208.0L644.6 207.2L645.4 206.3L646.3 205.4L647.2 204.4L648.0 203.4L648.9 202.3L649.7 201.2L650.6 200.2L651.4 199.2L652.3 198.2L653.1 197.3L654.0 196.4L654.8 195.5L655.7 194.6L656.6 193.7L657.4 192.8L658.3 191.9L659.1 191.0L660.0 190.1L660.8 189.2L661.7 188.3L662.5 187.3L663.4 186.4L664.3 185.4L665.1 184.4L666.0 183.4L666.8 182.3L667.7 181.2L668.5 180.1L669.4 179.0L670.2 177.9L671.1 176.7L671.9 175.5L672.8 174.3L673.7 173.1L674.5 171.9L675.4 170.7L676.2 169.5L677.1 168.3L677.9 167.1L678.8 165.9L679.6 164.6L680.5 163.3L681.4 161.9L682.2 160.6L683.1 159.3L683.9 157.9L684.8 156.6L685.6 155.4L686.5 154.1L687.3 152.9L688.2 151.8L689.0 150.6L689.9 149.5L690.8 148.4L691.6 147.3L692.5 146.3L693.3 145.4L694.2 144.7L695.0 144.0L695.9 143.4L696.7 142.8L697.6 142.3L698.5 141.9L699.3 141.7L700.2 141.8L701.0 141.9L701.9 142.2L702.7 142.5L703.6 142.9L704.4 143.3L705.3 143.9L706.1 144.8L707.0 145.9L707.9 147.2L708.7 148.5L709.6 149.9L710.4 151.3L711.3 152.8L712.1 154.4L713.0 156.1L713.8 158.0L714.7 159.9L715.6 162.0L716.4 164.3L717.3 166.8L718.1 169.5L719.0 172.2L719.8 174.9L720.7 177.8L721.5 180.8L722.4 183.8L723.2 186.6L724.1 189.2L725.0 191.8L725.8 194.3L726.7 196.8L727.5 199.2L728.4 201.6L729.2 204.0L730.1 206.4L730.9 208.8L731.8 211.0L732.7 213.1L733.5 215.0L734.4 216.7L735.2 218.4L736.1 219.9L736.9 221.5L737.8 223.0L738.6 224.6L739.5 226.2L740.3 227.7L741.2 229.2L742.1 230.4L742.9 231.6L743.8 232.8L744.6 233.8L745.5 234.8L746.3 235.8L747.2 236.7L748.0 237.6L748.9 238.4L749.8 239.2L750.6 240.0L751.5 240.8L752.3 241.5L753.2 242.2L754.0 242.7L754.9 243.3L755.7 243.7L756.6 244.2L757.4 244.6L758.3 245.0L759.2 245.4L760.0 245.7L760.9 246.0L761.7 246.3L762.6 246.6L763.4 246.8L764.3 247.1L765.1 247.3L766.0 247.5L766.9 247.7L767.7 247.9L768.6 248.1L769.4 248.3L770.3 248.5L771.1 248.7L772.0 248.8L772.8 248.9L773.7 249.1L774.5 249.1"/>
<path d="M450.5 110.4L451.4 112.2L452.2 113.9L453.1 115.6L453.9 117.2L454.8 118.8L455.6 120.4L456.5 121.7L457.3 122.7L458.2 123.5L459.1 123.8L459.9 123.7L460.8 123.4L461.6 123.0L462.5 122.3L463.3 121.4L464.2 120.3L465.0 118.8L465.9 117.2L466.7 115.4L467.6 113.6L468.5 111.7L469.3 109.7L470.2 107.7L471.0 105.8L471.9 104.0L472.7 102.4L473.6 101.0L474.4 99.5L475.3 97.9L476.2 96.3L477.0 94.6L477.9 93.0L478.7 91.6L479.6 90.3L480.4 89.1L481.3 87.9L482.1 86.9L483.0 85.9L483.8 85.1L484.7 84.2L485.6 83.3L486.4 82.4L487.3 81.6L488.1 80.9L489.0 80.2L489.8 79.7L490.7 79.3L491.5 78.9L492.4 78.6L493.3 78.5L494.1 78.5L495.0 78.6L495.8 78.8L496.7 79.0L497.5 79.4L498.4 80.0L499.2 80.7L500.1 81.4L500.9 82.2L501.8 83.2L502.7 84.3L503.5 85.5L504.4 86.9L505.2 88.5L506.1 90.3L506.9 92.3L507.8 94.4L508.6 96.7L509.5 99.1L510.4 101.6L511.2 104.5L512.1 107.5L512.9 110.8L513.8 114.4L514.6 118.3L515.5 121.7L516.3 123.9L517.2 125.0L518.0 125.4L518.9 125.4L519.8 125.3L520.6 125.4L521.5 126.0L522.3 127.3L523.2 129.3L524.0 131.8L524.9 134.9L525.7 138.8L526.6 142.9L527.5 147.1L528.3 151.4L529.2 155.4L530.0 159.1L530.9 162.3L531.7 165.1L532.6 167.6L533.4 169.7L534.3 171.4L535.1 172.8L536.0 174.0L536.9 175.4L537.7 176.7L538.6 177.8L539.4 178.5L540.3 178.8L541.1 179.0L542.0 179.0L542.8 178.7L543.7 178.3L544.6 177.9L545.4 177.5L546.3 177.3L547.1 177.2L548.0 177.0L548.8 176.9L549.7 176.8L550.5 176.8L551.4 176.8L552.2 176.8L553.1 176.8L554.0 176.8L554.8 176.8L555.7 177.0L556.5 177.2L557.4 177.7L558.2 178.5L559.1 179.5L559.9 180.5L560.8 181.6L561.7 182.6L562.5 183.7L563.4 184.8L564.2 185.9L565.1 187.1L565.9 188.2L566.8 189.5L567.6 190.7L568.5 191.6L569.3 192.3L570.2 192.6L571.1 192.8L571.9 192.8L572.8 192.8L573.6 192.8L574.5 192.9L575.3 192.9L576.2 192.9L577.0 192.9L577.9 192.8L578.8 192.7L579.6 192.6L580.5 192.5L581.3 192.4L582.2 192.3L583.0 192.1L583.9 192.0L584.7 191.8L585.6 191.7L586.4 191.7L587.3 191.6L588.2 191.7L589.0 191.8L589.9 192.0L590.7 192.3L591.6 192.7L592.4 193.1L593.3 193.6L594.1 194.4L595.0 195.3L595.9 196.4L596.7 197.5L597.6 198.6L598.4 199.8L599.3 201.0L600.1 202.4L601.0 203.7L601.8 205.2L602.7 206.8L603.5 208.5L604.4 210.1L605.3 211.7L606.1 213.4L607.0 215.0L607.8 216.3L608.7 217.3L609.5 218.2L610.4 219.0L611.2 219.7L612.1 220.2L613.0 220.7L613.8 221.2L614.7 221.6L615.5 221.9L616.4 222.2L617.2 222.4L618.1 222.5L618.9 222.5L619.8 222.6L620.6 222.6L621.5 222.6L622.4 222.5L623.2 222.4L624.1 222.3L624.9 222.1L625.8 221.9L626.6 221.6L627.5 221.4L628.3 221.1L629.2 220.8L630.1 220.4L630.9 220.1L631.8 219.8L632.6 219.4L633.5 219.0L634.3 218.4L635.2 217.9L636.0 217.3L636.9 216.7L637.7 216.0L638.6 215.4L639.5 214.8L640.3 214.1L641.2 213.5L642.0 212.8L642.9 212.1L643.7 211.3L644.6 210.5L645.4 209.8L646.3 208.9L647.2 208.0L648.0 207.1L648.9 206.1L649.7 205.1L650.6 204.2L651.4 203.2L652.3 202.4L653.1 201.5L654.0 200.7L654.8 199.9L655.7 199.0L656.6 198.2L657.4 197.4L658.3 196.5L659.1 195.7L660.0 194.9L660.8 194.1L661.7 193.2L662.5 192.4L663.4 191.5L664.3 190.6L665.1 189.7L666.0 188.7L666.8 187.8L667.7 186.8L668.5 185.8L669.4 184.8L670.2 183.7L671.1 182.7L671.9 181.6L672.8 180.5L673.7 179.4L674.5 178.3L675.4 177.2L676.2 176.1L677.1 175.0L677.9 173.9L678.8 172.8L679.6 171.6L680.5 170.4L681.4 169.2L682.2 168.0L683.1 166.8L683.9 165.6L684.8 164.4L685.6 163.2L686.5 162.1L687.3 161.0L688.2 160.0L689.0 158.9L689.9 157.9L690.8 156.9L691.6 155.9L692.5 155.0L693.3 154.2L694.2 153.5L695.0 152.9L695.9 152.3L696.7 151.7L697.6 151.3L698.5 150.9L699.3 150.8L700.2 150.8L701.0 150.9L701.9 151.2L702.7 151.5L703.6 151.8L704.4 152.2L705.3 152.8L706.1 153.6L707.0 154.6L707.9 155.7L708.7 157.0L709.6 158.2L710.4 159.5L711.3 160.9L712.1 162.3L713.0 163.9L713.8 165.6L714.7 167.4L715.6 169.3L716.4 171.4L717.3 173.7L718.1 176.1L719.0 178.6L719.8 181.1L720.7 183.8L721.5 186.5L722.4 189.2L723.2 191.8L724.1 194.2L725.0 196.6L725.8 198.9L726.7 201.1L727.5 203.3L728.4 205.5L729.2 207.7L730.1 209.9L730.9 212.0L731.8 214.1L732.7 216.0L733.5 217.7L734.4 219.3L735.2 220.8L736.1 222.3L736.9 223.7L737.8 225.1L738.6 226.5L739.5 228.0L740.3 229.4L741.2 230.7L742.1 231.9L742.9 233.0L743.8 234.0L744.6 235.0L745.5 235.9L746.3 236.8L747.2 237.7L748.0 238.5L748.9 239.3L749.8 240.0L750.6 240.7L751.5 241.4L752.3 242.1L753.2 242.7L754.0 243.2L754.9 243.7L755.7 244.2L756.6 244.6L757.4 245.0L758.3 245.3L759.2 245.7L760.0 246.0L760.9 246.3L761.7 246.6L762.6 246.8L763.4 247.1L764.3 247.3L765.1 247.5L766.0 247.7L766.9 247.9L767.7 248.1L768.6 248.3L769.4 248.5L770.3 248.7L771.1 248.8L772.0 249.0L772.8 249.1L773.7 249.2L774.5 249.3"/>
<path d="M450.5 110.6L451.4 112.4L452.2 114.1L453.1 115.8L453.9 117.4L454.8 119.0L455.6 120.6L456.5 121.9L457.3 122.9L458.2 123.8L459.1 124.1L459.9 123.9L460.8 123.7L461.6 123.3L462.5 122.6L463.3 121.7L464.2 120.5L465.0 119.1L465.9 117.5L466.7 115.7L467.6 113.9L468.5 112.1L469.3 110.1L470.2 108.1L471.0 106.2L471.9 104.5L472.7 102.9L473.6 101.4L474.4 99.9L475.3 98.5L476.2 96.9L477.0 95.3L477.9 93.7L478.7 92.4L479.6 91.2L480.4 90.0L481.3 88.9L482.1 88.0L483.0 87.2L483.8 86.4L484.7 85.7L485.6 84.9L486.4 84.1L487.3 83.4L488.1 82.8L489.0 82.2L489.8 81.8L490.7 81.4L491.5 81.1L492.4 80.9L493.3 80.9L494.1 81.0L495.0 81.1L495.8 81.3L496.7 81.7L497.5 82.1L498.4 82.8L499.2 83.5L500.1 84.3L500.9 85.1L501.8 86.1L502.7 87.3L503.5 88.6L504.4 90.1L505.2 91.7L506.1 93.5L506.9 95.5L507.8 97.7L508.6 100.0L509.5 102.4L510.4 104.9L511.2 107.7L512.1 110.8L512.9 114.1L513.8 117.6L514.6 121.5L515.5 124.8L516.3 126.9L517.2 128.0L518.0 128.2L518.9 128.2L519.8 128.0L520.6 128.1L521.5 128.6L522.3 129.9L523.2 131.9L524.0 134.4L524.9 137.5L525.7 141.2L526.6 145.2L527.5 149.4L528.3 153.5L529.2 157.4L530.0 161.0L530.9 164.2L531.7 166.9L532.6 169.3L533.4 171.3L534.3 173.0L535.1 174.3L536.0 175.5L536.9 176.8L537.7 178.0L538.6 179.1L539.4 179.7L540.3 180.0L541.1 180.3L542.0 180.3L542.8 180.1L543.7 179.8L544.6 179.5L545.4 179.3L546.3 179.2L547.1 179.1L548.0 179.1L548.8 179.0L549.7 179.0L550.5 179.0L551.4 179.1L552.2 179.2L553.1 179.2L554.0 179.3L554.8 179.4L555.7 179.6L556.5 180.0L557.4 180.5L558.2 181.4L559.1 182.5L559.9 183.7L560.8 184.8L561.7 186.0L562.5 187.2L563.4 188.4L564.2 189.6L565.1 190.8L565.9 192.0L566.8 193.4L567.6 194.6L568.5 195.7L569.3 196.4L570.2 196.9L571.1 197.1L571.9 197.3L572.8 197.4L573.6 197.5L574.5 197.7L575.3 197.8L576.2 197.9L577.0 198.0L577.9 198.1L578.8 198.1L579.6 198.1L580.5 198.1L581.3 198.0L582.2 198.0L583.0 197.9L583.9 197.8L584.7 197.8L585.6 197.7L586.4 197.7L587.3 197.7L588.2 197.8L589.0 198.0L589.9 198.2L590.7 198.5L591.6 198.8L592.4 199.2L593.3 199.7L594.1 200.3L595.0 201.2L595.9 202.1L596.7 203.1L597.6 204.1L598.4 205.2L599.3 206.3L600.1 207.4L601.0 208.7L601.8 210.0L602.7 211.4L603.5 212.8L604.4 214.3L605.3 215.7L606.1 217.2L607.0 218.7L607.8 219.7L608.7 220.6L609.5 221.4L610.4 222.2L611.2 222.8L612.1 223.3L613.0 223.7L613.8 224.1L614.7 224.5L615.5 224.8L616.4 225.0L617.2 225.2L618.1 225.3L618.9 225.3L619.8 225.4L620.6 225.4L621.5 225.4L622.4 225.3L623.2 225.2L624.1 225.1L624.9 224.9L625.8 224.7L626.6 224.5L627.5 224.3L628.3 224.0L629.2 223.8L630.1 223.5L630.9 223.2L631.8 222.9L632.6 222.5L633.5 222.1L634.3 221.7L635.2 221.2L636.0 220.7L636.9 220.1L637.7 219.5L638.6 219.0L639.5 218.4L640.3 217.8L641.2 217.2L642.0 216.6L642.9 216.0L643.7 215.3L644.6 214.6L645.4 213.9L646.3 213.2L647.2 212.4L648.0 211.6L648.9 210.7L649.7 209.8L650.6 209.0L651.4 208.1L652.3 207.4L653.1 206.6L654.0 205.9L654.8 205.2L655.7 204.4L656.6 203.7L657.4 202.9L658.3 202.2L659.1 201.5L660.0 200.7L660.8 200.0L661.7 199.2L662.5 198.5L663.4 197.7L664.3 196.9L665.1 196.1L666.0 195.3L666.8 194.4L667.7 193.5L668.5 192.6L669.4 191.7L670.2 190.8L671.1 189.9L671.9 188.9L672.8 188.0L673.7 187.0L674.5 186.0L675.4 185.1L676.2 184.1L677.1 183.1L677.9 182.1L678.8 181.1L679.6 180.1L680.5 179.1L681.4 178.0L682.2 176.9L683.1 175.9L683.9 174.8L684.8 173.7L685.6 172.7L686.5 171.7L687.3 170.8L688.2 169.8L689.0 168.9L689.9 168.0L690.8 167.1L691.6 166.2L692.5 165.4L693.3 164.7L694.2 164.1L695.0 163.6L695.9 163.1L696.7 162.6L697.6 162.2L698.5 161.9L699.3 161.7L700.2 161.8L701.0 161.9L701.9 162.1L702.7 162.4L703.6 162.7L704.4 163.0L705.3 163.5L706.1 164.2L707.0 165.1L707.9 166.1L708.7 167.2L709.6 168.3L710.4 169.5L711.3 170.7L712.1 172.0L713.0 173.4L713.8 174.8L714.7 176.4L715.6 178.1L716.4 180.0L717.3 182.0L718.1 184.2L719.0 186.4L719.8 188.6L720.7 191.0L721.5 193.4L722.4 195.8L723.2 198.1L724.1 200.2L725.0 202.3L725.8 204.3L726.7 206.3L727.5 208.3L728.4 210.2L729.2 212.2L730.1 214.1L730.9 216.0L731.8 217.8L732.7 219.5L733.5 221.0L734.4 222.4L735.2 223.8L736.1 225.1L736.9 226.3L737.8 227.6L738.6 228.9L739.5 230.1L740.3 231.4L741.2 232.6L742.1 233.6L742.9 234.6L743.8 235.5L744.6 236.4L745.5 237.3L746.3 238.1L747.2 238.8L748.0 239.6L748.9 240.2L749.8 240.9L750.6 241.6L751.5 242.2L752.3 242.8L753.2 243.3L754.0 243.8L754.9 244.3L755.7 244.7L756.6 245.1L757.4 245.4L758.3 245.8L759.2 246.1L760.0 246.4L760.9 246.6L761.7 246.9L762.6 247.1L763.4 247.3L764.3 247.6L765.1 247.8L766.0 248.0L766.9 248.2L767.7 248.3L768.6 248.5L769.4 248.7L770.3 248.9L771.1 249.0L772.0 249.1L772.8 249.3L773.7 249.4L774.5 249.4"/>
<path d="M450.5 110.8L451.4 112.6L452.2 114.4L453.1 116.0L453.9 117.7L454.8 119.3L455.6 120.9L456.5 122.2L457.3 123.3L458.2 124.1L459.1 124.4L459.9 124.3L460.8 124.0L461.6 123.6L462.5 123.0L463.3 122.0L464.2 120.9L465.0 119.5L465.9 117.9L466.7 116.2L467.6 114.4L468.5 112.5L469.3 110.6L470.2 108.6L471.0 106.7L471.9 105.0L472.7 103.4L473.6 102.0L474.4 100.6L475.3 99.1L476.2 97.6L477.0 96.1L477.9 94.6L478.7 93.4L479.6 92.3L480.4 91.3L481.3 90.3L482.1 89.5L483.0 88.8L483.8 88.2L484.7 87.6L485.6 87.0L486.4 86.3L487.3 85.7L488.1 85.2L489.0 84.8L489.8 84.5L490.7 84.2L491.5 84.0L492.4 83.9L493.3 83.9L494.1 84.1L495.0 84.4L495.8 84.7L496.7 85.1L497.5 85.6L498.4 86.3L499.2 87.1L500.1 88.0L500.9 88.9L501.8 90.0L502.7 91.2L503.5 92.6L504.4 94.1L505.2 95.8L506.1 97.6L506.9 99.7L507.8 101.9L508.6 104.2L509.5 106.7L510.4 109.2L511.2 112.0L512.1 115.0L512.9 118.2L513.8 121.8L514.6 125.6L515.5 128.9L516.3 130.8L517.2 131.8L518.0 132.0L518.9 131.8L519.8 131.6L520.6 131.6L521.5 132.1L522.3 133.4L523.2 135.3L524.0 137.7L524.9 140.6L525.7 144.2L526.6 148.0L527.5 152.0L528.3 155.9L529.2 159.6L530.0 163.1L530.9 166.1L531.7 168.7L532.6 171.0L533.4 173.0L534.3 174.6L535.1 175.9L536.0 177.0L536.9 178.2L537.7 179.3L538.6 180.3L539.4 180.9L540.3 181.3L541.1 181.6L542.0 181.7L542.8 181.6L543.7 181.4L544.6 181.2L545.4 181.1L546.3 181.1L547.1 181.1L548.0 181.1L548.8 181.1L549.7 181.2L550.5 181.3L551.4 181.4L552.2 181.6L553.1 181.7L554.0 181.9L554.8 182.1L555.7 182.3L556.5 182.7L557.4 183.4L558.2 184.4L559.1 185.6L559.9 186.8L560.8 188.1L561.7 189.3L562.5 190.6L563.4 191.9L564.2 193.2L565.1 194.5L565.9 195.8L566.8 197.2L567.6 198.6L568.5 199.7L569.3 200.6L570.2 201.2L571.1 201.6L571.9 201.9L572.8 202.2L573.6 202.4L574.5 202.7L575.3 203.0L576.2 203.2L577.0 203.4L577.9 203.6L578.8 203.8L579.6 203.9L580.5 204.0L581.3 204.0L582.2 204.1L583.0 204.1L583.9 204.1L584.7 204.2L585.6 204.2L586.4 204.2L587.3 204.3L588.2 204.4L589.0 204.6L589.9 204.9L590.7 205.1L591.6 205.5L592.4 205.8L593.3 206.3L594.1 206.9L595.0 207.6L595.9 208.4L596.7 209.3L597.6 210.2L598.4 211.1L599.3 212.0L600.1 213.0L601.0 214.1L601.8 215.2L602.7 216.4L603.5 217.7L604.4 218.9L605.3 220.2L606.1 221.5L607.0 222.7L607.8 223.6L608.7 224.4L609.5 225.1L610.4 225.7L611.2 226.2L612.1 226.7L613.0 227.0L613.8 227.4L614.7 227.7L615.5 228.0L616.4 228.2L617.2 228.4L618.1 228.4L618.9 228.5L619.8 228.5L620.6 228.5L621.5 228.5L622.4 228.5L623.2 228.4L624.1 228.3L624.9 228.2L625.8 228.0L626.6 227.8L627.5 227.6L628.3 227.4L629.2 227.1L630.1 226.9L630.9 226.6L631.8 226.4L632.6 226.1L633.5 225.8L634.3 225.4L635.2 224.9L636.0 224.5L636.9 224.0L637.7 223.5L638.6 223.0L639.5 222.5L640.3 222.0L641.2 221.5L642.0 221.0L642.9 220.5L643.7 219.9L644.6 219.3L645.4 218.7L646.3 218.1L647.2 217.4L648.0 216.7L648.9 215.9L649.7 215.2L650.6 214.5L651.4 213.7L652.3 213.1L653.1 212.4L654.0 211.8L654.8 211.2L655.7 210.5L656.6 209.9L657.4 209.3L658.3 208.6L659.1 208.0L660.0 207.4L660.8 206.8L661.7 206.1L662.5 205.5L663.4 204.8L664.3 204.1L665.1 203.4L666.0 202.7L666.8 202.0L667.7 201.2L668.5 200.4L669.4 199.7L670.2 198.9L671.1 198.1L671.9 197.3L672.8 196.5L673.7 195.7L674.5 194.9L675.4 194.0L676.2 193.2L677.1 192.4L677.9 191.5L678.8 190.7L679.6 189.8L680.5 189.0L681.4 188.1L682.2 187.1L683.1 186.2L683.9 185.3L684.8 184.4L685.6 183.6L686.5 182.7L687.3 181.9L688.2 181.1L689.0 180.4L689.9 179.6L690.8 178.8L691.6 178.1L692.5 177.4L693.3 176.8L694.2 176.3L695.0 175.8L695.9 175.4L696.7 175.0L697.6 174.6L698.5 174.4L699.3 174.3L700.2 174.3L701.0 174.4L701.9 174.6L702.7 174.8L703.6 175.1L704.4 175.4L705.3 175.8L706.1 176.4L707.0 177.1L707.9 178.0L708.7 178.9L709.6 179.9L710.4 180.8L711.3 181.9L712.1 183.0L713.0 184.1L713.8 185.4L714.7 186.8L715.6 188.2L716.4 189.8L717.3 191.6L718.1 193.4L719.0 195.3L719.8 197.2L720.7 199.2L721.5 201.2L722.4 203.3L723.2 205.2L724.1 207.1L725.0 208.9L725.8 210.6L726.7 212.3L727.5 214.0L728.4 215.6L729.2 217.3L730.1 218.9L730.9 220.5L731.8 222.1L732.7 223.5L733.5 224.8L734.4 226.0L735.2 227.2L736.1 228.3L736.9 229.4L737.8 230.4L738.6 231.5L739.5 232.6L740.3 233.7L741.2 234.7L742.1 235.6L742.9 236.5L743.8 237.3L744.6 238.0L745.5 238.8L746.3 239.5L747.2 240.1L748.0 240.8L748.9 241.4L749.8 242.0L750.6 242.5L751.5 243.1L752.3 243.6L753.2 244.1L754.0 244.5L754.9 244.9L755.7 245.3L756.6 245.6L757.4 245.9L758.3 246.2L759.2 246.5L760.0 246.8L760.9 247.0L761.7 247.3L762.6 247.5L763.4 247.7L764.3 247.9L765.1 248.1L766.0 248.2L766.9 248.4L767.7 248.6L768.6 248.8L769.4 248.9L770.3 249.1L771.1 249.2L772.0 249.3L772.8 249.4L773.7 249.5L774.5 249.6"/>
<path d="M450.5 111.1L451.4 112.9L452.2 114.6L453.1 116.3L453.9 118.0L454.8 119.6L455.6 121.2L456.5 122.5L457.3 123.6L458.2 124.5L459.1 124.8L459.9 124.6L460.8 124.3L461.6 124.0L462.5 123.3L463.3 122.4L464.2 121.2L465.0 119.9L465.9 118.3L466.7 116.6L467.6 114.8L468.5 113.0L469.3 111.1L470.2 109.1L471.0 107.2L471.9 105.5L472.7 104.0L473.6 102.6L474.4 101.2L475.3 99.8L476.2 98.4L477.0 96.9L477.9 95.5L478.7 94.4L479.6 93.4L480.4 92.5L481.3 91.6L482.1 91.0L483.0 90.4L483.8 90.0L484.7 89.5L485.6 89.0L486.4 88.5L487.3 88.1L488.1 87.7L489.0 87.3L489.8 87.1L490.7 87.0L491.5 86.9L492.4 86.9L493.3 87.0L494.1 87.3L495.0 87.6L495.8 88.0L496.7 88.5L497.5 89.1L498.4 89.9L499.2 90.7L500.1 91.7L500.9 92.7L501.8 93.8L502.7 95.1L503.5 96.6L504.4 98.2L505.2 99.9L506.1 101.8L506.9 103.9L507.8 106.1L508.6 108.5L509.5 110.9L510.4 113.5L511.2 116.2L512.1 119.2L512.9 122.4L513.8 125.9L514.6 129.7L515.5 132.9L516.3 134.7L517.2 135.6L518.0 135.7L518.9 135.5L519.8 135.1L520.6 135.1L521.5 135.6L522.3 136.8L523.2 138.7L524.0 141.0L524.9 143.7L525.7 147.1L526.6 150.7L527.5 154.4L528.3 158.1L529.2 161.7L530.0 165.0L530.9 167.9L531.7 170.4L532.6 172.6L533.4 174.5L534.3 176.0L535.1 177.2L536.0 178.3L536.9 179.4L537.7 180.5L538.6 181.4L539.4 182.0L540.3 182.4L541.1 182.7L542.0 182.9L542.8 182.9L543.7 182.8L544.6 182.7L545.4 182.7L546.3 182.7L547.1 182.8L548.0 182.9L548.8 183.0L549.7 183.2L550.5 183.3L551.4 183.5L552.2 183.7L553.1 183.9L554.0 184.1L554.8 184.4L555.7 184.7L556.5 185.2L557.4 185.9L558.2 187.0L559.1 188.3L559.9 189.7L560.8 191.0L561.7 192.3L562.5 193.7L563.4 195.1L564.2 196.5L565.1 197.8L565.9 199.2L566.8 200.7L567.6 202.1L568.5 203.3L569.3 204.3L570.2 205.0L571.1 205.6L571.9 206.1L572.8 206.5L573.6 206.9L574.5 207.3L575.3 207.7L576.2 208.1L577.0 208.4L577.9 208.7L578.8 209.0L579.6 209.2L580.5 209.4L581.3 209.6L582.2 209.8L583.0 209.9L583.9 210.0L584.7 210.1L585.6 210.2L586.4 210.3L587.3 210.5L588.2 210.7L589.0 210.9L589.9 211.1L590.7 211.4L591.6 211.7L592.4 212.1L593.3 212.5L594.1 213.0L595.0 213.7L595.9 214.4L596.7 215.1L597.6 215.9L598.4 216.7L599.3 217.5L600.1 218.3L601.0 219.2L601.8 220.2L602.7 221.2L603.5 222.3L604.4 223.3L605.3 224.4L606.1 225.5L607.0 226.5L607.8 227.3L608.7 228.0L609.5 228.5L610.4 229.1L611.2 229.5L612.1 229.9L613.0 230.2L613.8 230.5L614.7 230.8L615.5 231.0L616.4 231.2L617.2 231.4L618.1 231.4L618.9 231.5L619.8 231.5L620.6 231.5L621.5 231.5L622.4 231.5L623.2 231.4L624.1 231.4L624.9 231.2L625.8 231.1L626.6 230.9L627.5 230.8L628.3 230.6L629.2 230.4L630.1 230.2L630.9 230.0L631.8 229.8L632.6 229.5L633.5 229.2L634.3 228.9L635.2 228.6L636.0 228.2L636.9 227.8L637.7 227.3L638.6 226.9L639.5 226.5L640.3 226.1L641.2 225.7L642.0 225.2L642.9 224.8L643.7 224.3L644.6 223.8L645.4 223.3L646.3 222.8L647.2 222.2L648.0 221.6L648.9 221.0L649.7 220.3L650.6 219.7L651.4 219.1L652.3 218.6L653.1 218.0L654.0 217.5L654.8 217.0L655.7 216.4L656.6 215.9L657.4 215.4L658.3 214.8L659.1 214.3L660.0 213.8L660.8 213.3L661.7 212.7L662.5 212.2L663.4 211.6L664.3 211.0L665.1 210.4L666.0 209.8L666.8 209.2L667.7 208.6L668.5 208.0L669.4 207.3L670.2 206.7L671.1 206.0L671.9 205.3L672.8 204.7L673.7 204.0L674.5 203.3L675.4 202.6L676.2 202.0L677.1 201.3L677.9 200.6L678.8 199.9L679.6 199.2L680.5 198.5L681.4 197.7L682.2 197.0L683.1 196.2L683.9 195.5L684.8 194.7L685.6 194.0L686.5 193.3L687.3 192.6L688.2 192.0L689.0 191.4L689.9 190.7L690.8 190.1L691.6 189.5L692.5 188.9L693.3 188.4L694.2 188.0L695.0 187.6L695.9 187.2L696.7 186.9L697.6 186.6L698.5 186.4L699.3 186.3L700.2 186.3L701.0 186.4L701.9 186.6L702.7 186.7L703.6 187.0L704.4 187.2L705.3 187.6L706.1 188.1L707.0 188.7L707.9 189.4L708.7 190.2L709.6 191.0L710.4 191.8L711.3 192.6L712.1 193.5L713.0 194.5L713.8 195.6L714.7 196.7L715.6 197.9L716.4 199.2L717.3 200.7L718.1 202.2L719.0 203.8L719.8 205.4L720.7 207.1L721.5 208.8L722.4 210.5L723.2 212.1L724.1 213.7L725.0 215.1L725.8 216.6L726.7 218.0L727.5 219.4L728.4 220.8L729.2 222.2L730.1 223.5L730.9 224.9L731.8 226.2L732.7 227.4L733.5 228.5L734.4 229.5L735.2 230.4L736.1 231.4L736.9 232.3L737.8 233.2L738.6 234.1L739.5 235.0L740.3 235.9L741.2 236.8L742.1 237.6L742.9 238.3L743.8 239.0L744.6 239.6L745.5 240.2L746.3 240.8L747.2 241.4L748.0 241.9L748.9 242.5L749.8 243.0L750.6 243.5L751.5 243.9L752.3 244.4L753.2 244.8L754.0 245.2L754.9 245.5L755.7 245.9L756.6 246.1L757.4 246.4L758.3 246.7L759.2 246.9L760.0 247.2L760.9 247.4L761.7 247.6L762.6 247.8L763.4 248.0L764.3 248.2L765.1 248.3L766.0 248.5L766.9 248.7L767.7 248.8L768.6 249.0L769.4 249.1L770.3 249.3L771.1 249.4L772.0 249.5L772.8 249.6L773.7 249.7L774.5 249.8"/>
<path d="M450.5 111.4L451.4 113.2L452.2 115.0L453.1 116.7L453.9 118.3L454.8 120.0L455.6 121.6L456.5 122.9L457.3 124.0L458.2 124.9L459.1 125.2L459.9 125.0L460.8 124.8L461.6 124.4L462.5 123.7L463.3 122.8L464.2 121.7L465.0 120.3L465.9 118.8L466.7 117.1L467.6 115.3L468.5 113.6L469.3 111.7L470.2 109.7L471.0 107.9L471.9 106.2L472.7 104.7L473.6 103.3L474.4 101.9L475.3 100.6L476.2 99.3L477.0 97.9L477.9 96.7L478.7 95.6L479.6 94.8L480.4 94.0L481.3 93.3L482.1 92.8L483.0 92.4L483.8 92.2L484.7 91.9L485.6 91.6L486.4 91.2L487.3 90.9L488.1 90.7L489.0 90.5L489.8 90.4L490.7 90.4L491.5 90.4L492.4 90.5L493.3 90.8L494.1 91.2L495.0 91.6L495.8 92.1L496.7 92.7L497.5 93.4L498.4 94.2L499.2 95.2L500.1 96.2L500.9 97.3L501.8 98.5L502.7 99.9L503.5 101.5L504.4 103.1L505.2 104.9L506.1 106.9L506.9 109.0L507.8 111.3L508.6 113.7L509.5 116.1L510.4 118.7L511.2 121.4L512.1 124.3L512.9 127.5L513.8 131.0L514.6 134.6L515.5 137.7L516.3 139.5L517.2 140.2L518.0 140.3L518.9 140.0L519.8 139.6L520.6 139.5L521.5 139.9L522.3 141.1L523.2 142.8L524.0 144.9L524.9 147.4L525.7 150.5L526.6 153.7L527.5 157.1L528.3 160.5L529.2 163.8L530.0 166.9L530.9 169.6L531.7 171.9L532.6 174.0L533.4 175.8L534.3 177.2L535.1 178.4L536.0 179.4L536.9 180.4L537.7 181.4L538.6 182.3L539.4 182.9L540.3 183.3L541.1 183.7L542.0 183.9L542.8 183.9L543.7 183.9L544.6 183.9L545.4 184.0L546.3 184.1L547.1 184.2L548.0 184.4L548.8 184.6L549.7 184.8L550.5 185.0L551.4 185.2L552.2 185.5L553.1 185.7L554.0 186.0L554.8 186.3L555.7 186.7L556.5 187.2L557.4 188.0L558.2 189.2L559.1 190.5L559.9 192.0L560.8 193.4L561.7 194.8L562.5 196.2L563.4 197.7L564.2 199.1L565.1 200.5L565.9 202.0L566.8 203.5L567.6 205.0L568.5 206.3L569.3 207.4L570.2 208.2L571.1 209.0L571.9 209.6L572.8 210.1L573.6 210.7L574.5 211.2L575.3 211.7L576.2 212.2L577.0 212.7L577.9 213.2L578.8 213.6L579.6 213.9L580.5 214.2L581.3 214.5L582.2 214.8L583.0 215.0L583.9 215.2L584.7 215.4L585.6 215.6L586.4 215.8L587.3 216.0L588.2 216.2L589.0 216.5L589.9 216.7L590.7 217.0L591.6 217.4L592.4 217.7L593.3 218.0L594.1 218.5L595.0 219.1L595.9 219.7L596.7 220.4L597.6 221.0L598.4 221.7L599.3 222.4L600.1 223.1L601.0 223.9L601.8 224.7L602.7 225.5L603.5 226.4L604.4 227.3L605.3 228.2L606.1 229.1L607.0 230.0L607.8 230.6L608.7 231.2L609.5 231.7L610.4 232.1L611.2 232.5L612.1 232.8L613.0 233.1L613.8 233.4L614.7 233.6L615.5 233.8L616.4 234.0L617.2 234.1L618.1 234.2L618.9 234.2L619.8 234.2L620.6 234.3L621.5 234.3L622.4 234.3L623.2 234.2L624.1 234.1L624.9 234.1L625.8 233.9L626.6 233.8L627.5 233.7L628.3 233.5L629.2 233.4L630.1 233.2L630.9 233.0L631.8 232.9L632.6 232.7L633.5 232.4L634.3 232.2L635.2 231.9L636.0 231.5L636.9 231.2L637.7 230.8L638.6 230.5L639.5 230.2L640.3 229.8L641.2 229.5L642.0 229.1L642.9 228.7L643.7 228.3L644.6 227.9L645.4 227.5L646.3 227.1L647.2 226.6L648.0 226.1L648.9 225.6L649.7 225.1L650.6 224.6L651.4 224.1L652.3 223.6L653.1 223.2L654.0 222.8L654.8 222.3L655.7 221.9L656.6 221.4L657.4 221.0L658.3 220.5L659.1 220.1L660.0 219.7L660.8 219.2L661.7 218.8L662.5 218.3L663.4 217.9L664.3 217.4L665.1 216.9L666.0 216.4L666.8 215.9L667.7 215.4L668.5 214.9L669.4 214.4L670.2 213.8L671.1 213.3L671.9 212.8L672.8 212.2L673.7 211.7L674.5 211.1L675.4 210.6L676.2 210.0L677.1 209.5L677.9 208.9L678.8 208.4L679.6 207.8L680.5 207.2L681.4 206.6L682.2 206.0L683.1 205.4L683.9 204.8L684.8 204.2L685.6 203.6L686.5 203.1L687.3 202.5L688.2 202.0L689.0 201.5L689.9 201.0L690.8 200.4L691.6 199.9L692.5 199.5L693.3 199.1L694.2 198.7L695.0 198.4L695.9 198.1L696.7 197.9L697.6 197.6L698.5 197.5L699.3 197.4L700.2 197.4L701.0 197.5L701.9 197.6L702.7 197.7L703.6 197.9L704.4 198.1L705.3 198.4L706.1 198.8L707.0 199.3L707.9 199.9L708.7 200.5L709.6 201.2L710.4 201.8L711.3 202.5L712.1 203.3L713.0 204.1L713.8 204.9L714.7 205.8L715.6 206.8L716.4 207.9L717.3 209.1L718.1 210.4L719.0 211.7L719.8 213.0L720.7 214.3L721.5 215.8L722.4 217.2L723.2 218.5L724.1 219.7L725.0 220.9L725.8 222.1L726.7 223.3L727.5 224.4L728.4 225.5L729.2 226.7L730.1 227.8L730.9 228.9L731.8 229.9L732.7 230.9L733.5 231.8L734.4 232.7L735.2 233.5L736.1 234.2L736.9 235.0L737.8 235.7L738.6 236.5L739.5 237.2L740.3 238.0L741.2 238.7L742.1 239.3L742.9 239.9L743.8 240.5L744.6 241.0L745.5 241.6L746.3 242.1L747.2 242.6L748.0 243.0L748.9 243.5L749.8 243.9L750.6 244.3L751.5 244.7L752.3 245.1L753.2 245.5L754.0 245.8L754.9 246.1L755.7 246.4L756.6 246.6L757.4 246.9L758.3 247.1L759.2 247.3L760.0 247.5L760.9 247.7L761.7 247.9L762.6 248.1L763.4 248.3L764.3 248.4L765.1 248.6L766.0 248.8L766.9 248.9L767.7 249.1L768.6 249.2L769.4 249.3L770.3 249.5L771.1 249.6L772.0 249.7L772.8 249.8L773.7 249.9L774.5 250.0"/>
<path d="M450.5 111.7L451.4 113.5L452.2 115.3L453.1 117.0L453.9 118.7L454.8 120.4L455.6 122.0L456.5 123.3L457.3 124.4L458.2 125.3L459.1 125.6L459.9 125.5L460.8 125.2L461.6 124.8L462.5 124.2L463.3 123.3L464.2 122.1L465.0 120.8L465.9 119.3L466.7 117.6L467.6 115.9L468.5 114.1L469.3 112.3L470.2 110.4L471.0 108.6L471.9 106.9L472.7 105.4L473.6 104.0L474.4 102.7L475.3 101.4L476.2 100.2L477.0 98.9L477.9 97.8L478.7 96.9L479.6 96.2L480.4 95.6L481.3 95.0L482.1 94.7L483.0 94.5L483.8 94.4L484.7 94.3L485.6 94.2L486.4 94.0L487.3 93.9L488.1 93.8L489.0 93.7L489.8 93.8L490.7 93.9L491.5 94.1L492.4 94.3L493.3 94.7L494.1 95.2L495.0 95.7L495.8 96.3L496.7 97.0L497.5 97.8L498.4 98.8L499.2 99.8L500.1 100.9L500.9 102.1L501.8 103.4L502.7 104.9L503.5 106.5L504.4 108.3L505.2 110.2L506.1 112.2L506.9 114.4L507.8 116.7L508.6 119.1L509.5 121.6L510.4 124.1L511.2 126.8L512.1 129.7L512.9 132.8L513.8 136.2L514.6 139.7L515.5 142.7L516.3 144.4L517.2 145.0L518.0 145.1L518.9 144.7L519.8 144.2L520.6 144.1L521.5 144.5L522.3 145.5L523.2 147.0L524.0 148.9L524.9 151.1L525.7 153.9L526.6 156.9L527.5 159.9L528.3 163.0L529.2 166.0L530.0 168.8L530.9 171.3L531.7 173.5L532.6 175.4L533.4 177.1L534.3 178.5L535.1 179.5L536.0 180.5L536.9 181.4L537.7 182.4L538.6 183.2L539.4 183.8L540.3 184.3L541.1 184.6L542.0 184.9L542.8 185.0L543.7 185.1L544.6 185.2L545.4 185.3L546.3 185.5L547.1 185.7L548.0 185.9L548.8 186.2L549.7 186.4L550.5 186.7L551.4 187.0L552.2 187.3L553.1 187.6L554.0 187.9L554.8 188.3L555.7 188.7L556.5 189.3L557.4 190.2L558.2 191.4L559.1 192.9L559.9 194.4L560.8 195.9L561.7 197.3L562.5 198.9L563.4 200.4L564.2 201.9L565.1 203.4L565.9 204.9L566.8 206.5L567.6 208.0L568.5 209.4L569.3 210.5L570.2 211.5L571.1 212.3L571.9 213.0L572.8 213.7L573.6 214.3L574.5 215.0L575.3 215.6L576.2 216.2L577.0 216.7L577.9 217.3L578.8 217.8L579.6 218.2L580.5 218.6L581.3 218.9L582.2 219.3L583.0 219.6L583.9 219.8L584.7 220.1L585.6 220.3L586.4 220.6L587.3 220.8L588.2 221.1L589.0 221.3L589.9 221.6L590.7 221.9L591.6 222.2L592.4 222.5L593.3 222.9L594.1 223.3L595.0 223.8L595.9 224.3L596.7 224.9L597.6 225.4L598.4 226.0L599.3 226.6L600.1 227.2L601.0 227.8L601.8 228.5L602.7 229.2L603.5 229.9L604.4 230.7L605.3 231.4L606.1 232.2L607.0 232.9L607.8 233.4L608.7 233.9L609.5 234.3L610.4 234.7L611.2 235.0L612.1 235.3L613.0 235.5L613.8 235.7L614.7 235.9L615.5 236.1L616.4 236.3L617.2 236.4L618.1 236.4L618.9 236.5L619.8 236.5L620.6 236.5L621.5 236.5L622.4 236.5L623.2 236.5L624.1 236.4L624.9 236.4L625.8 236.3L626.6 236.2L627.5 236.1L628.3 235.9L629.2 235.8L630.1 235.7L630.9 235.5L631.8 235.4L632.6 235.2L633.5 235.0L634.3 234.8L635.2 234.6L636.0 234.3L636.9 234.0L637.7 233.7L638.6 233.4L639.5 233.1L640.3 232.8L641.2 232.5L642.0 232.2L642.9 231.9L643.7 231.6L644.6 231.3L645.4 230.9L646.3 230.6L647.2 230.2L648.0 229.8L648.9 229.3L649.7 228.9L650.6 228.5L651.4 228.1L652.3 227.7L653.1 227.4L654.0 227.0L654.8 226.6L655.7 226.3L656.6 225.9L657.4 225.5L658.3 225.2L659.1 224.8L660.0 224.4L660.8 224.1L661.7 223.7L662.5 223.3L663.4 222.9L664.3 222.5L665.1 222.1L666.0 221.7L666.8 221.3L667.7 220.9L668.5 220.5L669.4 220.0L670.2 219.6L671.1 219.2L671.9 218.7L672.8 218.3L673.7 217.9L674.5 217.4L675.4 217.0L676.2 216.5L677.1 216.1L677.9 215.7L678.8 215.2L679.6 214.7L680.5 214.3L681.4 213.8L682.2 213.3L683.1 212.8L683.9 212.3L684.8 211.8L685.6 211.4L686.5 210.9L687.3 210.5L688.2 210.1L689.0 209.6L689.9 209.2L690.8 208.8L691.6 208.4L692.5 208.0L693.3 207.7L694.2 207.4L695.0 207.2L695.9 206.9L696.7 206.7L697.6 206.5L698.5 206.4L699.3 206.3L700.2 206.3L701.0 206.4L701.9 206.5L702.7 206.6L703.6 206.8L704.4 206.9L705.3 207.2L706.1 207.5L707.0 207.9L707.9 208.4L708.7 208.9L709.6 209.4L710.4 209.9L711.3 210.5L712.1 211.1L713.0 211.8L713.8 212.5L714.7 213.2L715.6 214.0L716.4 214.9L717.3 215.9L718.1 216.9L719.0 218.0L719.8 219.1L720.7 220.2L721.5 221.4L722.4 222.5L723.2 223.6L724.1 224.6L725.0 225.6L725.8 226.6L726.7 227.5L727.5 228.5L728.4 229.4L729.2 230.3L730.1 231.2L730.9 232.1L731.8 233.0L732.7 233.8L733.5 234.5L734.4 235.2L735.2 235.9L736.1 236.5L736.9 237.1L737.8 237.7L738.6 238.4L739.5 239.0L740.3 239.6L741.2 240.2L742.1 240.8L742.9 241.3L743.8 241.7L744.6 242.2L745.5 242.7L746.3 243.1L747.2 243.5L748.0 243.9L748.9 244.3L749.8 244.6L750.6 245.0L751.5 245.4L752.3 245.7L753.2 246.0L754.0 246.3L754.9 246.6L755.7 246.8L756.6 247.0L757.4 247.2L758.3 247.5L759.2 247.7L760.0 247.8L760.9 248.0L761.7 248.2L762.6 248.4L763.4 248.5L764.3 248.7L765.1 248.8L766.0 249.0L766.9 249.1L767.7 249.2L768.6 249.4L769.4 249.5L770.3 249.6L771.1 249.7L772.0 249.8L772.8 249.9L773.7 250.0L774.5 250.1"/>
<path d="M450.5 112.0L451.4 113.8L452.2 115.6L453.1 117.4L453.9 119.0L454.8 120.7L455.6 122.4L456.5 123.7L457.3 124.8L458.2 125.7L459.1 126.0L459.9 125.9L460.8 125.6L461.6 125.2L462.5 124.6L463.3 123.7L464.2 122.5L465.0 121.3L465.9 119.8L466.7 118.1L467.6 116.4L468.5 114.7L469.3 112.9L470.2 111.0L471.0 109.2L471.9 107.5L472.7 106.0L473.6 104.7L474.4 103.4L475.3 102.2L476.2 101.1L477.0 99.9L477.9 98.9L478.7 98.1L479.6 97.5L480.4 97.1L481.3 96.6L482.1 96.4L483.0 96.4L483.8 96.5L484.7 96.6L485.6 96.7L486.4 96.7L487.3 96.7L488.1 96.7L489.0 96.8L489.8 97.0L490.7 97.2L491.5 97.5L492.4 97.9L493.3 98.4L494.1 99.0L495.0 99.7L495.8 100.4L496.7 101.1L497.5 102.0L498.4 103.1L499.2 104.2L500.1 105.4L500.9 106.6L501.8 108.0L502.7 109.6L503.5 111.3L504.4 113.2L505.2 115.1L506.1 117.2L506.9 119.4L507.8 121.7L508.6 124.2L509.5 126.7L510.4 129.3L511.2 131.9L512.1 134.7L512.9 137.8L513.8 141.1L514.6 144.5L515.5 147.4L516.3 149.0L517.2 149.6L518.0 149.6L518.9 149.2L519.8 148.7L520.6 148.5L521.5 148.8L522.3 149.7L523.2 151.1L524.0 152.7L524.9 154.7L525.7 157.1L526.6 159.8L527.5 162.5L528.3 165.2L529.2 168.0L530.0 170.6L530.9 172.8L531.7 174.8L532.6 176.6L533.4 178.2L534.3 179.5L535.1 180.5L536.0 181.4L536.9 182.3L537.7 183.2L538.6 184.0L539.4 184.6L540.3 185.1L541.1 185.5L542.0 185.8L542.8 186.0L543.7 186.1L544.6 186.3L545.4 186.4L546.3 186.7L547.1 186.9L548.0 187.2L548.8 187.5L549.7 187.8L550.5 188.1L551.4 188.5L552.2 188.8L553.1 189.2L554.0 189.5L554.8 189.9L555.7 190.4L556.5 191.1L557.4 192.0L558.2 193.3L559.1 194.8L559.9 196.4L560.8 197.9L561.7 199.5L562.5 201.0L563.4 202.6L564.2 204.2L565.1 205.7L565.9 207.3L566.8 208.9L567.6 210.5L568.5 211.9L569.3 213.2L570.2 214.2L571.1 215.1L571.9 215.9L572.8 216.6L573.6 217.3L574.5 218.0L575.3 218.7L576.2 219.4L577.0 220.0L577.9 220.6L578.8 221.2L579.6 221.7L580.5 222.2L581.3 222.6L582.2 222.9L583.0 223.3L583.9 223.6L584.7 223.9L585.6 224.2L586.4 224.4L587.3 224.7L588.2 225.0L589.0 225.3L589.9 225.6L590.7 225.9L591.6 226.2L592.4 226.4L593.3 226.7L594.1 227.1L595.0 227.5L595.9 228.0L596.7 228.5L597.6 229.0L598.4 229.4L599.3 229.9L600.1 230.4L601.0 231.0L601.8 231.6L602.7 232.2L603.5 232.8L604.4 233.4L605.3 234.0L606.1 234.6L607.0 235.2L607.8 235.7L608.7 236.1L609.5 236.4L610.4 236.7L611.2 237.0L612.1 237.2L613.0 237.5L613.8 237.6L614.7 237.8L615.5 238.0L616.4 238.1L617.2 238.2L618.1 238.3L618.9 238.3L619.8 238.3L620.6 238.3L621.5 238.4L622.4 238.3L623.2 238.3L624.1 238.3L624.9 238.2L625.8 238.1L626.6 238.1L627.5 238.0L628.3 237.9L629.2 237.8L630.1 237.6L630.9 237.5L631.8 237.4L632.6 237.3L633.5 237.1L634.3 236.9L635.2 236.7L636.0 236.5L636.9 236.2L637.7 236.0L638.6 235.7L639.5 235.5L640.3 235.2L641.2 235.0L642.0 234.7L642.9 234.5L643.7 234.2L644.6 233.9L645.4 233.6L646.3 233.3L647.2 233.0L648.0 232.7L648.9 232.3L649.7 232.0L650.6 231.6L651.4 231.3L652.3 231.0L653.1 230.7L654.0 230.4L654.8 230.1L655.7 229.8L656.6 229.4L657.4 229.1L658.3 228.8L659.1 228.5L660.0 228.2L660.8 227.9L661.7 227.6L662.5 227.3L663.4 227.0L664.3 226.6L665.1 226.3L666.0 226.0L666.8 225.6L667.7 225.3L668.5 224.9L669.4 224.6L670.2 224.2L671.1 223.9L671.9 223.5L672.8 223.2L673.7 222.8L674.5 222.5L675.4 222.1L676.2 221.7L677.1 221.4L677.9 221.0L678.8 220.7L679.6 220.3L680.5 219.9L681.4 219.5L682.2 219.1L683.1 218.7L683.9 218.3L684.8 218.0L685.6 217.6L686.5 217.2L687.3 216.9L688.2 216.5L689.0 216.2L689.9 215.8L690.8 215.5L691.6 215.2L692.5 214.9L693.3 214.6L694.2 214.4L695.0 214.2L695.9 214.0L696.7 213.8L697.6 213.6L698.5 213.5L699.3 213.5L700.2 213.5L701.0 213.5L701.9 213.6L702.7 213.7L703.6 213.8L704.4 214.0L705.3 214.2L706.1 214.4L707.0 214.8L707.9 215.2L708.7 215.6L709.6 216.0L710.4 216.4L711.3 216.9L712.1 217.4L713.0 217.9L713.8 218.5L714.7 219.1L715.6 219.8L716.4 220.5L717.3 221.4L718.1 222.2L719.0 223.1L719.8 224.0L720.7 224.9L721.5 225.9L722.4 226.8L723.2 227.7L724.1 228.5L725.0 229.4L725.8 230.2L726.7 230.9L727.5 231.7L728.4 232.5L729.2 233.2L730.1 234.0L730.9 234.7L731.8 235.4L732.7 236.1L733.5 236.7L734.4 237.3L735.2 237.8L736.1 238.3L736.9 238.9L737.8 239.4L738.6 239.9L739.5 240.4L740.3 240.9L741.2 241.4L742.1 241.9L742.9 242.3L743.8 242.7L744.6 243.1L745.5 243.5L746.3 243.9L747.2 244.2L748.0 244.6L748.9 244.9L749.8 245.2L750.6 245.6L751.5 245.9L752.3 246.2L753.2 246.4L754.0 246.7L754.9 246.9L755.7 247.1L756.6 247.3L757.4 247.5L758.3 247.7L759.2 247.9L760.0 248.1L760.9 248.2L761.7 248.4L762.6 248.6L763.4 248.7L764.3 248.8L765.1 249.0L766.0 249.1L766.9 249.2L767.7 249.4L768.6 249.5L769.4 249.6L770.3 249.7L771.1 249.8L772.0 249.9L772.8 250.0L773.7 250.1L774.5 250.2"/>
<path d="M450.5 112.4L451.4 114.3L452.2 116.1L453.1 117.9L453.9 119.6L454.8 121.3L455.6 123.0L456.5 124.3L457.3 125.5L458.2 126.4L459.1 126.7L459.9 126.5L460.8 126.3L461.6 125.9L462.5 125.3L463.3 124.4L464.2 123.3L465.0 122.0L465.9 120.6L466.7 119.0L467.6 117.3L468.5 115.6L469.3 113.8L470.2 112.0L471.0 110.3L471.9 108.6L472.7 107.1L473.6 105.8L474.4 104.6L475.3 103.5L476.2 102.5L477.0 101.5L477.9 100.7L478.7 100.1L479.6 99.7L480.4 99.5L481.3 99.3L482.1 99.4L483.0 99.7L483.8 100.0L484.7 100.4L485.6 100.8L486.4 101.0L487.3 101.3L488.1 101.6L489.0 101.9L489.8 102.3L490.7 102.7L491.5 103.2L492.4 103.8L493.3 104.5L494.1 105.3L495.0 106.1L495.8 106.9L496.7 107.9L497.5 108.9L498.4 110.1L499.2 111.3L500.1 112.7L500.9 114.1L501.8 115.6L502.7 117.3L503.5 119.2L504.4 121.2L505.2 123.2L506.1 125.4L506.9 127.7L507.8 130.1L508.6 132.6L509.5 135.1L510.4 137.7L511.2 140.3L512.1 143.0L512.9 145.9L513.8 149.0L514.6 152.3L515.5 154.9L516.3 156.4L517.2 157.0L518.0 157.0L518.9 156.6L519.8 156.1L520.6 155.8L521.5 156.0L522.3 156.7L523.2 157.7L524.0 158.8L524.9 160.2L525.7 162.1L526.6 164.0L527.5 166.1L528.3 168.3L529.2 170.4L530.0 172.6L530.9 174.4L531.7 176.1L532.6 177.6L533.4 179.0L534.3 180.2L535.1 181.2L536.0 182.1L536.9 182.9L537.7 183.8L538.6 184.6L539.4 185.2L540.3 185.6L541.1 186.0L542.0 186.4L542.8 186.6L543.7 186.8L544.6 187.0L545.4 187.2L546.3 187.5L547.1 187.8L548.0 188.1L548.8 188.4L549.7 188.8L550.5 189.1L551.4 189.5L552.2 189.9L553.1 190.3L554.0 190.7L554.8 191.1L555.7 191.6L556.5 192.3L557.4 193.2L558.2 194.6L559.1 196.2L559.9 197.8L560.8 199.4L561.7 201.0L562.5 202.6L563.4 204.2L564.2 205.8L565.1 207.4L565.9 209.0L566.8 210.6L567.6 212.2L568.5 213.7L569.3 215.0L570.2 216.1L571.1 217.1L571.9 217.9L572.8 218.8L573.6 219.5L574.5 220.3L575.3 221.0L576.2 221.7L577.0 222.4L577.9 223.1L578.8 223.7L579.6 224.3L580.5 224.8L581.3 225.2L582.2 225.7L583.0 226.1L583.9 226.4L584.7 226.8L585.6 227.1L586.4 227.4L587.3 227.7L588.2 228.0L589.0 228.3L589.9 228.6L590.7 228.9L591.6 229.1L592.4 229.4L593.3 229.7L594.1 230.0L595.0 230.4L595.9 230.8L596.7 231.2L597.6 231.7L598.4 232.1L599.3 232.5L600.1 233.0L601.0 233.4L601.8 233.9L602.7 234.4L603.5 234.9L604.4 235.5L605.3 236.0L606.1 236.5L607.0 237.0L607.8 237.4L608.7 237.7L609.5 238.1L610.4 238.3L611.2 238.6L612.1 238.8L613.0 238.9L613.8 239.1L614.7 239.3L615.5 239.4L616.4 239.5L617.2 239.6L618.1 239.7L618.9 239.7L619.8 239.7L620.6 239.8L621.5 239.8L622.4 239.8L623.2 239.7L624.1 239.7L624.9 239.7L625.8 239.6L626.6 239.5L627.5 239.5L628.3 239.4L629.2 239.3L630.1 239.2L630.9 239.1L631.8 239.0L632.6 238.9L633.5 238.7L634.3 238.6L635.2 238.4L636.0 238.2L636.9 238.0L637.7 237.8L638.6 237.5L639.5 237.3L640.3 237.1L641.2 236.9L642.0 236.7L642.9 236.5L643.7 236.2L644.6 236.0L645.4 235.8L646.3 235.5L647.2 235.3L648.0 235.0L648.9 234.7L649.7 234.4L650.6 234.1L651.4 233.8L652.3 233.5L653.1 233.3L654.0 233.0L654.8 232.8L655.7 232.5L656.6 232.2L657.4 232.0L658.3 231.7L659.1 231.5L660.0 231.2L660.8 231.0L661.7 230.7L662.5 230.4L663.4 230.1L664.3 229.9L665.1 229.6L666.0 229.3L666.8 229.0L667.7 228.7L668.5 228.4L669.4 228.1L670.2 227.8L671.1 227.6L671.9 227.3L672.8 227.0L673.7 226.7L674.5 226.4L675.4 226.1L676.2 225.8L677.1 225.5L677.9 225.2L678.8 224.9L679.6 224.6L680.5 224.3L681.4 224.0L682.2 223.7L683.1 223.4L683.9 223.1L684.8 222.7L685.6 222.4L686.5 222.1L687.3 221.8L688.2 221.6L689.0 221.3L689.9 221.0L690.8 220.7L691.6 220.5L692.5 220.2L693.3 220.0L694.2 219.8L695.0 219.6L695.9 219.5L696.7 219.3L697.6 219.2L698.5 219.1L699.3 219.1L700.2 219.1L701.0 219.1L701.9 219.2L702.7 219.3L703.6 219.4L704.4 219.5L705.3 219.7L706.1 219.9L707.0 220.2L707.9 220.5L708.7 220.8L709.6 221.2L710.4 221.5L711.3 221.9L712.1 222.3L713.0 222.7L713.8 223.2L714.7 223.7L715.6 224.3L716.4 224.9L717.3 225.6L718.1 226.3L719.0 227.0L719.8 227.8L720.7 228.6L721.5 229.4L722.4 230.2L723.2 230.9L724.1 231.6L725.0 232.3L725.8 233.0L726.7 233.6L727.5 234.2L728.4 234.9L729.2 235.5L730.1 236.1L730.9 236.7L731.8 237.3L732.7 237.9L733.5 238.4L734.4 238.9L735.2 239.3L736.1 239.8L736.9 240.2L737.8 240.6L738.6 241.1L739.5 241.5L740.3 242.0L741.2 242.4L742.1 242.8L742.9 243.2L743.8 243.5L744.6 243.9L745.5 244.2L746.3 244.5L747.2 244.8L748.0 245.1L748.9 245.4L749.8 245.7L750.6 246.0L751.5 246.3L752.3 246.5L753.2 246.8L754.0 247.0L754.9 247.2L755.7 247.4L756.6 247.6L757.4 247.8L758.3 247.9L759.2 248.1L760.0 248.3L760.9 248.4L761.7 248.6L762.6 248.7L763.4 248.8L764.3 249.0L765.1 249.1L766.0 249.2L766.9 249.4L767.7 249.5L768.6 249.6L769.4 249.7L770.3 249.8L771.1 249.9L772.0 250.0L772.8 250.1L773.7 250.2L774.5 250.3"/>
<path d="M450.5 113.2L451.4 115.1L452.2 117.0L453.1 118.8L453.9 120.5L454.8 122.3L455.6 124.0L456.5 125.3L457.3 126.5L458.2 127.5L459.1 127.8L459.9 127.6L460.8 127.4L461.6 127.0L462.5 126.4L463.3 125.5L464.2 124.4L465.0 123.2L465.9 121.8L466.7 120.3L467.6 118.7L468.5 117.0L469.3 115.4L470.2 113.7L471.0 111.9L471.9 110.3L472.7 108.9L473.6 107.7L474.4 106.6L475.3 105.6L476.2 104.8L477.0 104.1L477.9 103.6L478.7 103.3L479.6 103.3L480.4 103.4L481.3 103.6L482.1 104.1L483.0 104.8L483.8 105.7L484.7 106.5L485.6 107.3L486.4 108.0L487.3 108.7L488.1 109.3L489.0 110.1L489.8 110.8L490.7 111.6L491.5 112.4L492.4 113.3L493.3 114.3L494.1 115.3L495.0 116.4L495.8 117.6L496.7 118.8L497.5 120.1L498.4 121.4L499.2 122.9L500.1 124.4L500.9 126.1L501.8 127.8L502.7 129.8L503.5 131.9L504.4 134.1L505.2 136.3L506.1 138.7L506.9 141.0L507.8 143.5L508.6 146.1L509.5 148.7L510.4 151.3L511.2 153.8L512.1 156.3L512.9 159.0L513.8 161.7L514.6 164.5L515.5 166.8L516.3 168.2L517.2 168.8L518.0 169.0L518.9 168.7L519.8 168.2L520.6 167.8L521.5 167.8L522.3 168.0L523.2 168.3L524.0 168.6L524.9 169.1L525.7 169.8L526.6 170.7L527.5 171.6L528.3 172.7L529.2 174.0L530.0 175.3L530.9 176.6L531.7 177.7L532.6 178.8L533.4 179.9L534.3 180.9L535.1 181.8L536.0 182.6L536.9 183.5L537.7 184.3L538.6 185.1L539.4 185.6L540.3 186.1L541.1 186.5L542.0 186.9L542.8 187.2L543.7 187.4L544.6 187.7L545.4 187.9L546.3 188.2L547.1 188.6L548.0 188.9L548.8 189.3L549.7 189.6L550.5 190.0L551.4 190.4L552.2 190.9L553.1 191.3L554.0 191.7L554.8 192.1L555.7 192.7L556.5 193.4L557.4 194.4L558.2 195.7L559.1 197.4L559.9 199.1L560.8 200.7L561.7 202.3L562.5 203.9L563.4 205.6L564.2 207.2L565.1 208.8L565.9 210.5L566.8 212.2L567.6 213.8L568.5 215.3L569.3 216.7L570.2 217.8L571.1 218.8L571.9 219.8L572.8 220.6L573.6 221.5L574.5 222.3L575.3 223.1L576.2 223.8L577.0 224.6L577.9 225.3L578.8 226.0L579.6 226.6L580.5 227.2L581.3 227.7L582.2 228.1L583.0 228.6L583.9 229.0L584.7 229.3L585.6 229.7L586.4 230.0L587.3 230.3L588.2 230.6L589.0 231.0L589.9 231.3L590.7 231.6L591.6 231.8L592.4 232.1L593.3 232.4L594.1 232.7L595.0 233.0L595.9 233.4L596.7 233.8L597.6 234.1L598.4 234.5L599.3 234.9L600.1 235.2L601.0 235.6L601.8 236.0L602.7 236.5L603.5 236.9L604.4 237.3L605.3 237.8L606.1 238.2L607.0 238.7L607.8 239.0L608.7 239.3L609.5 239.5L610.4 239.8L611.2 240.0L612.1 240.1L613.0 240.3L613.8 240.5L614.7 240.6L615.5 240.7L616.4 240.8L617.2 240.9L618.1 240.9L618.9 241.0L619.8 241.0L620.6 241.0L621.5 241.0L622.4 241.0L623.2 241.0L624.1 241.0L624.9 241.0L625.8 240.9L626.6 240.9L627.5 240.8L628.3 240.7L629.2 240.7L630.1 240.6L630.9 240.5L631.8 240.4L632.6 240.3L633.5 240.2L634.3 240.1L635.2 239.9L636.0 239.7L636.9 239.6L637.7 239.4L638.6 239.2L639.5 239.0L640.3 238.8L641.2 238.7L642.0 238.5L642.9 238.3L643.7 238.1L644.6 237.9L645.4 237.7L646.3 237.5L647.2 237.3L648.0 237.1L648.9 236.8L649.7 236.6L650.6 236.3L651.4 236.1L652.3 235.9L653.1 235.7L654.0 235.5L654.8 235.2L655.7 235.0L656.6 234.8L657.4 234.6L658.3 234.4L659.1 234.1L660.0 233.9L660.8 233.7L661.7 233.5L662.5 233.3L663.4 233.0L664.3 232.8L665.1 232.6L666.0 232.3L666.8 232.1L667.7 231.9L668.5 231.6L669.4 231.4L670.2 231.2L671.1 230.9L671.9 230.7L672.8 230.5L673.7 230.2L674.5 230.0L675.4 229.8L676.2 229.6L677.1 229.3L677.9 229.1L678.8 228.9L679.6 228.6L680.5 228.4L681.4 228.1L682.2 227.9L683.1 227.6L683.9 227.4L684.8 227.1L685.6 226.9L686.5 226.6L687.3 226.4L688.2 226.2L689.0 226.0L689.9 225.7L690.8 225.5L691.6 225.3L692.5 225.1L693.3 224.9L694.2 224.8L695.0 224.7L695.9 224.5L696.7 224.4L697.6 224.3L698.5 224.2L699.3 224.2L700.2 224.2L701.0 224.2L701.9 224.3L702.7 224.4L703.6 224.5L704.4 224.6L705.3 224.7L706.1 224.9L707.0 225.1L707.9 225.3L708.7 225.6L709.6 225.9L710.4 226.2L711.3 226.5L712.1 226.8L713.0 227.2L713.8 227.6L714.7 228.0L715.6 228.4L716.4 228.9L717.3 229.5L718.1 230.1L719.0 230.7L719.8 231.3L720.7 231.9L721.5 232.6L722.4 233.2L723.2 233.8L724.1 234.4L725.0 235.0L725.8 235.5L726.7 236.0L727.5 236.6L728.4 237.1L729.2 237.6L730.1 238.1L730.9 238.6L731.8 239.1L732.7 239.5L733.5 240.0L734.4 240.3L735.2 240.7L736.1 241.1L736.9 241.5L737.8 241.8L738.6 242.2L739.5 242.6L740.3 242.9L741.2 243.3L742.1 243.6L742.9 243.9L743.8 244.2L744.6 244.5L745.5 244.8L746.3 245.1L747.2 245.4L748.0 245.6L748.9 245.9L749.8 246.1L750.6 246.4L751.5 246.6L752.3 246.9L753.2 247.1L754.0 247.3L754.9 247.5L755.7 247.6L756.6 247.8L757.4 248.0L758.3 248.1L759.2 248.3L760.0 248.4L760.9 248.6L761.7 248.7L762.6 248.9L763.4 249.0L764.3 249.1L765.1 249.2L766.0 249.3L766.9 249.5L767.7 249.6L768.6 249.7L769.4 249.8L770.3 249.9L771.1 250.0L772.0 250.1L772.8 250.2L773.7 250.3L774.5 250.4"/>
<path d="M450.5 114.1L451.4 116.1L452.2 118.0L453.1 119.8L453.9 121.6L454.8 123.4L455.6 125.1L456.5 126.5L457.3 127.7L458.2 128.7L459.1 129.0L459.9 128.9L460.8 128.6L461.6 128.3L462.5 127.7L463.3 126.8L464.2 125.7L465.0 124.6L465.9 123.3L466.7 121.9L467.6 120.3L468.5 118.8L469.3 117.2L470.2 115.6L471.0 113.9L471.9 112.4L472.7 111.0L473.6 109.9L474.4 108.9L475.3 108.1L476.2 107.6L477.0 107.2L477.9 107.0L478.7 107.1L479.6 107.5L480.4 108.1L481.3 108.7L482.1 109.7L483.0 110.9L483.8 112.4L484.7 113.8L485.6 115.1L486.4 116.3L487.3 117.4L488.1 118.6L489.0 119.7L489.8 120.9L490.7 122.0L491.5 123.3L492.4 124.5L493.3 125.9L494.1 127.3L495.0 128.7L495.8 130.1L496.7 131.6L497.5 133.2L498.4 134.9L499.2 136.6L500.1 138.4L500.9 140.3L501.8 142.3L502.7 144.5L503.5 146.9L504.4 149.3L505.2 151.8L506.1 154.3L506.9 156.9L507.8 159.4L508.6 162.1L509.5 164.8L510.4 167.4L511.2 169.8L512.1 172.1L512.9 174.4L513.8 176.5L514.6 178.6L515.5 180.5L516.3 181.9L517.2 182.7L518.0 183.2L518.9 183.3L519.8 183.0L520.6 182.6L521.5 182.2L522.3 181.7L523.2 181.0L524.0 180.2L524.9 179.5L525.7 178.9L526.6 178.4L527.5 178.1L528.3 177.9L529.2 178.1L530.0 178.5L530.9 178.9L531.7 179.4L532.6 180.0L533.4 180.7L534.3 181.5L535.1 182.3L536.0 183.1L536.9 184.0L537.7 184.7L538.6 185.5L539.4 186.1L540.3 186.5L541.1 187.0L542.0 187.4L542.8 187.7L543.7 187.9L544.6 188.2L545.4 188.5L546.3 188.9L547.1 189.2L548.0 189.6L548.8 190.0L549.7 190.4L550.5 190.8L551.4 191.2L552.2 191.7L553.1 192.1L554.0 192.5L554.8 193.0L555.7 193.6L556.5 194.3L557.4 195.3L558.2 196.8L559.1 198.4L559.9 200.1L560.8 201.8L561.7 203.4L562.5 205.1L563.4 206.8L564.2 208.5L565.1 210.1L565.9 211.8L566.8 213.5L567.6 215.1L568.5 216.7L569.3 218.1L570.2 219.3L571.1 220.4L571.9 221.3L572.8 222.3L573.6 223.1L574.5 224.0L575.3 224.8L576.2 225.7L577.0 226.5L577.9 227.2L578.8 227.9L579.6 228.6L580.5 229.2L581.3 229.7L582.2 230.2L583.0 230.7L583.9 231.1L584.7 231.5L585.6 231.9L586.4 232.2L587.3 232.6L588.2 232.9L589.0 233.2L589.9 233.6L590.7 233.9L591.6 234.1L592.4 234.4L593.3 234.6L594.1 234.9L595.0 235.2L595.9 235.5L596.7 235.9L597.6 236.2L598.4 236.5L599.3 236.8L600.1 237.2L601.0 237.5L601.8 237.8L602.7 238.2L603.5 238.6L604.4 238.9L605.3 239.3L606.1 239.7L607.0 240.0L607.8 240.3L608.7 240.6L609.5 240.8L610.4 241.0L611.2 241.2L612.1 241.3L613.0 241.4L613.8 241.6L614.7 241.7L615.5 241.8L616.4 241.9L617.2 242.0L618.1 242.0L618.9 242.1L619.8 242.1L620.6 242.1L621.5 242.1L622.4 242.1L623.2 242.1L624.1 242.1L624.9 242.1L625.8 242.0L626.6 242.0L627.5 241.9L628.3 241.9L629.2 241.8L630.1 241.8L630.9 241.7L631.8 241.6L632.6 241.5L633.5 241.5L634.3 241.3L635.2 241.2L636.0 241.1L636.9 240.9L637.7 240.7L638.6 240.6L639.5 240.4L640.3 240.3L641.2 240.1L642.0 240.0L642.9 239.8L643.7 239.7L644.6 239.5L645.4 239.4L646.3 239.2L647.2 239.0L648.0 238.8L648.9 238.6L649.7 238.4L650.6 238.2L651.4 238.0L652.3 237.8L653.1 237.7L654.0 237.5L654.8 237.3L655.7 237.1L656.6 236.9L657.4 236.8L658.3 236.6L659.1 236.4L660.0 236.2L660.8 236.0L661.7 235.9L662.5 235.7L663.4 235.5L664.3 235.3L665.1 235.1L666.0 234.9L666.8 234.7L667.7 234.5L668.5 234.3L669.4 234.1L670.2 233.9L671.1 233.8L671.9 233.6L672.8 233.4L673.7 233.2L674.5 233.0L675.4 232.9L676.2 232.7L677.1 232.5L677.9 232.3L678.8 232.1L679.6 231.9L680.5 231.8L681.4 231.6L682.2 231.4L683.1 231.2L683.9 231.0L684.8 230.8L685.6 230.6L686.5 230.4L687.3 230.2L688.2 230.1L689.0 229.9L689.9 229.7L690.8 229.5L691.6 229.4L692.5 229.2L693.3 229.1L694.2 229.0L695.0 228.9L695.9 228.7L696.7 228.7L697.6 228.6L698.5 228.5L699.3 228.5L700.2 228.5L701.0 228.5L701.9 228.6L702.7 228.6L703.6 228.7L704.4 228.8L705.3 228.9L706.1 229.0L707.0 229.2L707.9 229.4L708.7 229.6L709.6 229.8L710.4 230.1L711.3 230.3L712.1 230.6L713.0 230.9L713.8 231.2L714.7 231.5L715.6 231.9L716.4 232.3L717.3 232.8L718.1 233.2L719.0 233.7L719.8 234.2L720.7 234.7L721.5 235.3L722.4 235.8L723.2 236.3L724.1 236.8L725.0 237.2L725.8 237.7L726.7 238.1L727.5 238.5L728.4 238.9L729.2 239.3L730.1 239.8L730.9 240.2L731.8 240.5L732.7 240.9L733.5 241.3L734.4 241.6L735.2 241.9L736.1 242.2L736.9 242.5L737.8 242.8L738.6 243.1L739.5 243.4L740.3 243.7L741.2 244.0L742.1 244.3L742.9 244.6L743.8 244.8L744.6 245.1L745.5 245.3L746.3 245.6L747.2 245.8L748.0 246.1L748.9 246.3L749.8 246.5L750.6 246.7L751.5 246.9L752.3 247.1L753.2 247.3L754.0 247.5L754.9 247.7L755.7 247.8L756.6 248.0L757.4 248.2L758.3 248.3L759.2 248.4L760.0 248.6L760.9 248.7L761.7 248.8L762.6 249.0L763.4 249.1L764.3 249.2L765.1 249.3L766.0 249.4L766.9 249.6L767.7 249.7L768.6 249.8L769.4 249.9L770.3 250.0L771.1 250.1L772.0 250.2L772.8 250.3L773.7 250.4L774.5 250.4"/>
<path d="M450.5 114.1L451.4 116.1L452.2 118.0L453.1 119.8L453.9 121.6L454.8 123.4L455.6 125.1L456.5 126.5L457.3 127.7L458.2 128.7L459.1 129.0L459.9 128.9L460.8 128.6L461.6 128.3L462.5 127.7L463.3 126.8L464.2 125.7L465.0 124.6L465.9 123.3L466.7 121.9L467.6 120.3L468.5 118.8L469.3 117.2L470.2 115.6L471.0 114.0L471.9 112.4L472.7 111.0L473.6 109.9L474.4 108.9L475.3 108.1L476.2 107.6L477.0 107.2L477.9 107.0L478.7 107.1L479.6 107.5L480.4 108.1L481.3 108.7L482.1 109.7L483.0 111.0L483.8 112.4L484.7 113.8L485.6 115.1L486.4 116.3L487.3 117.5L488.1 118.6L489.0 119.8L489.8 120.9L490.7 122.1L491.5 123.3L492.4 124.6L493.3 125.9L494.1 127.3L495.0 128.8L495.8 130.2L496.7 131.7L497.5 133.3L498.4 134.9L499.2 136.7L500.1 138.5L500.9 140.3L501.8 142.4L502.7 144.6L503.5 147.0L504.4 149.4L505.2 151.9L506.1 154.4L506.9 157.0L507.8 159.5L508.6 162.2L509.5 164.9L510.4 167.5L511.2 169.9L512.1 172.2L512.9 174.5L513.8 176.6L514.6 178.6L515.5 180.6L516.3 181.9L517.2 182.7L518.0 183.3L518.9 183.4L519.8 183.1L520.6 182.7L521.5 182.3L522.3 181.8L523.2 181.1L524.0 180.3L524.9 179.7L525.7 179.2L526.6 178.7L527.5 178.4L528.3 178.3L529.2 178.5L530.0 179.0L530.9 179.4L531.7 179.9L532.6 180.5L533.4 181.2L534.3 182.0L535.1 182.8L536.0 183.6L536.9 184.4L537.7 185.2L538.6 185.9L539.4 186.5L540.3 187.0L541.1 187.4L542.0 187.8L542.8 188.2L543.7 188.5L544.6 188.8L545.4 189.1L546.3 189.5L547.1 189.9L548.0 190.3L548.8 190.7L549.7 191.1L550.5 191.6L551.4 192.0L552.2 192.5L553.1 193.0L554.0 193.4L554.8 193.9L555.7 194.5L556.5 195.3L557.4 196.3L558.2 197.8L559.1 199.5L559.9 201.2L560.8 202.9L561.7 204.6L562.5 206.3L563.4 208.0L564.2 209.7L565.1 211.4L565.9 213.1L566.8 214.8L567.6 216.5L568.5 218.1L569.3 219.5L570.2 220.7L571.1 221.8L571.9 222.9L572.8 223.8L573.6 224.7L574.5 225.6L575.3 226.5L576.2 227.3L577.0 228.1L577.9 228.9L578.8 229.7L579.6 230.4L580.5 231.0L581.3 231.5L582.2 232.1L583.0 232.5L583.9 233.0L584.7 233.4L585.6 233.8L586.4 234.2L587.3 234.5L588.2 234.9L589.0 235.2L589.9 235.5L590.7 235.8L591.6 236.1L592.4 236.3L593.3 236.5L594.1 236.8L595.0 237.1L595.9 237.4L596.7 237.6L597.6 237.9L598.4 238.2L599.3 238.5L600.1 238.7L601.0 239.0L601.8 239.3L602.7 239.6L603.5 239.9L604.4 240.2L605.3 240.6L606.1 240.9L607.0 241.2L607.8 241.4L608.7 241.6L609.5 241.8L610.4 242.0L611.2 242.1L612.1 242.3L613.0 242.4L613.8 242.5L614.7 242.6L615.5 242.7L616.4 242.8L617.2 242.8L618.1 242.9L618.9 242.9L619.8 243.0L620.6 243.0L621.5 243.0L622.4 243.0L623.2 243.0L624.1 243.0L624.9 243.0L625.8 242.9L626.6 242.9L627.5 242.8L628.3 242.8L629.2 242.7L630.1 242.7L630.9 242.6L631.8 242.6L632.6 242.5L633.5 242.4L634.3 242.3L635.2 242.2L636.0 242.1L636.9 241.9L637.7 241.8L638.6 241.7L639.5 241.5L640.3 241.4L641.2 241.3L642.0 241.2L642.9 241.0L643.7 240.9L644.6 240.8L645.4 240.6L646.3 240.5L647.2 240.3L648.0 240.2L648.9 240.0L649.7 239.9L650.6 239.7L651.4 239.5L652.3 239.4L653.1 239.2L654.0 239.1L654.8 238.9L655.7 238.8L656.6 238.6L657.4 238.4L658.3 238.3L659.1 238.1L660.0 238.0L660.8 237.8L661.7 237.7L662.5 237.5L663.4 237.4L664.3 237.2L665.1 237.0L666.0 236.9L666.8 236.7L667.7 236.5L668.5 236.4L669.4 236.2L670.2 236.1L671.1 235.9L671.9 235.8L672.8 235.7L673.7 235.5L674.5 235.4L675.4 235.2L676.2 235.1L677.1 235.0L677.9 234.8L678.8 234.7L679.6 234.5L680.5 234.4L681.4 234.2L682.2 234.1L683.1 233.9L683.9 233.8L684.8 233.6L685.6 233.5L686.5 233.3L687.3 233.2L688.2 233.1L689.0 232.9L689.9 232.8L690.8 232.7L691.6 232.5L692.5 232.4L693.3 232.3L694.2 232.2L695.0 232.1L695.9 232.0L696.7 232.0L697.6 231.9L698.5 231.9L699.3 231.8L700.2 231.8L701.0 231.9L701.9 231.9L702.7 231.9L703.6 232.0L704.4 232.1L705.3 232.1L706.1 232.3L707.0 232.4L707.9 232.6L708.7 232.7L709.6 232.9L710.4 233.1L711.3 233.3L712.1 233.5L713.0 233.7L713.8 234.0L714.7 234.3L715.6 234.6L716.4 234.9L717.3 235.3L718.1 235.7L719.0 236.1L719.8 236.5L720.7 236.9L721.5 237.4L722.4 237.8L723.2 238.2L724.1 238.6L725.0 239.0L725.8 239.3L726.7 239.7L727.5 240.0L728.4 240.4L729.2 240.7L730.1 241.0L730.9 241.4L731.8 241.7L732.7 242.0L733.5 242.3L734.4 242.5L735.2 242.8L736.1 243.0L736.9 243.3L737.8 243.6L738.6 243.8L739.5 244.1L740.3 244.3L741.2 244.6L742.1 244.8L742.9 245.1L743.8 245.3L744.6 245.5L745.5 245.7L746.3 246.0L747.2 246.2L748.0 246.4L748.9 246.6L749.8 246.8L750.6 247.0L751.5 247.2L752.3 247.4L753.2 247.5L754.0 247.7L754.9 247.9L755.7 248.0L756.6 248.1L757.4 248.3L758.3 248.4L759.2 248.6L760.0 248.7L760.9 248.8L761.7 248.9L762.6 249.1L763.4 249.2L764.3 249.3L765.1 249.4L766.0 249.5L766.9 249.6L767.7 249.7L768.6 249.8L769.4 249.9L770.3 250.0L771.1 250.1L772.0 250.2L772.8 250.3L773.7 250.4L774.5 250.5"/>
<path d="M450.5 114.1L451.4 116.1L452.2 118.0L453.1 119.8L453.9 121.6L454.8 123.4L455.6 125.1L456.5 126.5L457.3 127.7L458.2 128.7L459.1 129.0L459.9 128.9L460.8 128.6L461.6 128.3L462.5 127.7L463.3 126.8L464.2 125.7L465.0 124.6L465.9 123.3L466.7 121.9L467.6 120.3L468.5 118.8L469.3 117.2L470.2 115.6L471.0 114.0L471.9 112.4L472.7 111.0L473.6 109.9L474.4 108.9L475.3 108.1L476.2 107.6L477.0 107.2L477.9 107.0L478.7 107.1L479.6 107.5L480.4 108.1L481.3 108.7L482.1 109.7L483.0 111.0L483.8 112.4L484.7 113.8L485.6 115.1L486.4 116.3L487.3 117.5L488.1 118.6L489.0 119.8L489.8 120.9L490.7 122.1L491.5 123.3L492.4 124.6L493.3 125.9L494.1 127.3L495.0 128.8L495.8 130.2L496.7 131.7L497.5 133.3L498.4 134.9L499.2 136.7L500.1 138.5L500.9 140.3L501.8 142.4L502.7 144.6L503.5 147.0L504.4 149.4L505.2 151.9L506.1 154.4L506.9 157.0L507.8 159.5L508.6 162.2L509.5 164.9L510.4 167.5L511.2 169.9L512.1 172.2L512.9 174.5L513.8 176.6L514.6 178.6L515.5 180.6L516.3 181.9L517.2 182.7L518.0 183.3L518.9 183.4L519.8 183.1L520.6 182.7L521.5 182.3L522.3 181.8L523.2 181.2L524.0 180.4L524.9 179.8L525.7 179.4L526.6 179.0L527.5 178.7L528.3 178.7L529.2 178.9L530.0 179.4L530.9 179.9L531.7 180.4L532.6 181.0L533.4 181.7L534.3 182.5L535.1 183.3L536.0 184.1L536.9 184.9L537.7 185.6L538.6 186.3L539.4 186.9L540.3 187.3L541.1 187.8L542.0 188.2L542.8 188.6L543.7 189.0L544.6 189.3L545.4 189.7L546.3 190.1L547.1 190.5L548.0 190.9L548.8 191.4L549.7 191.8L550.5 192.3L551.4 192.8L552.2 193.3L553.1 193.7L554.0 194.2L554.8 194.7L555.7 195.4L556.5 196.1L557.4 197.2L558.2 198.7L559.1 200.4L559.9 202.2L560.8 203.9L561.7 205.6L562.5 207.4L563.4 209.1L564.2 210.9L565.1 212.6L565.9 214.3L566.8 216.0L567.6 217.7L568.5 219.3L569.3 220.8L570.2 222.0L571.1 223.2L571.9 224.3L572.8 225.2L573.6 226.2L574.5 227.1L575.3 228.0L576.2 228.9L577.0 229.7L577.9 230.6L578.8 231.3L579.6 232.0L580.5 232.7L581.3 233.3L582.2 233.8L583.0 234.3L583.9 234.8L584.7 235.2L585.6 235.6L586.4 236.0L587.3 236.4L588.2 236.7L589.0 237.0L589.9 237.4L590.7 237.7L591.6 237.9L592.4 238.1L593.3 238.3L594.1 238.6L595.0 238.8L595.9 239.1L596.7 239.3L597.6 239.6L598.4 239.8L599.3 240.0L600.1 240.3L601.0 240.5L601.8 240.7L602.7 241.0L603.5 241.3L604.4 241.5L605.3 241.7L606.1 242.0L607.0 242.2L607.8 242.4L608.7 242.6L609.5 242.8L610.4 242.9L611.2 243.0L612.1 243.2L613.0 243.3L613.8 243.4L614.7 243.5L615.5 243.5L616.4 243.6L617.2 243.7L618.1 243.7L618.9 243.8L619.8 243.8L620.6 243.8L621.5 243.8L622.4 243.8L623.2 243.8L624.1 243.8L624.9 243.8L625.8 243.8L626.6 243.7L627.5 243.7L628.3 243.7L629.2 243.6L630.1 243.6L630.9 243.5L631.8 243.5L632.6 243.4L633.5 243.4L634.3 243.3L635.2 243.2L636.0 243.1L636.9 243.0L637.7 242.8L638.6 242.7L639.5 242.6L640.3 242.5L641.2 242.4L642.0 242.3L642.9 242.2L643.7 242.1L644.6 242.0L645.4 241.9L646.3 241.7L647.2 241.6L648.0 241.5L648.9 241.4L649.7 241.2L650.6 241.1L651.4 241.0L652.3 240.8L653.1 240.7L654.0 240.6L654.8 240.5L655.7 240.3L656.6 240.2L657.4 240.1L658.3 239.9L659.1 239.8L660.0 239.7L660.8 239.6L661.7 239.4L662.5 239.3L663.4 239.2L664.3 239.0L665.1 238.9L666.0 238.8L666.8 238.6L667.7 238.5L668.5 238.4L669.4 238.3L670.2 238.2L671.1 238.1L671.9 238.0L672.8 237.9L673.7 237.8L674.5 237.6L675.4 237.5L676.2 237.4L677.1 237.3L677.9 237.2L678.8 237.1L679.6 237.0L680.5 236.9L681.4 236.8L682.2 236.7L683.1 236.6L683.9 236.5L684.8 236.4L685.6 236.3L686.5 236.2L687.3 236.1L688.2 236.0L689.0 235.9L689.9 235.8L690.8 235.7L691.6 235.6L692.5 235.5L693.3 235.4L694.2 235.3L695.0 235.3L695.9 235.2L696.7 235.1L697.6 235.1L698.5 235.1L699.3 235.0L700.2 235.1L701.0 235.1L701.9 235.1L702.7 235.1L703.6 235.2L704.4 235.2L705.3 235.3L706.1 235.4L707.0 235.5L707.9 235.6L708.7 235.8L709.6 235.9L710.4 236.0L711.3 236.2L712.1 236.3L713.0 236.5L713.8 236.7L714.7 236.9L715.6 237.2L716.4 237.4L717.3 237.7L718.1 238.1L719.0 238.4L719.8 238.7L720.7 239.0L721.5 239.4L722.4 239.7L723.2 240.1L724.1 240.4L725.0 240.7L725.8 240.9L726.7 241.2L727.5 241.5L728.4 241.7L729.2 242.0L730.1 242.3L730.9 242.5L731.8 242.8L732.7 243.0L733.5 243.2L734.4 243.5L735.2 243.7L736.1 243.9L736.9 244.1L737.8 244.3L738.6 244.5L739.5 244.7L740.3 244.9L741.2 245.1L742.1 245.3L742.9 245.5L743.8 245.7L744.6 245.9L745.5 246.1L746.3 246.3L747.2 246.5L748.0 246.7L748.9 246.9L749.8 247.1L750.6 247.2L751.5 247.4L752.3 247.6L753.2 247.7L754.0 247.9L754.9 248.0L755.7 248.2L756.6 248.3L757.4 248.4L758.3 248.5L759.2 248.7L760.0 248.8L760.9 248.9L761.7 249.0L762.6 249.1L763.4 249.3L764.3 249.4L765.1 249.5L766.0 249.6L766.9 249.7L767.7 249.8L768.6 249.9L769.4 250.0L770.3 250.1L771.1 250.2L772.0 250.3L772.8 250.4L773.7 250.5L774.5 250.5"/>
<path d="M450.5 114.1L451.4 116.1L452.2 118.0L453.1 119.8L453.9 121.6L454.8 123.4L455.6 125.1L456.5 126.5L457.3 127.7L458.2 128.7L459.1 129.1L459.9 128.9L460.8 128.6L461.6 128.3L462.5 127.7L463.3 126.8L464.2 125.7L465.0 124.6L465.9 123.3L466.7 121.9L467.6 120.3L468.5 118.8L469.3 117.2L470.2 115.6L471.0 114.0L471.9 112.4L472.7 111.0L473.6 109.9L474.4 108.9L475.3 108.1L476.2 107.6L477.0 107.2L477.9 107.0L478.7 107.1L479.6 107.6L480.4 108.1L481.3 108.8L482.1 109.7L483.0 111.0L483.8 112.4L484.7 113.9L485.6 115.2L486.4 116.4L487.3 117.5L488.1 118.7L489.0 119.8L489.8 121.0L490.7 122.2L491.5 123.4L492.4 124.7L493.3 126.0L494.1 127.4L495.0 128.8L495.8 130.3L496.7 131.8L497.5 133.4L498.4 135.0L499.2 136.7L500.1 138.5L500.9 140.4L501.8 142.5L502.7 144.7L503.5 147.1L504.4 149.5L505.2 152.0L506.1 154.5L506.9 157.0L507.8 159.6L508.6 162.3L509.5 165.0L510.4 167.6L511.2 170.0L512.1 172.3L512.9 174.5L513.8 176.7L514.6 178.7L515.5 180.7L516.3 182.0L517.2 182.8L518.0 183.4L518.9 183.5L519.8 183.2L520.6 182.8L521.5 182.4L522.3 181.9L523.2 181.3L524.0 180.6L524.9 180.0L525.7 179.6L526.6 179.3L527.5 179.1L528.3 179.1L529.2 179.3L530.0 179.8L530.9 180.3L531.7 180.8L532.6 181.5L533.4 182.2L534.3 183.0L535.1 183.8L536.0 184.5L536.9 185.3L537.7 186.0L538.6 186.6L539.4 187.2L540.3 187.7L541.1 188.2L542.0 188.6L542.8 189.0L543.7 189.4L544.6 189.8L545.4 190.2L546.3 190.6L547.1 191.1L548.0 191.5L548.8 192.0L549.7 192.4L550.5 192.9L551.4 193.4L552.2 194.0L553.1 194.5L554.0 195.0L554.8 195.5L555.7 196.1L556.5 196.9L557.4 198.0L558.2 199.5L559.1 201.3L559.9 203.1L560.8 204.9L561.7 206.6L562.5 208.4L563.4 210.2L564.2 211.9L565.1 213.6L565.9 215.4L566.8 217.1L567.6 218.9L568.5 220.5L569.3 222.0L570.2 223.2L571.1 224.4L571.9 225.5L572.8 226.5L573.6 227.5L574.5 228.4L575.3 229.3L576.2 230.2L577.0 231.0L577.9 231.9L578.8 232.7L579.6 233.4L580.5 234.0L581.3 234.6L582.2 235.2L583.0 235.7L583.9 236.2L584.7 236.6L585.6 237.0L586.4 237.4L587.3 237.8L588.2 238.1L589.0 238.4L589.9 238.8L590.7 239.0L591.6 239.3L592.4 239.5L593.3 239.7L594.1 239.9L595.0 240.1L595.9 240.4L596.7 240.6L597.6 240.8L598.4 241.0L599.3 241.2L600.1 241.4L601.0 241.6L601.8 241.8L602.7 242.0L603.5 242.2L604.4 242.4L605.3 242.6L606.1 242.8L607.0 243.0L607.8 243.2L608.7 243.3L609.5 243.5L610.4 243.6L611.2 243.7L612.1 243.8L613.0 243.9L613.8 244.0L614.7 244.1L615.5 244.1L616.4 244.2L617.2 244.3L618.1 244.3L618.9 244.3L619.8 244.4L620.6 244.4L621.5 244.4L622.4 244.4L623.2 244.4L624.1 244.4L624.9 244.4L625.8 244.4L626.6 244.3L627.5 244.3L628.3 244.3L629.2 244.2L630.1 244.2L630.9 244.1L631.8 244.1L632.6 244.1L633.5 244.0L634.3 243.9L635.2 243.8L636.0 243.7L636.9 243.6L637.7 243.5L638.6 243.4L639.5 243.3L640.3 243.2L641.2 243.1L642.0 243.0L642.9 243.0L643.7 242.9L644.6 242.8L645.4 242.7L646.3 242.6L647.2 242.5L648.0 242.4L648.9 242.3L649.7 242.2L650.6 242.0L651.4 241.9L652.3 241.8L653.1 241.7L654.0 241.6L654.8 241.5L655.7 241.4L656.6 241.3L657.4 241.2L658.3 241.1L659.1 240.9L660.0 240.8L660.8 240.7L661.7 240.6L662.5 240.5L663.4 240.4L664.3 240.3L665.1 240.2L666.0 240.1L666.8 239.9L667.7 239.8L668.5 239.7L669.4 239.6L670.2 239.6L671.1 239.5L671.9 239.4L672.8 239.3L673.7 239.2L674.5 239.2L675.4 239.1L676.2 239.0L677.1 238.9L677.9 238.9L678.8 238.8L679.6 238.7L680.5 238.6L681.4 238.5L682.2 238.5L683.1 238.4L683.9 238.3L684.8 238.2L685.6 238.1L686.5 238.1L687.3 238.0L688.2 237.9L689.0 237.8L689.9 237.7L690.8 237.7L691.6 237.6L692.5 237.5L693.3 237.5L694.2 237.4L695.0 237.4L695.9 237.3L696.7 237.3L697.6 237.2L698.5 237.2L699.3 237.2L700.2 237.2L701.0 237.2L701.9 237.2L702.7 237.3L703.6 237.3L704.4 237.3L705.3 237.4L706.1 237.5L707.0 237.6L707.9 237.7L708.7 237.8L709.6 237.9L710.4 238.0L711.3 238.1L712.1 238.2L713.0 238.4L713.8 238.5L714.7 238.7L715.6 238.9L716.4 239.1L717.3 239.4L718.1 239.6L719.0 239.9L719.8 240.2L720.7 240.5L721.5 240.7L722.4 241.0L723.2 241.3L724.1 241.5L725.0 241.8L725.8 242.0L726.7 242.2L727.5 242.4L728.4 242.7L729.2 242.9L730.1 243.1L730.9 243.3L731.8 243.5L732.7 243.7L733.5 243.9L734.4 244.1L735.2 244.3L736.1 244.4L736.9 244.6L737.8 244.8L738.6 245.0L739.5 245.1L740.3 245.3L741.2 245.5L742.1 245.7L742.9 245.9L743.8 246.0L744.6 246.2L745.5 246.4L746.3 246.6L747.2 246.7L748.0 246.9L748.9 247.1L749.8 247.2L750.6 247.4L751.5 247.6L752.3 247.7L753.2 247.9L754.0 248.0L754.9 248.1L755.7 248.3L756.6 248.4L757.4 248.5L758.3 248.6L759.2 248.8L760.0 248.9L760.9 249.0L761.7 249.1L762.6 249.2L763.4 249.3L764.3 249.4L765.1 249.5L766.0 249.6L766.9 249.7L767.7 249.8L768.6 249.9L769.4 250.0L770.3 250.1L771.1 250.2L772.0 250.3L772.8 250.4L773.7 250.5L774.5 250.6"/>
<path d="M450.5 114.1L451.4 116.1L452.2 118.0L453.1 119.8L453.9 121.6L454.8 123.4L455.6 125.1L456.5 126.5L457.3 127.7L458.2 128.7L459.1 129.1L459.9 128.9L460.8 128.6L461.6 128.3L462.5 127.7L463.3 126.8L464.2 125.7L465.0 124.6L465.9 123.3L466.7 121.9L467.6 120.3L468.5 118.8L469.3 117.2L470.2 115.6L471.0 114.0L471.9 112.4L472.7 111.0L473.6 109.9L474.4 108.9L475.3 108.1L476.2 107.6L477.0 107.2L477.9 107.0L478.7 107.1L479.6 107.6L480.4 108.1L481.3 108.8L482.1 109.7L483.0 111.0L483.8 112.4L484.7 113.9L485.6 115.2L486.4 116.4L487.3 117.5L488.1 118.7L489.0 119.8L489.8 121.0L490.7 122.2L491.5 123.4L492.4 124.7L493.3 126.0L494.1 127.4L495.0 128.8L495.8 130.3L496.7 131.8L497.5 133.4L498.4 135.0L499.2 136.7L500.1 138.5L500.9 140.4L501.8 142.5L502.7 144.7L503.5 147.1L504.4 149.5L505.2 152.0L506.1 154.5L506.9 157.0L507.8 159.6L508.6 162.3L509.5 165.0L510.4 167.6L511.2 170.0L512.1 172.3L512.9 174.5L513.8 176.7L514.6 178.7L515.5 180.7L516.3 182.0L517.2 182.8L518.0 183.4L518.9 183.5L519.8 183.2L520.6 182.8L521.5 182.4L522.3 181.9L523.2 181.3L524.0 180.6L524.9 180.1L525.7 179.8L526.6 179.5L527.5 179.3L528.3 179.4L529.2 179.7L530.0 180.2L530.9 180.7L531.7 181.3L532.6 181.9L533.4 182.7L534.3 183.4L535.1 184.2L536.0 184.9L536.9 185.7L537.7 186.3L538.6 187.0L539.4 187.6L540.3 188.1L541.1 188.6L542.0 189.0L542.8 189.5L543.7 189.9L544.6 190.3L545.4 190.7L546.3 191.2L547.1 191.6L548.0 192.1L548.8 192.6L549.7 193.1L550.5 193.6L551.4 194.1L552.2 194.6L553.1 195.2L554.0 195.7L554.8 196.3L555.7 196.9L556.5 197.7L557.4 198.9L558.2 200.4L559.1 202.2L559.9 204.0L560.8 205.8L561.7 207.6L562.5 209.4L563.4 211.2L564.2 213.0L565.1 214.7L565.9 216.5L566.8 218.3L567.6 220.0L568.5 221.6L569.3 223.1L570.2 224.4L571.1 225.6L571.9 226.7L572.8 227.7L573.6 228.6L574.5 229.5L575.3 230.4L576.2 231.3L577.0 232.2L577.9 233.0L578.8 233.8L579.6 234.5L580.5 235.2L581.3 235.7L582.2 236.3L583.0 236.8L583.9 237.3L584.7 237.7L585.6 238.1L586.4 238.5L587.3 238.9L588.2 239.2L589.0 239.5L589.9 239.8L590.7 240.1L591.6 240.3L592.4 240.5L593.3 240.7L594.1 240.9L595.0 241.1L595.9 241.3L596.7 241.5L597.6 241.6L598.4 241.8L599.3 242.0L600.1 242.2L601.0 242.3L601.8 242.5L602.7 242.7L603.5 242.9L604.4 243.0L605.3 243.2L606.1 243.4L607.0 243.6L607.8 243.7L608.7 243.8L609.5 243.9L610.4 244.0L611.2 244.1L612.1 244.2L613.0 244.3L613.8 244.4L614.7 244.5L615.5 244.5L616.4 244.6L617.2 244.6L618.1 244.7L618.9 244.7L619.8 244.7L620.6 244.7L621.5 244.7L622.4 244.8L623.2 244.7L624.1 244.7L624.9 244.7L625.8 244.7L626.6 244.7L627.5 244.6L628.3 244.6L629.2 244.6L630.1 244.5L630.9 244.5L631.8 244.5L632.6 244.4L633.5 244.4L634.3 244.3L635.2 244.2L636.0 244.1L636.9 244.0L637.7 243.9L638.6 243.8L639.5 243.7L640.3 243.6L641.2 243.6L642.0 243.5L642.9 243.4L643.7 243.3L644.6 243.2L645.4 243.1L646.3 243.0L647.2 243.0L648.0 242.9L648.9 242.8L649.7 242.7L650.6 242.6L651.4 242.5L652.3 242.4L653.1 242.3L654.0 242.2L654.8 242.1L655.7 242.0L656.6 241.9L657.4 241.8L658.3 241.7L659.1 241.6L660.0 241.5L660.8 241.4L661.7 241.3L662.5 241.2L663.4 241.1L664.3 241.0L665.1 240.9L666.0 240.8L666.8 240.7L667.7 240.6L668.5 240.5L669.4 240.4L670.2 240.3L671.1 240.3L671.9 240.2L672.8 240.1L673.7 240.1L674.5 240.0L675.4 239.9L676.2 239.9L677.1 239.8L677.9 239.8L678.8 239.7L679.6 239.6L680.5 239.6L681.4 239.5L682.2 239.4L683.1 239.4L683.9 239.3L684.8 239.2L685.6 239.2L686.5 239.1L687.3 239.0L688.2 239.0L689.0 238.9L689.9 238.9L690.8 238.8L691.6 238.7L692.5 238.7L693.3 238.6L694.2 238.6L695.0 238.5L695.9 238.5L696.7 238.4L697.6 238.4L698.5 238.4L699.3 238.4L700.2 238.4L701.0 238.4L701.9 238.4L702.7 238.4L703.6 238.5L704.4 238.5L705.3 238.6L706.1 238.6L707.0 238.7L707.9 238.8L708.7 238.9L709.6 239.0L710.4 239.1L711.3 239.2L712.1 239.3L713.0 239.4L713.8 239.5L714.7 239.7L715.6 239.9L716.4 240.1L717.3 240.3L718.1 240.5L719.0 240.7L719.8 241.0L720.7 241.2L721.5 241.5L722.4 241.7L723.2 242.0L724.1 242.2L725.0 242.4L725.8 242.6L726.7 242.8L727.5 243.0L728.4 243.2L729.2 243.4L730.1 243.6L730.9 243.7L731.8 243.9L732.7 244.1L733.5 244.3L734.4 244.4L735.2 244.6L736.1 244.7L736.9 244.9L737.8 245.0L738.6 245.2L739.5 245.4L740.3 245.5L741.2 245.7L742.1 245.9L742.9 246.0L743.8 246.2L744.6 246.4L745.5 246.5L746.3 246.7L747.2 246.9L748.0 247.0L748.9 247.2L749.8 247.3L750.6 247.5L751.5 247.6L752.3 247.8L753.2 247.9L754.0 248.1L754.9 248.2L755.7 248.3L756.6 248.4L757.4 248.6L758.3 248.7L759.2 248.8L760.0 248.9L760.9 249.0L761.7 249.1L762.6 249.2L763.4 249.3L764.3 249.5L765.1 249.6L766.0 249.7L766.9 249.8L767.7 249.9L768.6 250.0L769.4 250.1L770.3 250.2L771.1 250.2L772.0 250.3L772.8 250.4L773.7 250.5L774.5 250.6"/>
<path d="M450.5 114.3L451.4 116.3L452.2 118.2L453.1 120.0L453.9 121.8L454.8 123.6L455.6 125.4L456.5 126.8L457.3 128.0L458.2 129.0L459.1 129.3L459.9 129.2L460.8 128.9L461.6 128.5L462.5 127.9L463.3 127.0L464.2 126.0L465.0 124.9L465.9 123.6L466.7 122.2L467.6 120.7L468.5 119.1L469.3 117.6L470.2 116.0L471.0 114.3L471.9 112.8L472.7 111.4L473.6 110.3L474.4 109.3L475.3 108.6L476.2 108.1L477.0 107.8L477.9 107.7L478.7 107.9L479.6 108.3L480.4 109.0L481.3 109.7L482.1 110.8L483.0 112.2L483.8 113.7L484.7 115.2L485.6 116.6L486.4 117.9L487.3 119.2L488.1 120.4L489.0 121.6L489.8 122.9L490.7 124.1L491.5 125.4L492.4 126.8L493.3 128.2L494.1 129.6L495.0 131.1L495.8 132.6L496.7 134.2L497.5 135.8L498.4 137.5L499.2 139.3L500.1 141.1L500.9 143.1L501.8 145.2L502.7 147.5L503.5 149.9L504.4 152.4L505.2 154.9L506.1 157.5L506.9 160.0L507.8 162.6L508.6 165.3L509.5 168.0L510.4 170.6L511.2 173.0L512.1 175.2L512.9 177.4L513.8 179.4L514.6 181.3L515.5 183.2L516.3 184.5L517.2 185.4L518.0 186.0L518.9 186.2L519.8 186.0L520.6 185.6L521.5 185.1L522.3 184.5L523.2 183.7L524.0 182.9L524.9 182.2L525.7 181.6L526.6 181.1L527.5 180.7L528.3 180.6L529.2 180.7L530.0 181.0L530.9 181.5L531.7 181.9L532.6 182.5L533.4 183.1L534.3 183.9L535.1 184.6L536.0 185.3L536.9 186.0L537.7 186.7L538.6 187.3L539.4 187.9L540.3 188.4L541.1 188.9L542.0 189.4L542.8 189.8L543.7 190.3L544.6 190.7L545.4 191.2L546.3 191.7L547.1 192.2L548.0 192.6L548.8 193.1L549.7 193.6L550.5 194.2L551.4 194.7L552.2 195.3L553.1 195.8L554.0 196.4L554.8 196.9L555.7 197.6L556.5 198.4L557.4 199.6L558.2 201.2L559.1 203.0L559.9 204.9L560.8 206.7L561.7 208.5L562.5 210.3L563.4 212.1L564.2 213.9L565.1 215.7L565.9 217.5L566.8 219.3L567.6 221.0L568.5 222.7L569.3 224.2L570.2 225.5L571.1 226.6L571.9 227.7L572.8 228.7L573.6 229.7L574.5 230.6L575.3 231.5L576.2 232.4L577.0 233.2L577.9 234.0L578.8 234.8L579.6 235.5L580.5 236.2L581.3 236.7L582.2 237.3L583.0 237.8L583.9 238.3L584.7 238.7L585.6 239.1L586.4 239.5L587.3 239.8L588.2 240.1L589.0 240.5L589.9 240.7L590.7 241.0L591.6 241.2L592.4 241.4L593.3 241.6L594.1 241.7L595.0 241.9L595.9 242.1L596.7 242.2L597.6 242.4L598.4 242.5L599.3 242.7L600.1 242.8L601.0 243.0L601.8 243.1L602.7 243.3L603.5 243.4L604.4 243.6L605.3 243.7L606.1 243.9L607.0 244.0L607.8 244.1L608.7 244.2L609.5 244.3L610.4 244.4L611.2 244.5L612.1 244.6L613.0 244.7L613.8 244.7L614.7 244.8L615.5 244.9L616.4 244.9L617.2 244.9L618.1 245.0L618.9 245.0L619.8 245.0L620.6 245.0L621.5 245.0L622.4 245.0L623.2 245.0L624.1 245.0L624.9 245.0L625.8 245.0L626.6 245.0L627.5 244.9L628.3 244.9L629.2 244.9L630.1 244.8L630.9 244.8L631.8 244.8L632.6 244.7L633.5 244.7L634.3 244.6L635.2 244.5L636.0 244.4L636.9 244.3L637.7 244.2L638.6 244.1L639.5 244.1L640.3 244.0L641.2 243.9L642.0 243.8L642.9 243.7L643.7 243.7L644.6 243.6L645.4 243.5L646.3 243.4L647.2 243.3L648.0 243.3L648.9 243.2L649.7 243.1L650.6 243.0L651.4 242.9L652.3 242.8L653.1 242.7L654.0 242.6L654.8 242.5L655.7 242.4L656.6 242.3L657.4 242.3L658.3 242.2L659.1 242.1L660.0 242.0L660.8 241.9L661.7 241.8L662.5 241.7L663.4 241.6L664.3 241.5L665.1 241.4L666.0 241.3L666.8 241.2L667.7 241.2L668.5 241.1L669.4 241.0L670.2 240.9L671.1 240.9L671.9 240.8L672.8 240.8L673.7 240.7L674.5 240.7L675.4 240.6L676.2 240.6L677.1 240.5L677.9 240.5L678.8 240.4L679.6 240.4L680.5 240.3L681.4 240.3L682.2 240.2L683.1 240.2L683.9 240.1L684.8 240.1L685.6 240.0L686.5 240.0L687.3 239.9L688.2 239.8L689.0 239.8L689.9 239.7L690.8 239.7L691.6 239.6L692.5 239.6L693.3 239.5L694.2 239.5L695.0 239.5L695.9 239.4L696.7 239.4L697.6 239.4L698.5 239.3L699.3 239.3L700.2 239.3L701.0 239.4L701.9 239.4L702.7 239.4L703.6 239.4L704.4 239.5L705.3 239.5L706.1 239.6L707.0 239.6L707.9 239.7L708.7 239.8L709.6 239.8L710.4 239.9L711.3 240.0L712.1 240.1L713.0 240.2L713.8 240.3L714.7 240.5L715.6 240.6L716.4 240.8L717.3 241.0L718.1 241.2L719.0 241.4L719.8 241.6L720.7 241.9L721.5 242.1L722.4 242.3L723.2 242.5L724.1 242.7L725.0 242.9L725.8 243.1L726.7 243.2L727.5 243.4L728.4 243.6L729.2 243.8L730.1 243.9L730.9 244.1L731.8 244.2L732.7 244.4L733.5 244.5L734.4 244.7L735.2 244.8L736.1 245.0L736.9 245.1L737.8 245.3L738.6 245.4L739.5 245.6L740.3 245.7L741.2 245.9L742.1 246.0L742.9 246.2L743.8 246.3L744.6 246.5L745.5 246.6L746.3 246.8L747.2 247.0L748.0 247.1L748.9 247.3L749.8 247.4L750.6 247.6L751.5 247.7L752.3 247.8L753.2 248.0L754.0 248.1L754.9 248.2L755.7 248.4L756.6 248.5L757.4 248.6L758.3 248.7L759.2 248.8L760.0 248.9L760.9 249.1L761.7 249.2L762.6 249.3L763.4 249.4L764.3 249.5L765.1 249.6L766.0 249.7L766.9 249.8L767.7 249.9L768.6 250.0L769.4 250.1L770.3 250.2L771.1 250.3L772.0 250.4L772.8 250.4L773.7 250.5L774.5 250.6"/>
<path d="M450.5 114.3L451.4 116.3L452.2 118.2L453.1 120.0L453.9 121.8L454.8 123.6L455.6 125.4L456.5 126.8L457.3 128.0L458.2 129.0L459.1 129.3L459.9 129.2L460.8 128.9L461.6 128.5L462.5 127.9L463.3 127.0L464.2 126.0L465.0 124.9L465.9 123.6L466.7 122.2L467.6 120.7L468.5 119.1L469.3 117.6L470.2 116.0L471.0 114.3L471.9 112.8L472.7 111.4L473.6 110.3L474.4 109.3L475.3 108.6L476.2 108.1L477.0 107.8L477.9 107.7L478.7 107.9L479.6 108.3L480.4 109.0L481.3 109.7L482.1 110.8L483.0 112.2L483.8 113.7L484.7 115.2L485.6 116.6L486.4 117.9L487.3 119.2L488.1 120.4L489.0 121.6L489.8 122.9L490.7 124.1L491.5 125.4L492.4 126.8L493.3 128.2L494.1 129.6L495.0 131.1L495.8 132.6L496.7 134.2L497.5 135.8L498.4 137.5L499.2 139.3L500.1 141.1L500.9 143.1L501.8 145.2L502.7 147.5L503.5 149.9L504.4 152.4L505.2 154.9L506.1 157.5L506.9 160.0L507.8 162.6L508.6 165.3L509.5 168.0L510.4 170.6L511.2 173.0L512.1 175.2L512.9 177.4L513.8 179.4L514.6 181.3L515.5 183.2L516.3 184.5L517.2 185.4L518.0 186.0L518.9 186.2L519.8 186.0L520.6 185.6L521.5 185.1L522.3 184.5L523.2 183.8L524.0 182.9L524.9 182.3L525.7 181.8L526.6 181.3L527.5 181.0L528.3 180.8L529.2 181.0L530.0 181.4L530.9 181.8L531.7 182.3L532.6 182.8L533.4 183.5L534.3 184.2L535.1 185.0L536.0 185.7L536.9 186.3L537.7 187.0L538.6 187.6L539.4 188.2L540.3 188.7L541.1 189.2L542.0 189.7L542.8 190.2L543.7 190.6L544.6 191.1L545.4 191.6L546.3 192.1L547.1 192.6L548.0 193.1L548.8 193.6L549.7 194.2L550.5 194.7L551.4 195.3L552.2 195.8L553.1 196.4L554.0 197.0L554.8 197.6L555.7 198.3L556.5 199.1L557.4 200.3L558.2 201.9L559.1 203.7L559.9 205.6L560.8 207.4L561.7 209.2L562.5 211.1L563.4 213.0L564.2 214.8L565.1 216.6L565.9 218.4L566.8 220.2L567.6 222.0L568.5 223.6L569.3 225.1L570.2 226.4L571.1 227.6L571.9 228.7L572.8 229.7L573.6 230.6L574.5 231.5L575.3 232.4L576.2 233.3L577.0 234.1L577.9 235.0L578.8 235.7L579.6 236.4L580.5 237.1L581.3 237.6L582.2 238.2L583.0 238.7L583.9 239.1L584.7 239.6L585.6 240.0L586.4 240.3L587.3 240.6L588.2 241.0L589.0 241.3L589.9 241.6L590.7 241.8L591.6 242.0L592.4 242.2L593.3 242.3L594.1 242.5L595.0 242.6L595.9 242.8L596.7 242.9L597.6 243.1L598.4 243.2L599.3 243.3L600.1 243.4L601.0 243.6L601.8 243.7L602.7 243.8L603.5 243.9L604.4 244.0L605.3 244.2L606.1 244.3L607.0 244.4L607.8 244.5L608.7 244.6L609.5 244.7L610.4 244.8L611.2 244.8L612.1 244.9L613.0 245.0L613.8 245.0L614.7 245.1L615.5 245.1L616.4 245.2L617.2 245.2L618.1 245.3L618.9 245.3L619.8 245.3L620.6 245.3L621.5 245.3L622.4 245.3L623.2 245.3L624.1 245.3L624.9 245.3L625.8 245.2L626.6 245.2L627.5 245.2L628.3 245.2L629.2 245.1L630.1 245.1L630.9 245.0L631.8 245.0L632.6 245.0L633.5 244.9L634.3 244.9L635.2 244.8L636.0 244.7L636.9 244.6L637.7 244.5L638.6 244.4L639.5 244.3L640.3 244.3L641.2 244.2L642.0 244.1L642.9 244.0L643.7 244.0L644.6 243.9L645.4 243.8L646.3 243.8L647.2 243.7L648.0 243.6L648.9 243.5L649.7 243.4L650.6 243.4L651.4 243.3L652.3 243.2L653.1 243.1L654.0 243.0L654.8 242.9L655.7 242.8L656.6 242.8L657.4 242.7L658.3 242.6L659.1 242.5L660.0 242.4L660.8 242.3L661.7 242.3L662.5 242.2L663.4 242.1L664.3 242.0L665.1 241.9L666.0 241.8L666.8 241.7L667.7 241.7L668.5 241.6L669.4 241.5L670.2 241.5L671.1 241.4L671.9 241.4L672.8 241.3L673.7 241.3L674.5 241.3L675.4 241.2L676.2 241.2L677.1 241.1L677.9 241.1L678.8 241.1L679.6 241.0L680.5 241.0L681.4 240.9L682.2 240.9L683.1 240.9L683.9 240.8L684.8 240.8L685.6 240.7L686.5 240.7L687.3 240.6L688.2 240.6L689.0 240.5L689.9 240.5L690.8 240.5L691.6 240.4L692.5 240.4L693.3 240.3L694.2 240.3L695.0 240.3L695.9 240.2L696.7 240.2L697.6 240.2L698.5 240.2L699.3 240.2L700.2 240.2L701.0 240.2L701.9 240.2L702.7 240.2L703.6 240.2L704.4 240.3L705.3 240.3L706.1 240.4L707.0 240.4L707.9 240.5L708.7 240.5L709.6 240.6L710.4 240.7L711.3 240.8L712.1 240.8L713.0 240.9L713.8 241.0L714.7 241.2L715.6 241.3L716.4 241.5L717.3 241.6L718.1 241.8L719.0 242.0L719.8 242.2L720.7 242.4L721.5 242.6L722.4 242.8L723.2 243.0L724.1 243.2L725.0 243.3L725.8 243.5L726.7 243.6L727.5 243.8L728.4 243.9L729.2 244.1L730.1 244.2L730.9 244.4L731.8 244.5L732.7 244.7L733.5 244.8L734.4 244.9L735.2 245.1L736.1 245.2L736.9 245.3L737.8 245.5L738.6 245.6L739.5 245.7L740.3 245.9L741.2 246.0L742.1 246.2L742.9 246.3L743.8 246.5L744.6 246.6L745.5 246.7L746.3 246.9L747.2 247.0L748.0 247.2L748.9 247.3L749.8 247.5L750.6 247.6L751.5 247.8L752.3 247.9L753.2 248.0L754.0 248.2L754.9 248.3L755.7 248.4L756.6 248.5L757.4 248.6L758.3 248.7L759.2 248.9L760.0 249.0L760.9 249.1L761.7 249.2L762.6 249.3L763.4 249.4L764.3 249.5L765.1 249.6L766.0 249.7L766.9 249.8L767.7 249.9L768.6 250.0L769.4 250.1L770.3 250.2L771.1 250.3L772.0 250.4L772.8 250.5L773.7 250.5L774.5 250.6"/>
<path d="M450.5 114.3L451.4 116.3L452.2 118.2L453.1 120.0L453.9 121.8L454.8 123.6L455.6 125.4L456.5 126.8L457.3 128.0L458.2 129.0L459.1 129.3L459.9 129.2L460.8 128.9L461.6 128.5L462.5 127.9L463.3 127.0L464.2 126.0L465.0 124.9L465.9 123.6L466.7 122.2L467.6 120.7L468.5 119.1L469.3 117.6L470.2 116.0L471.0 114.4L471.9 112.8L472.7 111.4L473.6 110.3L474.4 109.3L475.3 108.6L476.2 108.2L477.0 107.8L477.9 107.7L478.7 107.9L479.6 108.4L480.4 109.0L481.3 109.8L482.1 110.8L483.0 112.2L483.8 113.7L484.7 115.3L485.6 116.7L486.4 118.0L487.3 119.2L488.1 120.5L489.0 121.7L489.8 122.9L490.7 124.2L491.5 125.5L492.4 126.8L493.3 128.3L494.1 129.7L495.0 131.2L495.8 132.7L496.7 134.3L497.5 135.9L498.4 137.6L499.2 139.4L500.1 141.2L500.9 143.2L501.8 145.3L502.7 147.6L503.5 150.0L504.4 152.5L505.2 155.0L506.1 157.6L506.9 160.1L507.8 162.7L508.6 165.4L509.5 168.1L510.4 170.7L511.2 173.1L512.1 175.3L512.9 177.5L513.8 179.5L514.6 181.4L515.5 183.2L516.3 184.6L517.2 185.5L518.0 186.1L518.9 186.3L519.8 186.1L520.6 185.7L521.5 185.2L522.3 184.6L523.2 183.9L524.0 183.1L524.9 182.4L525.7 181.9L526.6 181.5L527.5 181.2L528.3 181.1L529.2 181.3L530.0 181.7L530.9 182.1L531.7 182.6L532.6 183.2L533.4 183.9L534.3 184.6L535.1 185.3L536.0 186.0L536.9 186.6L537.7 187.3L538.6 187.9L539.4 188.4L540.3 189.0L541.1 189.5L542.0 190.0L542.8 190.5L543.7 191.0L544.6 191.5L545.4 192.0L546.3 192.5L547.1 193.0L548.0 193.5L548.8 194.1L549.7 194.6L550.5 195.2L551.4 195.8L552.2 196.4L553.1 196.9L554.0 197.5L554.8 198.1L555.7 198.8L556.5 199.7L557.4 200.9L558.2 202.5L559.1 204.4L559.9 206.3L560.8 208.1L561.7 209.9L562.5 211.8L563.4 213.7L564.2 215.6L565.1 217.3L565.9 219.2L566.8 221.0L567.6 222.8L568.5 224.5L569.3 226.0L570.2 227.2L571.1 228.4L571.9 229.5L572.8 230.5L573.6 231.4L574.5 232.4L575.3 233.2L576.2 234.1L577.0 235.0L577.9 235.8L578.8 236.5L579.6 237.2L580.5 237.8L581.3 238.4L582.2 238.9L583.0 239.4L583.9 239.9L584.7 240.3L585.6 240.7L586.4 241.1L587.3 241.4L588.2 241.7L589.0 242.0L589.9 242.3L590.7 242.5L591.6 242.7L592.4 242.9L593.3 243.0L594.1 243.1L595.0 243.3L595.9 243.4L596.7 243.5L597.6 243.6L598.4 243.7L599.3 243.9L600.1 244.0L601.0 244.1L601.8 244.2L602.7 244.3L603.5 244.4L604.4 244.5L605.3 244.6L606.1 244.7L607.0 244.7L607.8 244.8L608.7 244.9L609.5 245.0L610.4 245.1L611.2 245.1L612.1 245.2L613.0 245.2L613.8 245.3L614.7 245.3L615.5 245.4L616.4 245.4L617.2 245.5L618.1 245.5L618.9 245.5L619.8 245.5L620.6 245.5L621.5 245.5L622.4 245.5L623.2 245.5L624.1 245.5L624.9 245.5L625.8 245.5L626.6 245.4L627.5 245.4L628.3 245.4L629.2 245.3L630.1 245.3L630.9 245.3L631.8 245.2L632.6 245.2L633.5 245.1L634.3 245.1L635.2 245.0L636.0 244.9L636.9 244.8L637.7 244.8L638.6 244.7L639.5 244.6L640.3 244.5L641.2 244.4L642.0 244.4L642.9 244.3L643.7 244.2L644.6 244.2L645.4 244.1L646.3 244.0L647.2 244.0L648.0 243.9L648.9 243.8L649.7 243.8L650.6 243.7L651.4 243.6L652.3 243.5L653.1 243.4L654.0 243.4L654.8 243.3L655.7 243.2L656.6 243.1L657.4 243.0L658.3 243.0L659.1 242.9L660.0 242.8L660.8 242.7L661.7 242.6L662.5 242.6L663.4 242.5L664.3 242.4L665.1 242.3L666.0 242.2L666.8 242.2L667.7 242.1L668.5 242.0L669.4 242.0L670.2 241.9L671.1 241.9L671.9 241.9L672.8 241.8L673.7 241.8L674.5 241.8L675.4 241.7L676.2 241.7L677.1 241.7L677.9 241.6L678.8 241.6L679.6 241.6L680.5 241.5L681.4 241.5L682.2 241.5L683.1 241.5L683.9 241.4L684.8 241.4L685.6 241.3L686.5 241.3L687.3 241.3L688.2 241.2L689.0 241.2L689.9 241.2L690.8 241.1L691.6 241.1L692.5 241.1L693.3 241.0L694.2 241.0L695.0 241.0L695.9 240.9L696.7 240.9L697.6 240.9L698.5 240.9L699.3 240.9L700.2 240.9L701.0 240.9L701.9 240.9L702.7 240.9L703.6 241.0L704.4 241.0L705.3 241.0L706.1 241.1L707.0 241.1L707.9 241.2L708.7 241.2L709.6 241.3L710.4 241.3L711.3 241.4L712.1 241.5L713.0 241.5L713.8 241.6L714.7 241.7L715.6 241.9L716.4 242.0L717.3 242.2L718.1 242.3L719.0 242.5L719.8 242.7L720.7 242.9L721.5 243.1L722.4 243.2L723.2 243.4L724.1 243.6L725.0 243.7L725.8 243.8L726.7 244.0L727.5 244.1L728.4 244.3L729.2 244.4L730.1 244.5L730.9 244.6L731.8 244.8L732.7 244.9L733.5 245.0L734.4 245.1L735.2 245.3L736.1 245.4L736.9 245.5L737.8 245.6L738.6 245.7L739.5 245.9L740.3 246.0L741.2 246.1L742.1 246.3L742.9 246.4L743.8 246.6L744.6 246.7L745.5 246.8L746.3 247.0L747.2 247.1L748.0 247.3L748.9 247.4L749.8 247.5L750.6 247.7L751.5 247.8L752.3 247.9L753.2 248.1L754.0 248.2L754.9 248.3L755.7 248.4L756.6 248.5L757.4 248.7L758.3 248.8L759.2 248.9L760.0 249.0L760.9 249.1L761.7 249.2L762.6 249.3L763.4 249.4L764.3 249.5L765.1 249.6L766.0 249.7L766.9 249.8L767.7 249.9L768.6 250.0L769.4 250.1L770.3 250.2L771.1 250.3L772.0 250.4L772.8 250.5L773.7 250.6L774.5 250.6"/>
<path d="M450.5 114.3L451.4 116.3L452.2 118.2L453.1 120.0L453.9 121.8L454.8 123.6L455.6 125.4L456.5 126.8L457.3 128.0L458.2 129.0L459.1 129.3L459.9 129.2L460.8 128.9L461.6 128.5L462.5 127.9L463.3 127.0L464.2 126.0L465.0 124.9L465.9 123.6L466.7 122.2L467.6 120.7L468.5 119.1L469.3 117.6L470.2 116.0L471.0 114.4L471.9 112.8L472.7 111.4L473.6 110.3L474.4 109.3L475.3 108.6L476.2 108.2L477.0 107.8L477.9 107.7L478.7 107.9L479.6 108.4L480.4 109.0L481.3 109.8L482.1 110.8L483.0 112.2L483.8 113.7L484.7 115.3L485.6 116.7L486.4 118.0L487.3 119.2L488.1 120.5L489.0 121.7L489.8 122.9L490.7 124.2L491.5 125.5L492.4 126.8L493.3 128.3L494.1 129.7L495.0 131.2L495.8 132.7L496.7 134.3L497.5 135.9L498.4 137.6L499.2 139.4L500.1 141.2L500.9 143.2L501.8 145.3L502.7 147.6L503.5 150.0L504.4 152.5L505.2 155.0L506.1 157.6L506.9 160.1L507.8 162.7L508.6 165.4L509.5 168.1L510.4 170.7L511.2 173.1L512.1 175.3L512.9 177.5L513.8 179.5L514.6 181.4L515.5 183.2L516.3 184.6L517.2 185.5L518.0 186.1L518.9 186.3L519.8 186.1L520.6 185.7L521.5 185.2L522.3 184.6L523.2 183.9L524.0 183.1L524.9 182.5L525.7 182.1L526.6 181.7L527.5 181.4L528.3 181.3L529.2 181.6L530.0 182.0L530.9 182.4L531.7 182.9L532.6 183.5L533.4 184.2L534.3 184.9L535.1 185.6L536.0 186.3L536.9 186.9L537.7 187.5L538.6 188.1L539.4 188.7L540.3 189.2L541.1 189.7L542.0 190.3L542.8 190.8L543.7 191.3L544.6 191.8L545.4 192.4L546.3 192.9L547.1 193.4L548.0 194.0L548.8 194.5L549.7 195.1L550.5 195.7L551.4 196.2L552.2 196.9L553.1 197.4L554.0 198.0L554.8 198.7L555.7 199.4L556.5 200.3L557.4 201.5L558.2 203.1L559.1 205.0L559.9 207.0L560.8 208.8L561.7 210.7L562.5 212.5L563.4 214.5L564.2 216.3L565.1 218.1L565.9 220.0L566.8 221.8L567.6 223.6L568.5 225.3L569.3 226.8L570.2 228.1L571.1 229.2L571.9 230.3L572.8 231.3L573.6 232.3L574.5 233.2L575.3 234.0L576.2 234.9L577.0 235.7L577.9 236.5L578.8 237.3L579.6 238.0L580.5 238.6L581.3 239.1L582.2 239.6L583.0 240.1L583.9 240.6L584.7 241.0L585.6 241.4L586.4 241.7L587.3 242.1L588.2 242.4L589.0 242.6L589.9 242.9L590.7 243.1L591.6 243.3L592.4 243.5L593.3 243.6L594.1 243.7L595.0 243.8L595.9 243.9L596.7 244.0L597.6 244.1L598.4 244.2L599.3 244.3L600.1 244.4L601.0 244.5L601.8 244.6L602.7 244.6L603.5 244.7L604.4 244.8L605.3 244.9L606.1 245.0L607.0 245.0L607.8 245.1L608.7 245.2L609.5 245.2L610.4 245.3L611.2 245.4L612.1 245.4L613.0 245.5L613.8 245.5L614.7 245.5L615.5 245.6L616.4 245.6L617.2 245.7L618.1 245.7L618.9 245.7L619.8 245.7L620.6 245.7L621.5 245.7L622.4 245.7L623.2 245.7L624.1 245.7L624.9 245.6L625.8 245.6L626.6 245.6L627.5 245.6L628.3 245.5L629.2 245.5L630.1 245.5L630.9 245.4L631.8 245.4L632.6 245.3L633.5 245.3L634.3 245.2L635.2 245.2L636.0 245.1L636.9 245.0L637.7 244.9L638.6 244.8L639.5 244.8L640.3 244.7L641.2 244.6L642.0 244.5L642.9 244.5L643.7 244.4L644.6 244.4L645.4 244.3L646.3 244.2L647.2 244.2L648.0 244.1L648.9 244.0L649.7 244.0L650.6 243.9L651.4 243.8L652.3 243.7L653.1 243.7L654.0 243.6L654.8 243.5L655.7 243.4L656.6 243.4L657.4 243.3L658.3 243.2L659.1 243.1L660.0 243.1L660.8 243.0L661.7 242.9L662.5 242.8L663.4 242.8L664.3 242.7L665.1 242.6L666.0 242.5L666.8 242.5L667.7 242.4L668.5 242.3L669.4 242.3L670.2 242.3L671.1 242.2L671.9 242.2L672.8 242.2L673.7 242.1L674.5 242.1L675.4 242.1L676.2 242.0L677.1 242.0L677.9 242.0L678.8 242.0L679.6 241.9L680.5 241.9L681.4 241.9L682.2 241.9L683.1 241.8L683.9 241.8L684.8 241.8L685.6 241.8L686.5 241.7L687.3 241.7L688.2 241.7L689.0 241.6L689.9 241.6L690.8 241.6L691.6 241.5L692.5 241.5L693.3 241.5L694.2 241.5L695.0 241.4L695.9 241.4L696.7 241.4L697.6 241.4L698.5 241.4L699.3 241.4L700.2 241.4L701.0 241.4L701.9 241.4L702.7 241.4L703.6 241.4L704.4 241.5L705.3 241.5L706.1 241.5L707.0 241.6L707.9 241.6L708.7 241.7L709.6 241.7L710.4 241.8L711.3 241.8L712.1 241.9L713.0 241.9L713.8 242.0L714.7 242.1L715.6 242.3L716.4 242.4L717.3 242.5L718.1 242.7L719.0 242.9L719.8 243.0L720.7 243.2L721.5 243.4L722.4 243.5L723.2 243.7L724.1 243.8L725.0 244.0L725.8 244.1L726.7 244.2L727.5 244.3L728.4 244.5L729.2 244.6L730.1 244.7L730.9 244.8L731.8 244.9L732.7 245.0L733.5 245.2L734.4 245.3L735.2 245.4L736.1 245.5L736.9 245.6L737.8 245.7L738.6 245.8L739.5 246.0L740.3 246.1L741.2 246.2L742.1 246.3L742.9 246.5L743.8 246.6L744.6 246.8L745.5 246.9L746.3 247.0L747.2 247.2L748.0 247.3L748.9 247.4L749.8 247.6L750.6 247.7L751.5 247.8L752.3 248.0L753.2 248.1L754.0 248.2L754.9 248.3L755.7 248.5L756.6 248.6L757.4 248.7L758.3 248.8L759.2 248.9L760.0 249.0L760.9 249.1L761.7 249.2L762.6 249.3L763.4 249.4L764.3 249.5L765.1 249.6L766.0 249.7L766.9 249.8L767.7 249.9L768.6 250.0L769.4 250.1L770.3 250.2L771.1 250.3L772.0 250.4L772.8 250.5L773.7 250.6L774.5 250.6"/>
<path d="M450.5 114.3L451.4 116.3L452.2 118.2L453.1 120.0L453.9 121.8L454.8 123.6L455.6 125.4L456.5 126.8L457.3 128.0L458.2 129.0L459.1 129.3L459.9 129.2L460.8 128.9L461.6 128.5L462.5 127.9L463.3 127.0L464.2 126.0L465.0 124.9L465.9 123.6L466.7 122.2L467.6 120.7L468.5 119.1L469.3 117.6L470.2 116.0L471.0 114.4L471.9 112.8L472.7 111.4L473.6 110.3L474.4 109.3L475.3 108.6L476.2 108.2L477.0 107.8L477.9 107.7L478.7 107.9L479.6 108.4L480.4 109.0L481.3 109.8L482.1 110.8L483.0 112.2L483.8 113.7L484.7 115.3L485.6 116.7L486.4 118.0L487.3 119.2L488.1 120.5L489.0 121.7L489.8 122.9L490.7 124.2L491.5 125.5L492.4 126.8L493.3 128.3L494.1 129.7L495.0 131.2L495.8 132.7L496.7 134.3L497.5 135.9L498.4 137.6L499.2 139.4L500.1 141.2L500.9 143.2L501.8 145.3L502.7 147.6L503.5 150.0L504.4 152.5L505.2 155.0L506.1 157.6L506.9 160.1L507.8 162.7L508.6 165.4L509.5 168.1L510.4 170.7L511.2 173.1L512.1 175.3L512.9 177.5L513.8 179.5L514.6 181.4L515.5 183.2L516.3 184.6L517.2 185.5L518.0 186.1L518.9 186.3L519.8 186.1L520.6 185.7L521.5 185.2L522.3 184.7L523.2 183.9L524.0 183.2L524.9 182.6L525.7 182.2L526.6 181.8L527.5 181.6L528.3 181.5L529.2 181.8L530.0 182.2L530.9 182.7L531.7 183.2L532.6 183.8L533.4 184.5L534.3 185.2L535.1 185.9L536.0 186.6L536.9 187.2L537.7 187.8L538.6 188.3L539.4 188.9L540.3 189.4L541.1 190.0L542.0 190.5L542.8 191.0L543.7 191.6L544.6 192.1L545.4 192.7L546.3 193.2L547.1 193.8L548.0 194.3L548.8 194.9L549.7 195.5L550.5 196.1L551.4 196.7L552.2 197.3L553.1 197.9L554.0 198.5L554.8 199.1L555.7 199.9L556.5 200.8L557.4 202.0L558.2 203.7L559.1 205.6L559.9 207.5L560.8 209.4L561.7 211.3L562.5 213.2L563.4 215.1L564.2 217.0L565.1 218.8L565.9 220.7L566.8 222.5L567.6 224.3L568.5 226.0L569.3 227.5L570.2 228.8L571.1 230.0L571.9 231.0L572.8 232.0L573.6 233.0L574.5 233.9L575.3 234.7L576.2 235.6L577.0 236.4L577.9 237.2L578.8 237.9L579.6 238.6L580.5 239.2L581.3 239.8L582.2 240.3L583.0 240.8L583.9 241.2L584.7 241.6L585.6 242.0L586.4 242.3L587.3 242.7L588.2 243.0L589.0 243.2L589.9 243.5L590.7 243.7L591.6 243.9L592.4 244.0L593.3 244.1L594.1 244.2L595.0 244.3L595.9 244.4L596.7 244.5L597.6 244.6L598.4 244.7L599.3 244.7L600.1 244.8L601.0 244.9L601.8 244.9L602.7 245.0L603.5 245.1L604.4 245.1L605.3 245.2L606.1 245.2L607.0 245.3L607.8 245.4L608.7 245.4L609.5 245.5L610.4 245.5L611.2 245.6L612.1 245.6L613.0 245.7L613.8 245.7L614.7 245.7L615.5 245.8L616.4 245.8L617.2 245.8L618.1 245.8L618.9 245.9L619.8 245.9L620.6 245.9L621.5 245.9L622.4 245.9L623.2 245.8L624.1 245.8L624.9 245.8L625.8 245.8L626.6 245.8L627.5 245.7L628.3 245.7L629.2 245.7L630.1 245.6L630.9 245.6L631.8 245.5L632.6 245.5L633.5 245.5L634.3 245.4L635.2 245.3L636.0 245.3L636.9 245.2L637.7 245.1L638.6 245.0L639.5 244.9L640.3 244.8L641.2 244.8L642.0 244.7L642.9 244.7L643.7 244.6L644.6 244.5L645.4 244.5L646.3 244.4L647.2 244.4L648.0 244.3L648.9 244.2L649.7 244.2L650.6 244.1L651.4 244.0L652.3 244.0L653.1 243.9L654.0 243.8L654.8 243.7L655.7 243.7L656.6 243.6L657.4 243.5L658.3 243.4L659.1 243.4L660.0 243.3L660.8 243.2L661.7 243.2L662.5 243.1L663.4 243.0L664.3 243.0L665.1 242.9L666.0 242.8L666.8 242.7L667.7 242.7L668.5 242.6L669.4 242.6L670.2 242.6L671.1 242.5L671.9 242.5L672.8 242.5L673.7 242.5L674.5 242.4L675.4 242.4L676.2 242.4L677.1 242.4L677.9 242.4L678.8 242.3L679.6 242.3L680.5 242.3L681.4 242.3L682.2 242.3L683.1 242.2L683.9 242.2L684.8 242.2L685.6 242.2L686.5 242.2L687.3 242.1L688.2 242.1L689.0 242.1L689.9 242.0L690.8 242.0L691.6 242.0L692.5 242.0L693.3 241.9L694.2 241.9L695.0 241.9L695.9 241.9L696.7 241.9L697.6 241.9L698.5 241.8L699.3 241.8L700.2 241.8L701.0 241.9L701.9 241.9L702.7 241.9L703.6 241.9L704.4 241.9L705.3 242.0L706.1 242.0L707.0 242.0L707.9 242.1L708.7 242.1L709.6 242.1L710.4 242.2L711.3 242.2L712.1 242.3L713.0 242.4L713.8 242.4L714.7 242.5L715.6 242.6L716.4 242.8L717.3 242.9L718.1 243.0L719.0 243.2L719.8 243.3L720.7 243.5L721.5 243.7L722.4 243.8L723.2 243.9L724.1 244.1L725.0 244.2L725.8 244.3L726.7 244.4L727.5 244.6L728.4 244.7L729.2 244.8L730.1 244.9L730.9 245.0L731.8 245.1L732.7 245.2L733.5 245.3L734.4 245.4L735.2 245.5L736.1 245.6L736.9 245.7L737.8 245.8L738.6 245.9L739.5 246.1L740.3 246.2L741.2 246.3L742.1 246.4L742.9 246.6L743.8 246.7L744.6 246.8L745.5 246.9L746.3 247.1L747.2 247.2L748.0 247.4L748.9 247.5L749.8 247.6L750.6 247.8L751.5 247.9L752.3 248.0L753.2 248.1L754.0 248.3L754.9 248.4L755.7 248.5L756.6 248.6L757.4 248.7L758.3 248.8L759.2 248.9L760.0 249.0L760.9 249.1L761.7 249.2L762.6 249.3L763.4 249.4L764.3 249.5L765.1 249.6L766.0 249.7L766.9 249.8L767.7 249.9L768.6 250.0L769.4 250.1L770.3 250.2L771.1 250.3L772.0 250.4L772.8 250.5L773.7 250.6L774.5 250.7"/>
<path d="M450.5 114.3L451.4 116.3L452.2 118.2L453.1 120.0L453.9 121.8L454.8 123.6L455.6 125.4L456.5 126.8L457.3 128.0L458.2 129.0L459.1 129.3L459.9 129.2L460.8 128.9L461.6 128.5L462.5 127.9L463.3 127.0L464.2 126.0L465.0 124.9L465.9 123.6L466.7 122.2L467.6 120.7L468.5 119.1L469.3 117.6L470.2 116.0L471.0 114.4L471.9 112.8L472.7 111.4L473.6 110.3L474.4 109.3L475.3 108.6L476.2 108.2L477.0 107.8L477.9 107.7L478.7 107.9L479.6 108.4L480.4 109.0L481.3 109.8L482.1 110.8L483.0 112.2L483.8 113.7L484.7 115.3L485.6 116.7L486.4 118.0L487.3 119.2L488.1 120.5L489.0 121.7L489.8 122.9L490.7 124.2L491.5 125.5L492.4 126.8L493.3 128.3L494.1 129.7L495.0 131.2L495.8 132.7L496.7 134.3L497.5 135.9L498.4 137.6L499.2 139.4L500.1 141.2L500.9 143.2L501.8 145.3L502.7 147.6L503.5 150.0L504.4 152.5L505.2 155.0L506.1 157.6L506.9 160.1L507.8 162.7L508.6 165.4L509.5 168.1L510.4 170.7L511.2 173.1L512.1 175.3L512.9 177.5L513.8 179.5L514.6 181.4L515.5 183.2L516.3 184.6L517.2 185.5L518.0 186.1L518.9 186.3L519.8 186.1L520.6 185.7L521.5 185.2L522.3 184.7L523.2 183.9L524.0 183.2L524.9 182.7L525.7 182.3L526.6 182.0L527.5 181.7L528.3 181.7L529.2 182.0L530.0 182.4L530.9 182.9L531.7 183.4L532.6 184.1L533.4 184.7L534.3 185.5L535.1 186.2L536.0 186.8L536.9 187.4L537.7 188.0L538.6 188.5L539.4 189.1L540.3 189.6L541.1 190.2L542.0 190.7L542.8 191.3L543.7 191.8L544.6 192.4L545.4 193.0L546.3 193.5L547.1 194.1L548.0 194.7L548.8 195.2L549.7 195.8L550.5 196.4L551.4 197.0L552.2 197.7L553.1 198.3L554.0 198.9L554.8 199.5L555.7 200.3L556.5 201.2L557.4 202.4L558.2 204.1L559.1 206.0L559.9 208.0L560.8 209.9L561.7 211.8L562.5 213.7L563.4 215.7L564.2 217.6L565.1 219.4L565.9 221.3L566.8 223.1L567.6 224.9L568.5 226.6L569.3 228.1L570.2 229.4L571.1 230.6L571.9 231.7L572.8 232.6L573.6 233.6L574.5 234.5L575.3 235.3L576.2 236.2L577.0 237.0L577.9 237.8L578.8 238.5L579.6 239.2L580.5 239.8L581.3 240.3L582.2 240.8L583.0 241.3L583.9 241.7L584.7 242.1L585.6 242.5L586.4 242.8L587.3 243.1L588.2 243.4L589.0 243.7L589.9 244.0L590.7 244.2L591.6 244.3L592.4 244.5L593.3 244.6L594.1 244.7L595.0 244.7L595.9 244.8L596.7 244.9L597.6 245.0L598.4 245.0L599.3 245.1L600.1 245.1L601.0 245.2L601.8 245.2L602.7 245.3L603.5 245.3L604.4 245.4L605.3 245.4L606.1 245.5L607.0 245.5L607.8 245.6L608.7 245.6L609.5 245.6L610.4 245.7L611.2 245.7L612.1 245.8L613.0 245.8L613.8 245.9L614.7 245.9L615.5 245.9L616.4 245.9L617.2 246.0L618.1 246.0L618.9 246.0L619.8 246.0L620.6 246.0L621.5 246.0L622.4 246.0L623.2 246.0L624.1 245.9L624.9 245.9L625.8 245.9L626.6 245.9L627.5 245.8L628.3 245.8L629.2 245.8L630.1 245.7L630.9 245.7L631.8 245.7L632.6 245.6L633.5 245.6L634.3 245.5L635.2 245.4L636.0 245.4L636.9 245.3L637.7 245.2L638.6 245.1L639.5 245.0L640.3 245.0L641.2 244.9L642.0 244.9L642.9 244.8L643.7 244.7L644.6 244.7L645.4 244.6L646.3 244.6L647.2 244.5L648.0 244.4L648.9 244.4L649.7 244.3L650.6 244.3L651.4 244.2L652.3 244.1L653.1 244.1L654.0 244.0L654.8 243.9L655.7 243.8L656.6 243.8L657.4 243.7L658.3 243.6L659.1 243.6L660.0 243.5L660.8 243.4L661.7 243.4L662.5 243.3L663.4 243.2L664.3 243.2L665.1 243.1L666.0 243.0L666.8 243.0L667.7 242.9L668.5 242.9L669.4 242.8L670.2 242.8L671.1 242.8L671.9 242.7L672.8 242.7L673.7 242.7L674.5 242.7L675.4 242.7L676.2 242.6L677.1 242.6L677.9 242.6L678.8 242.6L679.6 242.6L680.5 242.6L681.4 242.6L682.2 242.6L683.1 242.5L683.9 242.5L684.8 242.5L685.6 242.5L686.5 242.5L687.3 242.4L688.2 242.4L689.0 242.4L689.9 242.4L690.8 242.4L691.6 242.3L692.5 242.3L693.3 242.3L694.2 242.3L695.0 242.2L695.9 242.2L696.7 242.2L697.6 242.2L698.5 242.2L699.3 242.2L700.2 242.2L701.0 242.2L701.9 242.2L702.7 242.2L703.6 242.3L704.4 242.3L705.3 242.3L706.1 242.3L707.0 242.4L707.9 242.4L708.7 242.4L709.6 242.5L710.4 242.5L711.3 242.6L712.1 242.6L713.0 242.7L713.8 242.7L714.7 242.8L715.6 242.9L716.4 243.1L717.3 243.2L718.1 243.3L719.0 243.5L719.8 243.6L720.7 243.7L721.5 243.9L722.4 244.0L723.2 244.2L724.1 244.3L725.0 244.4L725.8 244.5L726.7 244.6L727.5 244.7L728.4 244.8L729.2 244.9L730.1 245.0L730.9 245.1L731.8 245.2L732.7 245.3L733.5 245.4L734.4 245.5L735.2 245.6L736.1 245.7L736.9 245.8L737.8 245.9L738.6 246.0L739.5 246.1L740.3 246.2L741.2 246.4L742.1 246.5L742.9 246.6L743.8 246.7L744.6 246.9L745.5 247.0L746.3 247.1L747.2 247.3L748.0 247.4L748.9 247.5L749.8 247.7L750.6 247.8L751.5 247.9L752.3 248.0L753.2 248.2L754.0 248.3L754.9 248.4L755.7 248.5L756.6 248.6L757.4 248.7L758.3 248.8L759.2 248.9L760.0 249.0L760.9 249.1L761.7 249.2L762.6 249.3L763.4 249.4L764.3 249.5L765.1 249.6L766.0 249.7L766.9 249.8L767.7 249.9L768.6 250.0L769.4 250.1L770.3 250.2L771.1 250.3L772.0 250.4L772.8 250.5L773.7 250.6L774.5 250.7"/>
</g>
<path d="M450.5 23.2V254.4H775.5M450.5 254.40h4.6M450.5 247.79h2.6M450.5 241.19h2.6M450.5 234.58h2.6M450.5 227.98h2.6M450.5 221.37h2.6M450.5 214.77h2.6M450.5 208.16h2.6M450.5 201.55h2.6M450.5 194.95h2.6M450.5 188.34h4.6M450.5 181.74h2.6M450.5 175.13h2.6M450.5 168.53h2.6M450.5 161.92h2.6M450.5 155.31h2.6M450.5 148.71h2.6M450.5 142.10h2.6M450.5 135.50h2.6M450.5 128.89h2.6M450.5 122.29h4.6M450.5 115.68h2.6M450.5 109.07h2.6M450.5 102.47h2.6M450.5 95.86h2.6M450.5 89.26h2.6M450.5 82.65h2.6M450.5 76.05h2.6M450.5 69.44h2.6M450.5 62.83h2.6M450.5 56.23h4.6M450.5 49.62h2.6M450.5 43.02h2.6M450.5 36.41h2.6M450.5 29.81h2.6M450.5 23.20h2.6M458.65 254.4v-2.6M467.20 254.4v-2.6M475.75 254.4v-2.6M484.30 254.4v-2.6M492.85 254.4v-2.6M501.40 254.4v-2.6M509.95 254.4v-2.6M518.50 254.4v-4.6M527.05 254.4v-2.6M535.60 254.4v-2.6M544.15 254.4v-2.6M552.70 254.4v-2.6M561.25 254.4v-2.6M569.80 254.4v-2.6M578.35 254.4v-2.6M586.90 254.4v-2.6M595.45 254.4v-2.6M604.00 254.4v-4.6M612.55 254.4v-2.6M621.10 254.4v-2.6M629.65 254.4v-2.6M638.20 254.4v-2.6M646.75 254.4v-2.6M655.30 254.4v-2.6M663.85 254.4v-2.6M672.40 254.4v-2.6M680.95 254.4v-2.6M689.50 254.4v-4.6M698.05 254.4v-2.6M706.60 254.4v-2.6M715.15 254.4v-2.6M723.70 254.4v-2.6M732.25 254.4v-2.6M740.80 254.4v-2.6M749.35 254.4v-2.6M757.90 254.4v-2.6M766.45 254.4v-2.6M775.00 254.4v-4.6" fill="none" stroke="#000" stroke-width="1.1"/>
<g font-family='"Liberation Sans", sans-serif' font-weight="bold" fill="#000">
<text x="403.4" y="19.0" font-size="24.8">B</text>
<text x="441.5" y="60.4" font-size="12.0" text-anchor="end">0.6</text>
<text x="441.5" y="126.5" font-size="12.0" text-anchor="end">0.4</text>
<text x="441.5" y="192.5" font-size="12.0" text-anchor="end">0.2</text>
<text x="442.9" y="258.1" font-size="12.0" text-anchor="end">0</text>
<text x="518.7" y="271" font-size="12.2" text-anchor="middle">400</text>
<text x="604.2" y="271" font-size="12.2" text-anchor="middle">500</text>
<text x="689.7" y="271" font-size="12.2" text-anchor="middle">600</text>
<text x="775.2" y="271" font-size="12.2" text-anchor="middle">700</text>
<text x="565.4" y="292.3" font-size="12" textLength="93.6" lengthAdjust="spacingAndGlyphs">Wavelength (nm)</text>
<text transform="translate(414.8 186.3) rotate(-90)" font-size="12.4" textLength="73.1" lengthAdjust="spacingAndGlyphs">Absorbance</text>
<text y="41" font-size="13"><tspan x="508.4">E</tspan><tspan font-size="8" dy="4.5">m</tspan><tspan dy="-4.5" x="528.4">=</tspan><tspan x="540.0">-111</tspan><tspan x="570.3">mV</tspan></text>
</g>
<path d="M636.0 3.5V99.5H771.8M636.0 3.50h2.6M636.0 7.34h1.5M636.0 11.18h1.5M636.0 15.02h1.5M636.0 18.86h1.5M636.0 22.70h2.6M636.0 26.54h1.5M636.0 30.38h1.5M636.0 34.22h1.5M636.0 38.06h1.5M636.0 41.90h2.6M636.0 45.74h1.5M636.0 49.58h1.5M636.0 53.42h1.5M636.0 57.26h1.5M636.0 61.10h2.6M636.0 64.94h1.5M636.0 68.78h1.5M636.0 72.62h1.5M636.0 76.46h1.5M636.0 80.30h2.6M636.0 84.14h1.5M636.0 87.98h1.5M636.0 91.82h1.5M636.0 95.66h1.5M636.0 99.50h2.6M636.00 99.5v-2.6M640.52 99.5v-1.5M645.03 99.5v-1.5M649.55 99.5v-1.5M654.07 99.5v-1.5M658.58 99.5v-2.6M663.10 99.5v-1.5M667.62 99.5v-1.5M672.13 99.5v-1.5M676.65 99.5v-1.5M681.17 99.5v-2.6M685.68 99.5v-1.5M690.20 99.5v-1.5M694.72 99.5v-1.5M699.23 99.5v-1.5M703.75 99.5v-2.6M708.27 99.5v-1.5M712.78 99.5v-1.5M717.30 99.5v-1.5M721.82 99.5v-1.5M726.33 99.5v-2.6M730.85 99.5v-1.5M735.37 99.5v-1.5M739.88 99.5v-1.5M744.40 99.5v-1.5M748.92 99.5v-2.6M753.43 99.5v-1.5M757.95 99.5v-1.5M762.47 99.5v-1.5M766.98 99.5v-1.5M771.50 99.5v-2.6" fill="none" stroke="#000" stroke-width="0.9"/>
<path d="M639.2 92.4L756.5 7.6" stroke="#000" stroke-width="0.9" fill="none"/>
<path d="M638.4 91.6h1.6v1.6h-1.6zM651.2 83.0h1.6v1.6h-1.6zM662.1 74.5h1.6v1.6h-1.6zM672.6 67.6h1.6v1.6h-1.6zM681.7 60.3h1.6v1.6h-1.6zM691.7 53.1h1.6v1.6h-1.6zM701.1 46.3h1.6v1.6h-1.6zM709.8 40.0h1.6v1.6h-1.6zM719.9 32.7h1.6v1.6h-1.6zM730.5 25.0h1.6v1.6h-1.6zM742.4 16.4h1.6v1.6h-1.6zM755.7 8.6h1.6v1.6h-1.6z" fill="#000"/>
<g font-family='"Liberation Sans", sans-serif' font-weight="bold" fill="#000" font-size="5.6">
<text x="633.6" y="5.5" text-anchor="end">0</text>
<text x="633.6" y="24.7" text-anchor="end">-0.5</text>
<text x="633.6" y="43.9" text-anchor="end">-1</text>
<text x="633.6" y="63.1" text-anchor="end">-1.5</text>
<text x="633.6" y="82.3" text-anchor="end">-2</text>
<text x="633.6" y="101.5" text-anchor="end">-2.5</text>
<text x="636.4" y="106.7" text-anchor="middle">-3</text>
<text x="659.0" y="106.7" text-anchor="middle">-2</text>
<text x="681.6" y="106.7" text-anchor="middle">-1</text>
<text x="704.0" y="106.7" text-anchor="middle">0</text>
<text x="726.5" y="106.7" text-anchor="middle">1</text>
<text x="749.1" y="106.7" text-anchor="middle">2</text>
<text x="771.7" y="106.7" text-anchor="middle">3</text>
<text x="684.8" y="114.3" font-size="5.85">ln ([ox]/[red])<tspan font-size="3.6" dy="1.6">dye</tspan></text>
<text transform="translate(618.2 72.3) rotate(-90)" font-size="6.0">ln ([ox]/[red])<tspan font-size="3.6" dy="1.6">Pnao</tspan></text>
</g>
</svg>
</body></html>
